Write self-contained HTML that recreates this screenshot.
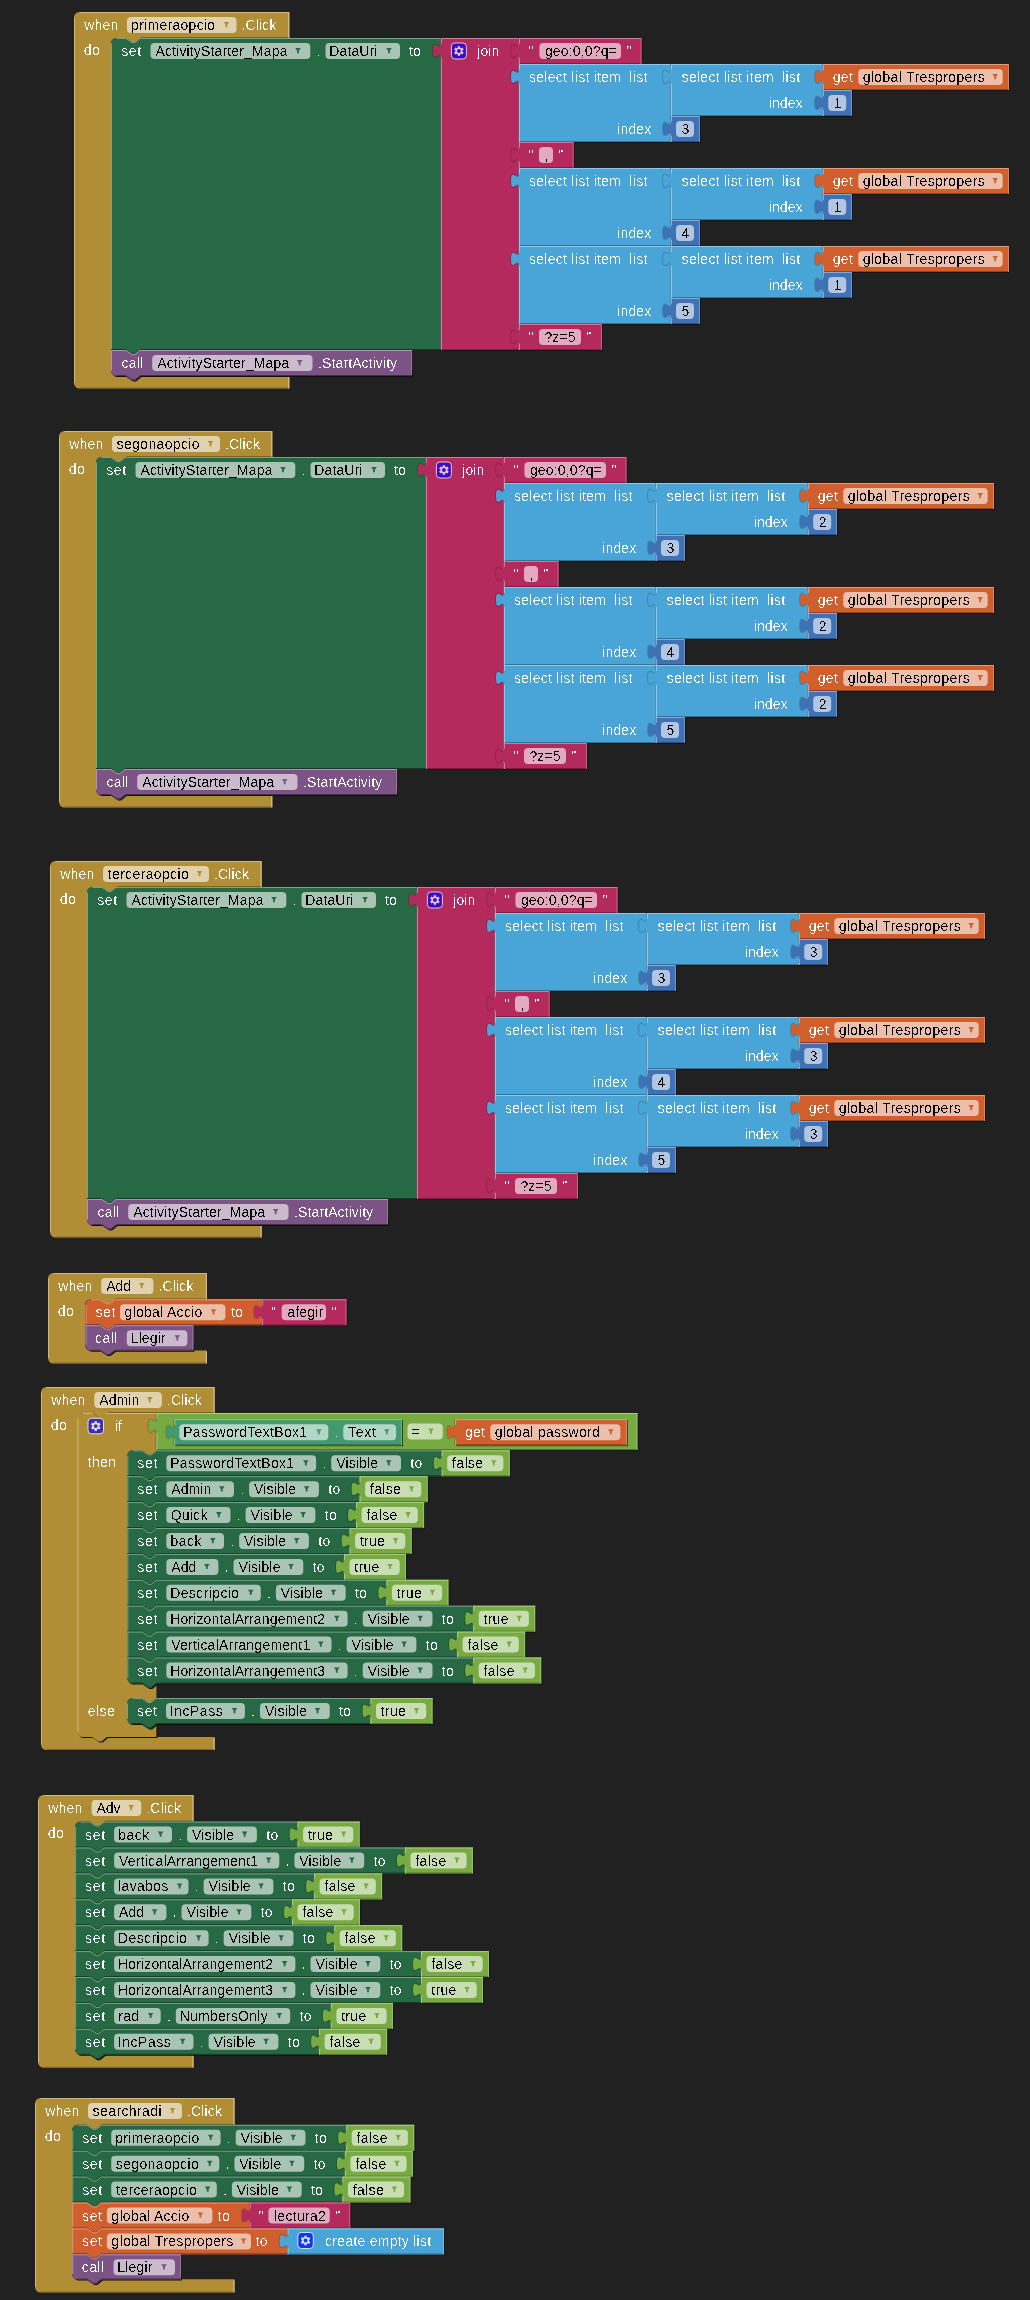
<!DOCTYPE html>
<html><head><meta charset="utf-8"><style>
html,body{margin:0;padding:0;background:#212121;}
svg{display:block;}
text{font-family:"Liberation Sans",Arial,sans-serif;}
</style></head><body>
<svg width="1030" height="2300" viewBox="0 0 1030 2300">
<defs><filter id="crisp" x="0" y="0" width="100%" height="100%" filterUnits="userSpaceOnUse" color-interpolation-filters="sRGB"><feComponentTransfer><feFuncA type="discrete" tableValues="0 0 0 0 0 0 0 0 0 0 0 1 1 1 1 1 1 1 1 1"/></feComponentTransfer></filter><filter id="crispw" x="0" y="0" width="100%" height="100%" filterUnits="userSpaceOnUse" color-interpolation-filters="sRGB"><feComponentTransfer><feFuncA type="discrete" tableValues="0 0 0 0 0 0 0 0 0 0 0 0 1 1 1 1 1 1 1 1"/></feComponentTransfer></filter></defs>
<rect width="1030" height="2300" fill="#212121"/>
<path d="M74,17.5 A5.5,5.5 0 0 1 79.5,12 H289.3 V38 H140.6 l-5.5,4.4 -3,0 -6.6,-4.4 H116.5 A5.5,5.5 0 0 0 111,43.5 V370.5 A5.5,5.5 0 0 0 116.5,376 H289.3 V388.5 H79.5 A5.5,5.5 0 0 1 74,383 Z" fill="#b18e35"/>
<rect x="79.5" y="12" width="209.8" height="1" fill="#cfb982"/>
<rect x="74" y="17.5" width="1" height="365.5" fill="#cfb982"/>
<rect x="288.3" y="13" width="1" height="25" fill="#dccca4"/>
<rect x="288.3" y="377" width="1" height="11.5" fill="#dccca4"/>
<rect x="141" y="37" width="147.3" height="1" fill="#7c6325"/>
<rect x="79.5" y="387.5" width="208.8" height="1" fill="#7c6325"/>
<rect x="127" y="17" width="109.5" height="16" rx="4" fill="#e0d2ae"/>
<path d="M223.7,22 h5.6 l-1.9,2.8 v2.4 h-1.8 v-2.4 z" fill="#b18e35"/>
<path d="M111,43.5 A5.5,5.5 0 0 1 116.5,38 H126 l6,4 3,0 5,-4 H441 V350 H140.6 l-5.5,4.4 -3,0 -6.6,-4.4 H111 Z" fill="#276944"/>
<path d="M116.5,38.5 H126 l6,4 3,0 5,-4 H441" fill="none" stroke="#79a28b" stroke-width="1"/>
<rect x="111" y="43.5" width="1" height="306.5" fill="#79a28b"/>
<rect x="440" y="39" width="1" height="310" fill="#528769"/>
<path d="M111,349.5 H125.6 l6.3,4.2 3,0 5.6,-4.2 H441" fill="none" stroke="#153a25" stroke-width="1"/>
<rect x="150.5" y="43" width="159.8" height="16" rx="4" fill="#a9c3b4"/>
<path d="M295.2,48 h5.6 l-1.9,2.8 v2.4 h-1.8 v-2.4 z" fill="#276944"/>
<rect x="325.5" y="43" width="74.5" height="16" rx="4" fill="#a9c3b4"/>
<path d="M386.2,48 h5.6 l-1.9,2.8 v2.4 h-1.8 v-2.4 z" fill="#276944"/>
<path d="M441,57.8 C441,48.47 433,65.27 433,50.8 C433,36.33 441,53.13 441,43.8" fill="none" stroke="#000" stroke-opacity="0.18" stroke-width="2"/>
<rect x="440" y="38" width="1" height="5.8" fill="#000" fill-opacity="0.25"/>
<rect x="440" y="57.8" width="1" height="292.2" fill="#000" fill-opacity="0.25"/>
<rect x="519" y="39" width="1" height="312" fill="#101010" fill-opacity="0.7"/>
<rect x="442" y="350" width="78" height="1" fill="#101010" fill-opacity="0.7"/>
<path d="M441,38 H519 V350 H441 L441,57.8 C441,48.47 433,65.27 433,50.8 C433,36.33 441,53.13 441,43.8 Z" fill="#b52a5c"/>
<rect x="441" y="38" width="78" height="1" fill="#d17b9a"/>
<rect x="441" y="38" width="1" height="5.8" fill="#d17b9a"/>
<rect x="441" y="57.8" width="1" height="292.2" fill="#d17b9a"/>
<rect x="518" y="38" width="1" height="312" fill="#c85f85"/>
<rect x="442" y="349" width="76" height="1" fill="#7f1d40"/>
<rect x="451.4" y="43" width="15" height="16" rx="3.5" fill="#3a0dcb" stroke="#eac3d1" stroke-width="1"/>
<path d="M457.69,46.15 L460.11,46.15 L460.15,47.73 L461.1,48.28 L462.5,47.53 L463.71,49.62 L462.36,50.45 L462.36,51.55 L463.71,52.38 L462.5,54.47 L461.1,53.72 L460.15,54.27 L460.11,55.85 L457.69,55.85 L457.65,54.27 L456.7,53.72 L455.3,54.47 L454.09,52.38 L455.44,51.55 L455.44,50.45 L454.09,49.62 L455.3,47.53 L456.7,48.28 L457.65,47.73 Z" fill="#eac3d1"/>
<circle cx="458.9" cy="51" r="1.9" fill="#3a0dcb"/>
<path d="M519,57.8 C519,48.47 511,65.27 511,50.8 C511,36.33 519,53.13 519,43.8" fill="none" stroke="#000" stroke-opacity="0.18" stroke-width="2"/>
<rect x="518" y="38" width="1" height="5.8" fill="#000" fill-opacity="0.25"/>
<rect x="518" y="57.8" width="1" height="6.2" fill="#000" fill-opacity="0.25"/>
<rect x="641.5" y="39" width="1" height="26" fill="#101010" fill-opacity="0.7"/>
<rect x="520" y="64" width="122.5" height="1" fill="#101010" fill-opacity="0.7"/>
<path d="M519,38 H641.5 V64 H519 L519,57.8 C519,48.47 511,65.27 511,50.8 C511,36.33 519,53.13 519,43.8 Z" fill="#b52a5c"/>
<rect x="519" y="38" width="122.5" height="1" fill="#d17b9a"/>
<rect x="519" y="38" width="1" height="5.8" fill="#d17b9a"/>
<rect x="519" y="57.8" width="1" height="6.2" fill="#d17b9a"/>
<rect x="640.5" y="38" width="1" height="26" fill="#c85f85"/>
<rect x="520" y="63" width="120.5" height="1" fill="#7f1d40"/>
<rect x="539.4" y="43" width="81.6" height="16" rx="4" fill="#e1aabe"/>
<path d="M519,83.8 C519,74.47 511,91.27 511,76.8 C511,62.33 519,79.13 519,69.8" fill="none" stroke="#000" stroke-opacity="0.18" stroke-width="2"/>
<rect x="518" y="64" width="1" height="5.8" fill="#000" fill-opacity="0.25"/>
<rect x="518" y="83.8" width="1" height="58.2" fill="#000" fill-opacity="0.25"/>
<rect x="671" y="65" width="1" height="78" fill="#101010" fill-opacity="0.7"/>
<rect x="520" y="142" width="152" height="1" fill="#101010" fill-opacity="0.7"/>
<path d="M519,64 H671 V142 H519 L519,83.8 C519,74.47 511,91.27 511,76.8 C511,62.33 519,79.13 519,69.8 Z" fill="#49a4d7"/>
<rect x="519" y="64" width="152" height="1" fill="#8ec7e6"/>
<rect x="519" y="64" width="1" height="5.8" fill="#8ec7e6"/>
<rect x="519" y="83.8" width="1" height="58.2" fill="#8ec7e6"/>
<rect x="670" y="64" width="1" height="78" fill="#76bbe1"/>
<rect x="520" y="141" width="150" height="1" fill="#337396"/>
<path d="M671,83.8 C671,74.47 663,91.27 663,76.8 C663,62.33 671,79.13 671,69.8" fill="none" stroke="#000" stroke-opacity="0.18" stroke-width="2"/>
<rect x="670" y="64" width="1" height="5.8" fill="#000" fill-opacity="0.25"/>
<rect x="670" y="83.8" width="1" height="32.2" fill="#000" fill-opacity="0.25"/>
<rect x="823" y="65" width="1" height="52" fill="#101010" fill-opacity="0.7"/>
<rect x="672" y="116" width="152" height="1" fill="#101010" fill-opacity="0.7"/>
<path d="M671,64 H823 V116 H671 L671,83.8 C671,74.47 663,91.27 663,76.8 C663,62.33 671,79.13 671,69.8 Z" fill="#49a4d7"/>
<rect x="671" y="64" width="152" height="1" fill="#8ec7e6"/>
<rect x="671" y="64" width="1" height="5.8" fill="#8ec7e6"/>
<rect x="671" y="83.8" width="1" height="32.2" fill="#8ec7e6"/>
<rect x="822" y="64" width="1" height="52" fill="#76bbe1"/>
<rect x="672" y="115" width="150" height="1" fill="#337396"/>
<path d="M823,83.8 C823,74.47 815,91.27 815,76.8 C815,62.33 823,79.13 823,69.8" fill="none" stroke="#000" stroke-opacity="0.18" stroke-width="2"/>
<rect x="822" y="64" width="1" height="5.8" fill="#000" fill-opacity="0.25"/>
<rect x="822" y="83.8" width="1" height="6.2" fill="#000" fill-opacity="0.25"/>
<rect x="1009" y="65" width="1" height="26" fill="#101010" fill-opacity="0.7"/>
<rect x="824" y="90" width="186" height="1" fill="#101010" fill-opacity="0.7"/>
<path d="M823,64 H1009 V90 H823 L823,83.8 C823,74.47 815,91.27 815,76.8 C815,62.33 823,79.13 823,69.8 Z" fill="#d05f2d"/>
<rect x="823" y="64" width="186" height="1" fill="#e29c7d"/>
<rect x="823" y="64" width="1" height="5.8" fill="#e29c7d"/>
<rect x="823" y="83.8" width="1" height="6.2" fill="#e29c7d"/>
<rect x="1008" y="64" width="1" height="26" fill="#dc8762"/>
<rect x="824" y="89" width="184" height="1" fill="#92421f"/>
<rect x="858.3" y="69" width="144.4" height="16" rx="4" fill="#ecbfab"/>
<path d="M992.4,74 h5.6 l-1.9,2.8 v2.4 h-1.8 v-2.4 z" fill="#d05f2d"/>
<path d="M823,109.8 C823,100.47 815,117.27 815,102.8 C815,88.33 823,105.13 823,95.8" fill="none" stroke="#000" stroke-opacity="0.18" stroke-width="2"/>
<rect x="822" y="90" width="1" height="5.8" fill="#000" fill-opacity="0.25"/>
<rect x="822" y="109.8" width="1" height="6.2" fill="#000" fill-opacity="0.25"/>
<rect x="852" y="91" width="1" height="26" fill="#101010" fill-opacity="0.7"/>
<rect x="824" y="116" width="29" height="1" fill="#101010" fill-opacity="0.7"/>
<path d="M823,90 H852 V116 H823 L823,109.8 C823,100.47 815,117.27 815,102.8 C815,88.33 823,105.13 823,95.8 Z" fill="#3f71b5"/>
<rect x="823" y="90" width="29" height="1" fill="#88a7d1"/>
<rect x="823" y="90" width="1" height="5.8" fill="#88a7d1"/>
<rect x="823" y="109.8" width="1" height="6.2" fill="#88a7d1"/>
<rect x="851" y="90" width="1" height="26" fill="#6f94c8"/>
<rect x="824" y="115" width="27" height="1" fill="#2c4f7f"/>
<rect x="828.2" y="95" width="18" height="16" rx="4" fill="#b2c6e1"/>
<path d="M671,135.8 C671,126.47 663,143.27 663,128.8 C663,114.33 671,131.13 671,121.8" fill="none" stroke="#000" stroke-opacity="0.18" stroke-width="2"/>
<rect x="670" y="116" width="1" height="5.8" fill="#000" fill-opacity="0.25"/>
<rect x="670" y="135.8" width="1" height="6.2" fill="#000" fill-opacity="0.25"/>
<rect x="700" y="117" width="1" height="26" fill="#101010" fill-opacity="0.7"/>
<rect x="672" y="142" width="29" height="1" fill="#101010" fill-opacity="0.7"/>
<path d="M671,116 H700 V142 H671 L671,135.8 C671,126.47 663,143.27 663,128.8 C663,114.33 671,131.13 671,121.8 Z" fill="#3f71b5"/>
<rect x="671" y="116" width="29" height="1" fill="#88a7d1"/>
<rect x="671" y="116" width="1" height="5.8" fill="#88a7d1"/>
<rect x="671" y="135.8" width="1" height="6.2" fill="#88a7d1"/>
<rect x="699" y="116" width="1" height="26" fill="#6f94c8"/>
<rect x="672" y="141" width="27" height="1" fill="#2c4f7f"/>
<rect x="676" y="121" width="18" height="16" rx="4" fill="#b2c6e1"/>
<path d="M519,161.8 C519,152.47 511,169.27 511,154.8 C511,140.33 519,157.13 519,147.8" fill="none" stroke="#000" stroke-opacity="0.18" stroke-width="2"/>
<rect x="518" y="142" width="1" height="5.8" fill="#000" fill-opacity="0.25"/>
<rect x="518" y="161.8" width="1" height="6.2" fill="#000" fill-opacity="0.25"/>
<rect x="573.6" y="143" width="1" height="26" fill="#101010" fill-opacity="0.7"/>
<rect x="520" y="168" width="54.6" height="1" fill="#101010" fill-opacity="0.7"/>
<path d="M519,142 H573.6 V168 H519 L519,161.8 C519,152.47 511,169.27 511,154.8 C511,140.33 519,157.13 519,147.8 Z" fill="#b52a5c"/>
<rect x="519" y="142" width="54.6" height="1" fill="#d17b9a"/>
<rect x="519" y="142" width="1" height="5.8" fill="#d17b9a"/>
<rect x="519" y="161.8" width="1" height="6.2" fill="#d17b9a"/>
<rect x="572.6" y="142" width="1" height="26" fill="#c85f85"/>
<rect x="520" y="167" width="52.6" height="1" fill="#7f1d40"/>
<rect x="539" y="147" width="14" height="16" rx="4" fill="#e1aabe"/>
<path d="M519,187.8 C519,178.47 511,195.27 511,180.8 C511,166.33 519,183.13 519,173.8" fill="none" stroke="#000" stroke-opacity="0.18" stroke-width="2"/>
<rect x="518" y="168" width="1" height="5.8" fill="#000" fill-opacity="0.25"/>
<rect x="518" y="187.8" width="1" height="58.2" fill="#000" fill-opacity="0.25"/>
<rect x="671" y="169" width="1" height="78" fill="#101010" fill-opacity="0.7"/>
<rect x="520" y="246" width="152" height="1" fill="#101010" fill-opacity="0.7"/>
<path d="M519,168 H671 V246 H519 L519,187.8 C519,178.47 511,195.27 511,180.8 C511,166.33 519,183.13 519,173.8 Z" fill="#49a4d7"/>
<rect x="519" y="168" width="152" height="1" fill="#8ec7e6"/>
<rect x="519" y="168" width="1" height="5.8" fill="#8ec7e6"/>
<rect x="519" y="187.8" width="1" height="58.2" fill="#8ec7e6"/>
<rect x="670" y="168" width="1" height="78" fill="#76bbe1"/>
<rect x="520" y="245" width="150" height="1" fill="#337396"/>
<path d="M671,187.8 C671,178.47 663,195.27 663,180.8 C663,166.33 671,183.13 671,173.8" fill="none" stroke="#000" stroke-opacity="0.18" stroke-width="2"/>
<rect x="670" y="168" width="1" height="5.8" fill="#000" fill-opacity="0.25"/>
<rect x="670" y="187.8" width="1" height="32.2" fill="#000" fill-opacity="0.25"/>
<rect x="823" y="169" width="1" height="52" fill="#101010" fill-opacity="0.7"/>
<rect x="672" y="220" width="152" height="1" fill="#101010" fill-opacity="0.7"/>
<path d="M671,168 H823 V220 H671 L671,187.8 C671,178.47 663,195.27 663,180.8 C663,166.33 671,183.13 671,173.8 Z" fill="#49a4d7"/>
<rect x="671" y="168" width="152" height="1" fill="#8ec7e6"/>
<rect x="671" y="168" width="1" height="5.8" fill="#8ec7e6"/>
<rect x="671" y="187.8" width="1" height="32.2" fill="#8ec7e6"/>
<rect x="822" y="168" width="1" height="52" fill="#76bbe1"/>
<rect x="672" y="219" width="150" height="1" fill="#337396"/>
<path d="M823,187.8 C823,178.47 815,195.27 815,180.8 C815,166.33 823,183.13 823,173.8" fill="none" stroke="#000" stroke-opacity="0.18" stroke-width="2"/>
<rect x="822" y="168" width="1" height="5.8" fill="#000" fill-opacity="0.25"/>
<rect x="822" y="187.8" width="1" height="6.2" fill="#000" fill-opacity="0.25"/>
<rect x="1009" y="169" width="1" height="26" fill="#101010" fill-opacity="0.7"/>
<rect x="824" y="194" width="186" height="1" fill="#101010" fill-opacity="0.7"/>
<path d="M823,168 H1009 V194 H823 L823,187.8 C823,178.47 815,195.27 815,180.8 C815,166.33 823,183.13 823,173.8 Z" fill="#d05f2d"/>
<rect x="823" y="168" width="186" height="1" fill="#e29c7d"/>
<rect x="823" y="168" width="1" height="5.8" fill="#e29c7d"/>
<rect x="823" y="187.8" width="1" height="6.2" fill="#e29c7d"/>
<rect x="1008" y="168" width="1" height="26" fill="#dc8762"/>
<rect x="824" y="193" width="184" height="1" fill="#92421f"/>
<rect x="858.3" y="173" width="144.4" height="16" rx="4" fill="#ecbfab"/>
<path d="M992.4,178 h5.6 l-1.9,2.8 v2.4 h-1.8 v-2.4 z" fill="#d05f2d"/>
<path d="M823,213.8 C823,204.47 815,221.27 815,206.8 C815,192.33 823,209.13 823,199.8" fill="none" stroke="#000" stroke-opacity="0.18" stroke-width="2"/>
<rect x="822" y="194" width="1" height="5.8" fill="#000" fill-opacity="0.25"/>
<rect x="822" y="213.8" width="1" height="6.2" fill="#000" fill-opacity="0.25"/>
<rect x="852" y="195" width="1" height="26" fill="#101010" fill-opacity="0.7"/>
<rect x="824" y="220" width="29" height="1" fill="#101010" fill-opacity="0.7"/>
<path d="M823,194 H852 V220 H823 L823,213.8 C823,204.47 815,221.27 815,206.8 C815,192.33 823,209.13 823,199.8 Z" fill="#3f71b5"/>
<rect x="823" y="194" width="29" height="1" fill="#88a7d1"/>
<rect x="823" y="194" width="1" height="5.8" fill="#88a7d1"/>
<rect x="823" y="213.8" width="1" height="6.2" fill="#88a7d1"/>
<rect x="851" y="194" width="1" height="26" fill="#6f94c8"/>
<rect x="824" y="219" width="27" height="1" fill="#2c4f7f"/>
<rect x="828.2" y="199" width="18" height="16" rx="4" fill="#b2c6e1"/>
<path d="M671,239.8 C671,230.47 663,247.27 663,232.8 C663,218.33 671,235.13 671,225.8" fill="none" stroke="#000" stroke-opacity="0.18" stroke-width="2"/>
<rect x="670" y="220" width="1" height="5.8" fill="#000" fill-opacity="0.25"/>
<rect x="670" y="239.8" width="1" height="6.2" fill="#000" fill-opacity="0.25"/>
<rect x="700" y="221" width="1" height="26" fill="#101010" fill-opacity="0.7"/>
<rect x="672" y="246" width="29" height="1" fill="#101010" fill-opacity="0.7"/>
<path d="M671,220 H700 V246 H671 L671,239.8 C671,230.47 663,247.27 663,232.8 C663,218.33 671,235.13 671,225.8 Z" fill="#3f71b5"/>
<rect x="671" y="220" width="29" height="1" fill="#88a7d1"/>
<rect x="671" y="220" width="1" height="5.8" fill="#88a7d1"/>
<rect x="671" y="239.8" width="1" height="6.2" fill="#88a7d1"/>
<rect x="699" y="220" width="1" height="26" fill="#6f94c8"/>
<rect x="672" y="245" width="27" height="1" fill="#2c4f7f"/>
<rect x="676" y="225" width="18" height="16" rx="4" fill="#b2c6e1"/>
<path d="M519,265.8 C519,256.47 511,273.27 511,258.8 C511,244.33 519,261.13 519,251.8" fill="none" stroke="#000" stroke-opacity="0.18" stroke-width="2"/>
<rect x="518" y="246" width="1" height="5.8" fill="#000" fill-opacity="0.25"/>
<rect x="518" y="265.8" width="1" height="58.2" fill="#000" fill-opacity="0.25"/>
<rect x="671" y="247" width="1" height="78" fill="#101010" fill-opacity="0.7"/>
<rect x="520" y="324" width="152" height="1" fill="#101010" fill-opacity="0.7"/>
<path d="M519,246 H671 V324 H519 L519,265.8 C519,256.47 511,273.27 511,258.8 C511,244.33 519,261.13 519,251.8 Z" fill="#49a4d7"/>
<rect x="519" y="246" width="152" height="1" fill="#8ec7e6"/>
<rect x="519" y="246" width="1" height="5.8" fill="#8ec7e6"/>
<rect x="519" y="265.8" width="1" height="58.2" fill="#8ec7e6"/>
<rect x="670" y="246" width="1" height="78" fill="#76bbe1"/>
<rect x="520" y="323" width="150" height="1" fill="#337396"/>
<path d="M671,265.8 C671,256.47 663,273.27 663,258.8 C663,244.33 671,261.13 671,251.8" fill="none" stroke="#000" stroke-opacity="0.18" stroke-width="2"/>
<rect x="670" y="246" width="1" height="5.8" fill="#000" fill-opacity="0.25"/>
<rect x="670" y="265.8" width="1" height="32.2" fill="#000" fill-opacity="0.25"/>
<rect x="823" y="247" width="1" height="52" fill="#101010" fill-opacity="0.7"/>
<rect x="672" y="298" width="152" height="1" fill="#101010" fill-opacity="0.7"/>
<path d="M671,246 H823 V298 H671 L671,265.8 C671,256.47 663,273.27 663,258.8 C663,244.33 671,261.13 671,251.8 Z" fill="#49a4d7"/>
<rect x="671" y="246" width="152" height="1" fill="#8ec7e6"/>
<rect x="671" y="246" width="1" height="5.8" fill="#8ec7e6"/>
<rect x="671" y="265.8" width="1" height="32.2" fill="#8ec7e6"/>
<rect x="822" y="246" width="1" height="52" fill="#76bbe1"/>
<rect x="672" y="297" width="150" height="1" fill="#337396"/>
<path d="M823,265.8 C823,256.47 815,273.27 815,258.8 C815,244.33 823,261.13 823,251.8" fill="none" stroke="#000" stroke-opacity="0.18" stroke-width="2"/>
<rect x="822" y="246" width="1" height="5.8" fill="#000" fill-opacity="0.25"/>
<rect x="822" y="265.8" width="1" height="6.2" fill="#000" fill-opacity="0.25"/>
<rect x="1009" y="247" width="1" height="26" fill="#101010" fill-opacity="0.7"/>
<rect x="824" y="272" width="186" height="1" fill="#101010" fill-opacity="0.7"/>
<path d="M823,246 H1009 V272 H823 L823,265.8 C823,256.47 815,273.27 815,258.8 C815,244.33 823,261.13 823,251.8 Z" fill="#d05f2d"/>
<rect x="823" y="246" width="186" height="1" fill="#e29c7d"/>
<rect x="823" y="246" width="1" height="5.8" fill="#e29c7d"/>
<rect x="823" y="265.8" width="1" height="6.2" fill="#e29c7d"/>
<rect x="1008" y="246" width="1" height="26" fill="#dc8762"/>
<rect x="824" y="271" width="184" height="1" fill="#92421f"/>
<rect x="858.3" y="251" width="144.4" height="16" rx="4" fill="#ecbfab"/>
<path d="M992.4,256 h5.6 l-1.9,2.8 v2.4 h-1.8 v-2.4 z" fill="#d05f2d"/>
<path d="M823,291.8 C823,282.47 815,299.27 815,284.8 C815,270.33 823,287.13 823,277.8" fill="none" stroke="#000" stroke-opacity="0.18" stroke-width="2"/>
<rect x="822" y="272" width="1" height="5.8" fill="#000" fill-opacity="0.25"/>
<rect x="822" y="291.8" width="1" height="6.2" fill="#000" fill-opacity="0.25"/>
<rect x="852" y="273" width="1" height="26" fill="#101010" fill-opacity="0.7"/>
<rect x="824" y="298" width="29" height="1" fill="#101010" fill-opacity="0.7"/>
<path d="M823,272 H852 V298 H823 L823,291.8 C823,282.47 815,299.27 815,284.8 C815,270.33 823,287.13 823,277.8 Z" fill="#3f71b5"/>
<rect x="823" y="272" width="29" height="1" fill="#88a7d1"/>
<rect x="823" y="272" width="1" height="5.8" fill="#88a7d1"/>
<rect x="823" y="291.8" width="1" height="6.2" fill="#88a7d1"/>
<rect x="851" y="272" width="1" height="26" fill="#6f94c8"/>
<rect x="824" y="297" width="27" height="1" fill="#2c4f7f"/>
<rect x="828.2" y="277" width="18" height="16" rx="4" fill="#b2c6e1"/>
<path d="M671,317.8 C671,308.47 663,325.27 663,310.8 C663,296.33 671,313.13 671,303.8" fill="none" stroke="#000" stroke-opacity="0.18" stroke-width="2"/>
<rect x="670" y="298" width="1" height="5.8" fill="#000" fill-opacity="0.25"/>
<rect x="670" y="317.8" width="1" height="6.2" fill="#000" fill-opacity="0.25"/>
<rect x="700" y="299" width="1" height="26" fill="#101010" fill-opacity="0.7"/>
<rect x="672" y="324" width="29" height="1" fill="#101010" fill-opacity="0.7"/>
<path d="M671,298 H700 V324 H671 L671,317.8 C671,308.47 663,325.27 663,310.8 C663,296.33 671,313.13 671,303.8 Z" fill="#3f71b5"/>
<rect x="671" y="298" width="29" height="1" fill="#88a7d1"/>
<rect x="671" y="298" width="1" height="5.8" fill="#88a7d1"/>
<rect x="671" y="317.8" width="1" height="6.2" fill="#88a7d1"/>
<rect x="699" y="298" width="1" height="26" fill="#6f94c8"/>
<rect x="672" y="323" width="27" height="1" fill="#2c4f7f"/>
<rect x="676" y="303" width="18" height="16" rx="4" fill="#b2c6e1"/>
<path d="M519,343.8 C519,334.47 511,351.27 511,336.8 C511,322.33 519,339.13 519,329.8" fill="none" stroke="#000" stroke-opacity="0.18" stroke-width="2"/>
<rect x="518" y="324" width="1" height="5.8" fill="#000" fill-opacity="0.25"/>
<rect x="518" y="343.8" width="1" height="6.2" fill="#000" fill-opacity="0.25"/>
<rect x="602" y="325" width="1" height="26" fill="#101010" fill-opacity="0.7"/>
<rect x="520" y="350" width="83" height="1" fill="#101010" fill-opacity="0.7"/>
<path d="M519,324 H602 V350 H519 L519,343.8 C519,334.47 511,351.27 511,336.8 C511,322.33 519,339.13 519,329.8 Z" fill="#b52a5c"/>
<rect x="519" y="324" width="83" height="1" fill="#d17b9a"/>
<rect x="519" y="324" width="1" height="5.8" fill="#d17b9a"/>
<rect x="519" y="343.8" width="1" height="6.2" fill="#d17b9a"/>
<rect x="601" y="324" width="1" height="26" fill="#c85f85"/>
<rect x="520" y="349" width="81" height="1" fill="#7f1d40"/>
<rect x="539" y="329" width="42" height="16" rx="4" fill="#e1aabe"/>
<clipPath id="c1"><rect x="0" y="369.5" width="1030" height="200"/></clipPath>
<path d="M111,350 H126 l6,4 3,0 5,-4 H412 V376 H140.6 l-5.5,4.4 -3,0 -6.6,-4.4 H116.5 A5.5,5.5 0 0 1 111,370.5 Z" fill="#101010" transform="translate(1,1)" clip-path="url(#c1)"/>
<path d="M111,350 H126 l6,4 3,0 5,-4 H412 V376 H140.6 l-5.5,4.4 -3,0 -6.6,-4.4 H116.5 A5.5,5.5 0 0 1 111,370.5 Z" fill="#7c5385"/>
<path d="M111,350.5 H126 l6,4 3,0 5,-4 H412" fill="none" stroke="#ae94b3" stroke-width="1"/>
<rect x="111" y="350" width="1" height="20.5" fill="#ae94b3"/>
<rect x="411" y="351" width="1" height="24" fill="#96759d"/>
<path d="M116.5,375.5 H125.6 l6.3,4.2 3,0 5.6,-4.2 H412" fill="none" stroke="#442e49" stroke-width="1"/>
<rect x="152.2" y="355" width="160.3" height="16" rx="4" fill="#cbbace"/>
<path d="M296.9,360 h5.6 l-1.9,2.8 v2.4 h-1.8 v-2.4 z" fill="#7c5385"/>
<path d="M59,436.5 A5.5,5.5 0 0 1 64.5,431 H272.3 V457 H125.6 l-5.5,4.4 -3,0 -6.6,-4.4 H101.5 A5.5,5.5 0 0 0 96,462.5 V789.5 A5.5,5.5 0 0 0 101.5,795 H272.3 V807.5 H64.5 A5.5,5.5 0 0 1 59,802 Z" fill="#b18e35"/>
<rect x="64.5" y="431" width="207.8" height="1" fill="#cfb982"/>
<rect x="59" y="436.5" width="1" height="365.5" fill="#cfb982"/>
<rect x="271.3" y="432" width="1" height="25" fill="#dccca4"/>
<rect x="271.3" y="796" width="1" height="11.5" fill="#dccca4"/>
<rect x="126" y="456" width="145.3" height="1" fill="#7c6325"/>
<rect x="64.5" y="806.5" width="206.8" height="1" fill="#7c6325"/>
<rect x="112" y="436" width="108" height="16" rx="4" fill="#e0d2ae"/>
<path d="M207.7,441 h5.6 l-1.9,2.8 v2.4 h-1.8 v-2.4 z" fill="#b18e35"/>
<path d="M96,462.5 A5.5,5.5 0 0 1 101.5,457 H111 l6,4 3,0 5,-4 H426 V769 H125.6 l-5.5,4.4 -3,0 -6.6,-4.4 H96 Z" fill="#276944"/>
<path d="M101.5,457.5 H111 l6,4 3,0 5,-4 H426" fill="none" stroke="#79a28b" stroke-width="1"/>
<rect x="96" y="462.5" width="1" height="306.5" fill="#79a28b"/>
<rect x="425" y="458" width="1" height="310" fill="#528769"/>
<path d="M96,768.5 H110.6 l6.3,4.2 3,0 5.6,-4.2 H426" fill="none" stroke="#153a25" stroke-width="1"/>
<rect x="135.5" y="462" width="159.8" height="16" rx="4" fill="#a9c3b4"/>
<path d="M280.2,467 h5.6 l-1.9,2.8 v2.4 h-1.8 v-2.4 z" fill="#276944"/>
<rect x="310.5" y="462" width="74.5" height="16" rx="4" fill="#a9c3b4"/>
<path d="M371.2,467 h5.6 l-1.9,2.8 v2.4 h-1.8 v-2.4 z" fill="#276944"/>
<path d="M426,476.8 C426,467.47 418,484.27 418,469.8 C418,455.33 426,472.13 426,462.8" fill="none" stroke="#000" stroke-opacity="0.18" stroke-width="2"/>
<rect x="425" y="457" width="1" height="5.8" fill="#000" fill-opacity="0.25"/>
<rect x="425" y="476.8" width="1" height="292.2" fill="#000" fill-opacity="0.25"/>
<rect x="504" y="458" width="1" height="312" fill="#101010" fill-opacity="0.7"/>
<rect x="427" y="769" width="78" height="1" fill="#101010" fill-opacity="0.7"/>
<path d="M426,457 H504 V769 H426 L426,476.8 C426,467.47 418,484.27 418,469.8 C418,455.33 426,472.13 426,462.8 Z" fill="#b52a5c"/>
<rect x="426" y="457" width="78" height="1" fill="#d17b9a"/>
<rect x="426" y="457" width="1" height="5.8" fill="#d17b9a"/>
<rect x="426" y="476.8" width="1" height="292.2" fill="#d17b9a"/>
<rect x="503" y="457" width="1" height="312" fill="#c85f85"/>
<rect x="427" y="768" width="76" height="1" fill="#7f1d40"/>
<rect x="436.4" y="462" width="15" height="16" rx="3.5" fill="#3a0dcb" stroke="#eac3d1" stroke-width="1"/>
<path d="M442.69,465.15 L445.11,465.15 L445.15,466.73 L446.1,467.28 L447.5,466.53 L448.71,468.62 L447.36,469.45 L447.36,470.55 L448.71,471.38 L447.5,473.47 L446.1,472.72 L445.15,473.27 L445.11,474.85 L442.69,474.85 L442.65,473.27 L441.7,472.72 L440.3,473.47 L439.09,471.38 L440.44,470.55 L440.44,469.45 L439.09,468.62 L440.3,466.53 L441.7,467.28 L442.65,466.73 Z" fill="#eac3d1"/>
<circle cx="443.9" cy="470" r="1.9" fill="#3a0dcb"/>
<path d="M504,476.8 C504,467.47 496,484.27 496,469.8 C496,455.33 504,472.13 504,462.8" fill="none" stroke="#000" stroke-opacity="0.18" stroke-width="2"/>
<rect x="503" y="457" width="1" height="5.8" fill="#000" fill-opacity="0.25"/>
<rect x="503" y="476.8" width="1" height="6.2" fill="#000" fill-opacity="0.25"/>
<rect x="626.5" y="458" width="1" height="26" fill="#101010" fill-opacity="0.7"/>
<rect x="505" y="483" width="122.5" height="1" fill="#101010" fill-opacity="0.7"/>
<path d="M504,457 H626.5 V483 H504 L504,476.8 C504,467.47 496,484.27 496,469.8 C496,455.33 504,472.13 504,462.8 Z" fill="#b52a5c"/>
<rect x="504" y="457" width="122.5" height="1" fill="#d17b9a"/>
<rect x="504" y="457" width="1" height="5.8" fill="#d17b9a"/>
<rect x="504" y="476.8" width="1" height="6.2" fill="#d17b9a"/>
<rect x="625.5" y="457" width="1" height="26" fill="#c85f85"/>
<rect x="505" y="482" width="120.5" height="1" fill="#7f1d40"/>
<rect x="524.4" y="462" width="81.6" height="16" rx="4" fill="#e1aabe"/>
<path d="M504,502.8 C504,493.47 496,510.27 496,495.8 C496,481.33 504,498.13 504,488.8" fill="none" stroke="#000" stroke-opacity="0.18" stroke-width="2"/>
<rect x="503" y="483" width="1" height="5.8" fill="#000" fill-opacity="0.25"/>
<rect x="503" y="502.8" width="1" height="58.2" fill="#000" fill-opacity="0.25"/>
<rect x="656" y="484" width="1" height="78" fill="#101010" fill-opacity="0.7"/>
<rect x="505" y="561" width="152" height="1" fill="#101010" fill-opacity="0.7"/>
<path d="M504,483 H656 V561 H504 L504,502.8 C504,493.47 496,510.27 496,495.8 C496,481.33 504,498.13 504,488.8 Z" fill="#49a4d7"/>
<rect x="504" y="483" width="152" height="1" fill="#8ec7e6"/>
<rect x="504" y="483" width="1" height="5.8" fill="#8ec7e6"/>
<rect x="504" y="502.8" width="1" height="58.2" fill="#8ec7e6"/>
<rect x="655" y="483" width="1" height="78" fill="#76bbe1"/>
<rect x="505" y="560" width="150" height="1" fill="#337396"/>
<path d="M656,502.8 C656,493.47 648,510.27 648,495.8 C648,481.33 656,498.13 656,488.8" fill="none" stroke="#000" stroke-opacity="0.18" stroke-width="2"/>
<rect x="655" y="483" width="1" height="5.8" fill="#000" fill-opacity="0.25"/>
<rect x="655" y="502.8" width="1" height="32.2" fill="#000" fill-opacity="0.25"/>
<rect x="808" y="484" width="1" height="52" fill="#101010" fill-opacity="0.7"/>
<rect x="657" y="535" width="152" height="1" fill="#101010" fill-opacity="0.7"/>
<path d="M656,483 H808 V535 H656 L656,502.8 C656,493.47 648,510.27 648,495.8 C648,481.33 656,498.13 656,488.8 Z" fill="#49a4d7"/>
<rect x="656" y="483" width="152" height="1" fill="#8ec7e6"/>
<rect x="656" y="483" width="1" height="5.8" fill="#8ec7e6"/>
<rect x="656" y="502.8" width="1" height="32.2" fill="#8ec7e6"/>
<rect x="807" y="483" width="1" height="52" fill="#76bbe1"/>
<rect x="657" y="534" width="150" height="1" fill="#337396"/>
<path d="M808,502.8 C808,493.47 800,510.27 800,495.8 C800,481.33 808,498.13 808,488.8" fill="none" stroke="#000" stroke-opacity="0.18" stroke-width="2"/>
<rect x="807" y="483" width="1" height="5.8" fill="#000" fill-opacity="0.25"/>
<rect x="807" y="502.8" width="1" height="6.2" fill="#000" fill-opacity="0.25"/>
<rect x="994" y="484" width="1" height="26" fill="#101010" fill-opacity="0.7"/>
<rect x="809" y="509" width="186" height="1" fill="#101010" fill-opacity="0.7"/>
<path d="M808,483 H994 V509 H808 L808,502.8 C808,493.47 800,510.27 800,495.8 C800,481.33 808,498.13 808,488.8 Z" fill="#d05f2d"/>
<rect x="808" y="483" width="186" height="1" fill="#e29c7d"/>
<rect x="808" y="483" width="1" height="5.8" fill="#e29c7d"/>
<rect x="808" y="502.8" width="1" height="6.2" fill="#e29c7d"/>
<rect x="993" y="483" width="1" height="26" fill="#dc8762"/>
<rect x="809" y="508" width="184" height="1" fill="#92421f"/>
<rect x="843.3" y="488" width="144.4" height="16" rx="4" fill="#ecbfab"/>
<path d="M977.4,493 h5.6 l-1.9,2.8 v2.4 h-1.8 v-2.4 z" fill="#d05f2d"/>
<path d="M808,528.8 C808,519.47 800,536.27 800,521.8 C800,507.33 808,524.13 808,514.8" fill="none" stroke="#000" stroke-opacity="0.18" stroke-width="2"/>
<rect x="807" y="509" width="1" height="5.8" fill="#000" fill-opacity="0.25"/>
<rect x="807" y="528.8" width="1" height="6.2" fill="#000" fill-opacity="0.25"/>
<rect x="837" y="510" width="1" height="26" fill="#101010" fill-opacity="0.7"/>
<rect x="809" y="535" width="29" height="1" fill="#101010" fill-opacity="0.7"/>
<path d="M808,509 H837 V535 H808 L808,528.8 C808,519.47 800,536.27 800,521.8 C800,507.33 808,524.13 808,514.8 Z" fill="#3f71b5"/>
<rect x="808" y="509" width="29" height="1" fill="#88a7d1"/>
<rect x="808" y="509" width="1" height="5.8" fill="#88a7d1"/>
<rect x="808" y="528.8" width="1" height="6.2" fill="#88a7d1"/>
<rect x="836" y="509" width="1" height="26" fill="#6f94c8"/>
<rect x="809" y="534" width="27" height="1" fill="#2c4f7f"/>
<rect x="813.2" y="514" width="18" height="16" rx="4" fill="#b2c6e1"/>
<path d="M656,554.8 C656,545.47 648,562.27 648,547.8 C648,533.33 656,550.13 656,540.8" fill="none" stroke="#000" stroke-opacity="0.18" stroke-width="2"/>
<rect x="655" y="535" width="1" height="5.8" fill="#000" fill-opacity="0.25"/>
<rect x="655" y="554.8" width="1" height="6.2" fill="#000" fill-opacity="0.25"/>
<rect x="685" y="536" width="1" height="26" fill="#101010" fill-opacity="0.7"/>
<rect x="657" y="561" width="29" height="1" fill="#101010" fill-opacity="0.7"/>
<path d="M656,535 H685 V561 H656 L656,554.8 C656,545.47 648,562.27 648,547.8 C648,533.33 656,550.13 656,540.8 Z" fill="#3f71b5"/>
<rect x="656" y="535" width="29" height="1" fill="#88a7d1"/>
<rect x="656" y="535" width="1" height="5.8" fill="#88a7d1"/>
<rect x="656" y="554.8" width="1" height="6.2" fill="#88a7d1"/>
<rect x="684" y="535" width="1" height="26" fill="#6f94c8"/>
<rect x="657" y="560" width="27" height="1" fill="#2c4f7f"/>
<rect x="661" y="540" width="18" height="16" rx="4" fill="#b2c6e1"/>
<path d="M504,580.8 C504,571.47 496,588.27 496,573.8 C496,559.33 504,576.13 504,566.8" fill="none" stroke="#000" stroke-opacity="0.18" stroke-width="2"/>
<rect x="503" y="561" width="1" height="5.8" fill="#000" fill-opacity="0.25"/>
<rect x="503" y="580.8" width="1" height="6.2" fill="#000" fill-opacity="0.25"/>
<rect x="558.6" y="562" width="1" height="26" fill="#101010" fill-opacity="0.7"/>
<rect x="505" y="587" width="54.6" height="1" fill="#101010" fill-opacity="0.7"/>
<path d="M504,561 H558.6 V587 H504 L504,580.8 C504,571.47 496,588.27 496,573.8 C496,559.33 504,576.13 504,566.8 Z" fill="#b52a5c"/>
<rect x="504" y="561" width="54.6" height="1" fill="#d17b9a"/>
<rect x="504" y="561" width="1" height="5.8" fill="#d17b9a"/>
<rect x="504" y="580.8" width="1" height="6.2" fill="#d17b9a"/>
<rect x="557.6" y="561" width="1" height="26" fill="#c85f85"/>
<rect x="505" y="586" width="52.6" height="1" fill="#7f1d40"/>
<rect x="524" y="566" width="14" height="16" rx="4" fill="#e1aabe"/>
<path d="M504,606.8 C504,597.47 496,614.27 496,599.8 C496,585.33 504,602.13 504,592.8" fill="none" stroke="#000" stroke-opacity="0.18" stroke-width="2"/>
<rect x="503" y="587" width="1" height="5.8" fill="#000" fill-opacity="0.25"/>
<rect x="503" y="606.8" width="1" height="58.2" fill="#000" fill-opacity="0.25"/>
<rect x="656" y="588" width="1" height="78" fill="#101010" fill-opacity="0.7"/>
<rect x="505" y="665" width="152" height="1" fill="#101010" fill-opacity="0.7"/>
<path d="M504,587 H656 V665 H504 L504,606.8 C504,597.47 496,614.27 496,599.8 C496,585.33 504,602.13 504,592.8 Z" fill="#49a4d7"/>
<rect x="504" y="587" width="152" height="1" fill="#8ec7e6"/>
<rect x="504" y="587" width="1" height="5.8" fill="#8ec7e6"/>
<rect x="504" y="606.8" width="1" height="58.2" fill="#8ec7e6"/>
<rect x="655" y="587" width="1" height="78" fill="#76bbe1"/>
<rect x="505" y="664" width="150" height="1" fill="#337396"/>
<path d="M656,606.8 C656,597.47 648,614.27 648,599.8 C648,585.33 656,602.13 656,592.8" fill="none" stroke="#000" stroke-opacity="0.18" stroke-width="2"/>
<rect x="655" y="587" width="1" height="5.8" fill="#000" fill-opacity="0.25"/>
<rect x="655" y="606.8" width="1" height="32.2" fill="#000" fill-opacity="0.25"/>
<rect x="808" y="588" width="1" height="52" fill="#101010" fill-opacity="0.7"/>
<rect x="657" y="639" width="152" height="1" fill="#101010" fill-opacity="0.7"/>
<path d="M656,587 H808 V639 H656 L656,606.8 C656,597.47 648,614.27 648,599.8 C648,585.33 656,602.13 656,592.8 Z" fill="#49a4d7"/>
<rect x="656" y="587" width="152" height="1" fill="#8ec7e6"/>
<rect x="656" y="587" width="1" height="5.8" fill="#8ec7e6"/>
<rect x="656" y="606.8" width="1" height="32.2" fill="#8ec7e6"/>
<rect x="807" y="587" width="1" height="52" fill="#76bbe1"/>
<rect x="657" y="638" width="150" height="1" fill="#337396"/>
<path d="M808,606.8 C808,597.47 800,614.27 800,599.8 C800,585.33 808,602.13 808,592.8" fill="none" stroke="#000" stroke-opacity="0.18" stroke-width="2"/>
<rect x="807" y="587" width="1" height="5.8" fill="#000" fill-opacity="0.25"/>
<rect x="807" y="606.8" width="1" height="6.2" fill="#000" fill-opacity="0.25"/>
<rect x="994" y="588" width="1" height="26" fill="#101010" fill-opacity="0.7"/>
<rect x="809" y="613" width="186" height="1" fill="#101010" fill-opacity="0.7"/>
<path d="M808,587 H994 V613 H808 L808,606.8 C808,597.47 800,614.27 800,599.8 C800,585.33 808,602.13 808,592.8 Z" fill="#d05f2d"/>
<rect x="808" y="587" width="186" height="1" fill="#e29c7d"/>
<rect x="808" y="587" width="1" height="5.8" fill="#e29c7d"/>
<rect x="808" y="606.8" width="1" height="6.2" fill="#e29c7d"/>
<rect x="993" y="587" width="1" height="26" fill="#dc8762"/>
<rect x="809" y="612" width="184" height="1" fill="#92421f"/>
<rect x="843.3" y="592" width="144.4" height="16" rx="4" fill="#ecbfab"/>
<path d="M977.4,597 h5.6 l-1.9,2.8 v2.4 h-1.8 v-2.4 z" fill="#d05f2d"/>
<path d="M808,632.8 C808,623.47 800,640.27 800,625.8 C800,611.33 808,628.13 808,618.8" fill="none" stroke="#000" stroke-opacity="0.18" stroke-width="2"/>
<rect x="807" y="613" width="1" height="5.8" fill="#000" fill-opacity="0.25"/>
<rect x="807" y="632.8" width="1" height="6.2" fill="#000" fill-opacity="0.25"/>
<rect x="837" y="614" width="1" height="26" fill="#101010" fill-opacity="0.7"/>
<rect x="809" y="639" width="29" height="1" fill="#101010" fill-opacity="0.7"/>
<path d="M808,613 H837 V639 H808 L808,632.8 C808,623.47 800,640.27 800,625.8 C800,611.33 808,628.13 808,618.8 Z" fill="#3f71b5"/>
<rect x="808" y="613" width="29" height="1" fill="#88a7d1"/>
<rect x="808" y="613" width="1" height="5.8" fill="#88a7d1"/>
<rect x="808" y="632.8" width="1" height="6.2" fill="#88a7d1"/>
<rect x="836" y="613" width="1" height="26" fill="#6f94c8"/>
<rect x="809" y="638" width="27" height="1" fill="#2c4f7f"/>
<rect x="813.2" y="618" width="18" height="16" rx="4" fill="#b2c6e1"/>
<path d="M656,658.8 C656,649.47 648,666.27 648,651.8 C648,637.33 656,654.13 656,644.8" fill="none" stroke="#000" stroke-opacity="0.18" stroke-width="2"/>
<rect x="655" y="639" width="1" height="5.8" fill="#000" fill-opacity="0.25"/>
<rect x="655" y="658.8" width="1" height="6.2" fill="#000" fill-opacity="0.25"/>
<rect x="685" y="640" width="1" height="26" fill="#101010" fill-opacity="0.7"/>
<rect x="657" y="665" width="29" height="1" fill="#101010" fill-opacity="0.7"/>
<path d="M656,639 H685 V665 H656 L656,658.8 C656,649.47 648,666.27 648,651.8 C648,637.33 656,654.13 656,644.8 Z" fill="#3f71b5"/>
<rect x="656" y="639" width="29" height="1" fill="#88a7d1"/>
<rect x="656" y="639" width="1" height="5.8" fill="#88a7d1"/>
<rect x="656" y="658.8" width="1" height="6.2" fill="#88a7d1"/>
<rect x="684" y="639" width="1" height="26" fill="#6f94c8"/>
<rect x="657" y="664" width="27" height="1" fill="#2c4f7f"/>
<rect x="661" y="644" width="18" height="16" rx="4" fill="#b2c6e1"/>
<path d="M504,684.8 C504,675.47 496,692.27 496,677.8 C496,663.33 504,680.13 504,670.8" fill="none" stroke="#000" stroke-opacity="0.18" stroke-width="2"/>
<rect x="503" y="665" width="1" height="5.8" fill="#000" fill-opacity="0.25"/>
<rect x="503" y="684.8" width="1" height="58.2" fill="#000" fill-opacity="0.25"/>
<rect x="656" y="666" width="1" height="78" fill="#101010" fill-opacity="0.7"/>
<rect x="505" y="743" width="152" height="1" fill="#101010" fill-opacity="0.7"/>
<path d="M504,665 H656 V743 H504 L504,684.8 C504,675.47 496,692.27 496,677.8 C496,663.33 504,680.13 504,670.8 Z" fill="#49a4d7"/>
<rect x="504" y="665" width="152" height="1" fill="#8ec7e6"/>
<rect x="504" y="665" width="1" height="5.8" fill="#8ec7e6"/>
<rect x="504" y="684.8" width="1" height="58.2" fill="#8ec7e6"/>
<rect x="655" y="665" width="1" height="78" fill="#76bbe1"/>
<rect x="505" y="742" width="150" height="1" fill="#337396"/>
<path d="M656,684.8 C656,675.47 648,692.27 648,677.8 C648,663.33 656,680.13 656,670.8" fill="none" stroke="#000" stroke-opacity="0.18" stroke-width="2"/>
<rect x="655" y="665" width="1" height="5.8" fill="#000" fill-opacity="0.25"/>
<rect x="655" y="684.8" width="1" height="32.2" fill="#000" fill-opacity="0.25"/>
<rect x="808" y="666" width="1" height="52" fill="#101010" fill-opacity="0.7"/>
<rect x="657" y="717" width="152" height="1" fill="#101010" fill-opacity="0.7"/>
<path d="M656,665 H808 V717 H656 L656,684.8 C656,675.47 648,692.27 648,677.8 C648,663.33 656,680.13 656,670.8 Z" fill="#49a4d7"/>
<rect x="656" y="665" width="152" height="1" fill="#8ec7e6"/>
<rect x="656" y="665" width="1" height="5.8" fill="#8ec7e6"/>
<rect x="656" y="684.8" width="1" height="32.2" fill="#8ec7e6"/>
<rect x="807" y="665" width="1" height="52" fill="#76bbe1"/>
<rect x="657" y="716" width="150" height="1" fill="#337396"/>
<path d="M808,684.8 C808,675.47 800,692.27 800,677.8 C800,663.33 808,680.13 808,670.8" fill="none" stroke="#000" stroke-opacity="0.18" stroke-width="2"/>
<rect x="807" y="665" width="1" height="5.8" fill="#000" fill-opacity="0.25"/>
<rect x="807" y="684.8" width="1" height="6.2" fill="#000" fill-opacity="0.25"/>
<rect x="994" y="666" width="1" height="26" fill="#101010" fill-opacity="0.7"/>
<rect x="809" y="691" width="186" height="1" fill="#101010" fill-opacity="0.7"/>
<path d="M808,665 H994 V691 H808 L808,684.8 C808,675.47 800,692.27 800,677.8 C800,663.33 808,680.13 808,670.8 Z" fill="#d05f2d"/>
<rect x="808" y="665" width="186" height="1" fill="#e29c7d"/>
<rect x="808" y="665" width="1" height="5.8" fill="#e29c7d"/>
<rect x="808" y="684.8" width="1" height="6.2" fill="#e29c7d"/>
<rect x="993" y="665" width="1" height="26" fill="#dc8762"/>
<rect x="809" y="690" width="184" height="1" fill="#92421f"/>
<rect x="843.3" y="670" width="144.4" height="16" rx="4" fill="#ecbfab"/>
<path d="M977.4,675 h5.6 l-1.9,2.8 v2.4 h-1.8 v-2.4 z" fill="#d05f2d"/>
<path d="M808,710.8 C808,701.47 800,718.27 800,703.8 C800,689.33 808,706.13 808,696.8" fill="none" stroke="#000" stroke-opacity="0.18" stroke-width="2"/>
<rect x="807" y="691" width="1" height="5.8" fill="#000" fill-opacity="0.25"/>
<rect x="807" y="710.8" width="1" height="6.2" fill="#000" fill-opacity="0.25"/>
<rect x="837" y="692" width="1" height="26" fill="#101010" fill-opacity="0.7"/>
<rect x="809" y="717" width="29" height="1" fill="#101010" fill-opacity="0.7"/>
<path d="M808,691 H837 V717 H808 L808,710.8 C808,701.47 800,718.27 800,703.8 C800,689.33 808,706.13 808,696.8 Z" fill="#3f71b5"/>
<rect x="808" y="691" width="29" height="1" fill="#88a7d1"/>
<rect x="808" y="691" width="1" height="5.8" fill="#88a7d1"/>
<rect x="808" y="710.8" width="1" height="6.2" fill="#88a7d1"/>
<rect x="836" y="691" width="1" height="26" fill="#6f94c8"/>
<rect x="809" y="716" width="27" height="1" fill="#2c4f7f"/>
<rect x="813.2" y="696" width="18" height="16" rx="4" fill="#b2c6e1"/>
<path d="M656,736.8 C656,727.47 648,744.27 648,729.8 C648,715.33 656,732.13 656,722.8" fill="none" stroke="#000" stroke-opacity="0.18" stroke-width="2"/>
<rect x="655" y="717" width="1" height="5.8" fill="#000" fill-opacity="0.25"/>
<rect x="655" y="736.8" width="1" height="6.2" fill="#000" fill-opacity="0.25"/>
<rect x="685" y="718" width="1" height="26" fill="#101010" fill-opacity="0.7"/>
<rect x="657" y="743" width="29" height="1" fill="#101010" fill-opacity="0.7"/>
<path d="M656,717 H685 V743 H656 L656,736.8 C656,727.47 648,744.27 648,729.8 C648,715.33 656,732.13 656,722.8 Z" fill="#3f71b5"/>
<rect x="656" y="717" width="29" height="1" fill="#88a7d1"/>
<rect x="656" y="717" width="1" height="5.8" fill="#88a7d1"/>
<rect x="656" y="736.8" width="1" height="6.2" fill="#88a7d1"/>
<rect x="684" y="717" width="1" height="26" fill="#6f94c8"/>
<rect x="657" y="742" width="27" height="1" fill="#2c4f7f"/>
<rect x="661" y="722" width="18" height="16" rx="4" fill="#b2c6e1"/>
<path d="M504,762.8 C504,753.47 496,770.27 496,755.8 C496,741.33 504,758.13 504,748.8" fill="none" stroke="#000" stroke-opacity="0.18" stroke-width="2"/>
<rect x="503" y="743" width="1" height="5.8" fill="#000" fill-opacity="0.25"/>
<rect x="503" y="762.8" width="1" height="6.2" fill="#000" fill-opacity="0.25"/>
<rect x="587" y="744" width="1" height="26" fill="#101010" fill-opacity="0.7"/>
<rect x="505" y="769" width="83" height="1" fill="#101010" fill-opacity="0.7"/>
<path d="M504,743 H587 V769 H504 L504,762.8 C504,753.47 496,770.27 496,755.8 C496,741.33 504,758.13 504,748.8 Z" fill="#b52a5c"/>
<rect x="504" y="743" width="83" height="1" fill="#d17b9a"/>
<rect x="504" y="743" width="1" height="5.8" fill="#d17b9a"/>
<rect x="504" y="762.8" width="1" height="6.2" fill="#d17b9a"/>
<rect x="586" y="743" width="1" height="26" fill="#c85f85"/>
<rect x="505" y="768" width="81" height="1" fill="#7f1d40"/>
<rect x="524" y="748" width="42" height="16" rx="4" fill="#e1aabe"/>
<clipPath id="c2"><rect x="0" y="788.5" width="1030" height="200"/></clipPath>
<path d="M96,769 H111 l6,4 3,0 5,-4 H397 V795 H125.6 l-5.5,4.4 -3,0 -6.6,-4.4 H101.5 A5.5,5.5 0 0 1 96,789.5 Z" fill="#101010" transform="translate(1,1)" clip-path="url(#c2)"/>
<path d="M96,769 H111 l6,4 3,0 5,-4 H397 V795 H125.6 l-5.5,4.4 -3,0 -6.6,-4.4 H101.5 A5.5,5.5 0 0 1 96,789.5 Z" fill="#7c5385"/>
<path d="M96,769.5 H111 l6,4 3,0 5,-4 H397" fill="none" stroke="#ae94b3" stroke-width="1"/>
<rect x="96" y="769" width="1" height="20.5" fill="#ae94b3"/>
<rect x="396" y="770" width="1" height="24" fill="#96759d"/>
<path d="M101.5,794.5 H110.6 l6.3,4.2 3,0 5.6,-4.2 H397" fill="none" stroke="#442e49" stroke-width="1"/>
<rect x="137.2" y="774" width="160.3" height="16" rx="4" fill="#cbbace"/>
<path d="M281.9,779 h5.6 l-1.9,2.8 v2.4 h-1.8 v-2.4 z" fill="#7c5385"/>
<path d="M50,866.5 A5.5,5.5 0 0 1 55.5,861 H261.6 V887 H116.6 l-5.5,4.4 -3,0 -6.6,-4.4 H92.5 A5.5,5.5 0 0 0 87,892.5 V1219.5 A5.5,5.5 0 0 0 92.5,1225 H261.6 V1237.5 H55.5 A5.5,5.5 0 0 1 50,1232 Z" fill="#b18e35"/>
<rect x="55.5" y="861" width="206.1" height="1" fill="#cfb982"/>
<rect x="50" y="866.5" width="1" height="365.5" fill="#cfb982"/>
<rect x="260.6" y="862" width="1" height="25" fill="#dccca4"/>
<rect x="260.6" y="1226" width="1" height="11.5" fill="#dccca4"/>
<rect x="117" y="886" width="143.6" height="1" fill="#7c6325"/>
<rect x="55.5" y="1236.5" width="205.1" height="1" fill="#7c6325"/>
<rect x="103" y="866" width="106" height="16" rx="4" fill="#e0d2ae"/>
<path d="M196.7,871 h5.6 l-1.9,2.8 v2.4 h-1.8 v-2.4 z" fill="#b18e35"/>
<path d="M87,892.5 A5.5,5.5 0 0 1 92.5,887 H102 l6,4 3,0 5,-4 H417 V1199 H116.6 l-5.5,4.4 -3,0 -6.6,-4.4 H87 Z" fill="#276944"/>
<path d="M92.5,887.5 H102 l6,4 3,0 5,-4 H417" fill="none" stroke="#79a28b" stroke-width="1"/>
<rect x="87" y="892.5" width="1" height="306.5" fill="#79a28b"/>
<rect x="416" y="888" width="1" height="310" fill="#528769"/>
<path d="M87,1198.5 H101.6 l6.3,4.2 3,0 5.6,-4.2 H417" fill="none" stroke="#153a25" stroke-width="1"/>
<rect x="126.5" y="892" width="159.8" height="16" rx="4" fill="#a9c3b4"/>
<path d="M271.2,897 h5.6 l-1.9,2.8 v2.4 h-1.8 v-2.4 z" fill="#276944"/>
<rect x="301.5" y="892" width="74.5" height="16" rx="4" fill="#a9c3b4"/>
<path d="M362.2,897 h5.6 l-1.9,2.8 v2.4 h-1.8 v-2.4 z" fill="#276944"/>
<path d="M417,906.8 C417,897.47 409,914.27 409,899.8 C409,885.33 417,902.13 417,892.8" fill="none" stroke="#000" stroke-opacity="0.18" stroke-width="2"/>
<rect x="416" y="887" width="1" height="5.8" fill="#000" fill-opacity="0.25"/>
<rect x="416" y="906.8" width="1" height="292.2" fill="#000" fill-opacity="0.25"/>
<rect x="495" y="888" width="1" height="312" fill="#101010" fill-opacity="0.7"/>
<rect x="418" y="1199" width="78" height="1" fill="#101010" fill-opacity="0.7"/>
<path d="M417,887 H495 V1199 H417 L417,906.8 C417,897.47 409,914.27 409,899.8 C409,885.33 417,902.13 417,892.8 Z" fill="#b52a5c"/>
<rect x="417" y="887" width="78" height="1" fill="#d17b9a"/>
<rect x="417" y="887" width="1" height="5.8" fill="#d17b9a"/>
<rect x="417" y="906.8" width="1" height="292.2" fill="#d17b9a"/>
<rect x="494" y="887" width="1" height="312" fill="#c85f85"/>
<rect x="418" y="1198" width="76" height="1" fill="#7f1d40"/>
<rect x="427.4" y="892" width="15" height="16" rx="3.5" fill="#3a0dcb" stroke="#eac3d1" stroke-width="1"/>
<path d="M433.69,895.15 L436.11,895.15 L436.15,896.73 L437.1,897.28 L438.5,896.53 L439.71,898.62 L438.36,899.45 L438.36,900.55 L439.71,901.38 L438.5,903.47 L437.1,902.72 L436.15,903.27 L436.11,904.85 L433.69,904.85 L433.65,903.27 L432.7,902.72 L431.3,903.47 L430.09,901.38 L431.44,900.55 L431.44,899.45 L430.09,898.62 L431.3,896.53 L432.7,897.28 L433.65,896.73 Z" fill="#eac3d1"/>
<circle cx="434.9" cy="900" r="1.9" fill="#3a0dcb"/>
<path d="M495,906.8 C495,897.47 487,914.27 487,899.8 C487,885.33 495,902.13 495,892.8" fill="none" stroke="#000" stroke-opacity="0.18" stroke-width="2"/>
<rect x="494" y="887" width="1" height="5.8" fill="#000" fill-opacity="0.25"/>
<rect x="494" y="906.8" width="1" height="6.2" fill="#000" fill-opacity="0.25"/>
<rect x="617.5" y="888" width="1" height="26" fill="#101010" fill-opacity="0.7"/>
<rect x="496" y="913" width="122.5" height="1" fill="#101010" fill-opacity="0.7"/>
<path d="M495,887 H617.5 V913 H495 L495,906.8 C495,897.47 487,914.27 487,899.8 C487,885.33 495,902.13 495,892.8 Z" fill="#b52a5c"/>
<rect x="495" y="887" width="122.5" height="1" fill="#d17b9a"/>
<rect x="495" y="887" width="1" height="5.8" fill="#d17b9a"/>
<rect x="495" y="906.8" width="1" height="6.2" fill="#d17b9a"/>
<rect x="616.5" y="887" width="1" height="26" fill="#c85f85"/>
<rect x="496" y="912" width="120.5" height="1" fill="#7f1d40"/>
<rect x="515.4" y="892" width="81.6" height="16" rx="4" fill="#e1aabe"/>
<path d="M495,932.8 C495,923.47 487,940.27 487,925.8 C487,911.33 495,928.13 495,918.8" fill="none" stroke="#000" stroke-opacity="0.18" stroke-width="2"/>
<rect x="494" y="913" width="1" height="5.8" fill="#000" fill-opacity="0.25"/>
<rect x="494" y="932.8" width="1" height="58.2" fill="#000" fill-opacity="0.25"/>
<rect x="647" y="914" width="1" height="78" fill="#101010" fill-opacity="0.7"/>
<rect x="496" y="991" width="152" height="1" fill="#101010" fill-opacity="0.7"/>
<path d="M495,913 H647 V991 H495 L495,932.8 C495,923.47 487,940.27 487,925.8 C487,911.33 495,928.13 495,918.8 Z" fill="#49a4d7"/>
<rect x="495" y="913" width="152" height="1" fill="#8ec7e6"/>
<rect x="495" y="913" width="1" height="5.8" fill="#8ec7e6"/>
<rect x="495" y="932.8" width="1" height="58.2" fill="#8ec7e6"/>
<rect x="646" y="913" width="1" height="78" fill="#76bbe1"/>
<rect x="496" y="990" width="150" height="1" fill="#337396"/>
<path d="M647,932.8 C647,923.47 639,940.27 639,925.8 C639,911.33 647,928.13 647,918.8" fill="none" stroke="#000" stroke-opacity="0.18" stroke-width="2"/>
<rect x="646" y="913" width="1" height="5.8" fill="#000" fill-opacity="0.25"/>
<rect x="646" y="932.8" width="1" height="32.2" fill="#000" fill-opacity="0.25"/>
<rect x="799" y="914" width="1" height="52" fill="#101010" fill-opacity="0.7"/>
<rect x="648" y="965" width="152" height="1" fill="#101010" fill-opacity="0.7"/>
<path d="M647,913 H799 V965 H647 L647,932.8 C647,923.47 639,940.27 639,925.8 C639,911.33 647,928.13 647,918.8 Z" fill="#49a4d7"/>
<rect x="647" y="913" width="152" height="1" fill="#8ec7e6"/>
<rect x="647" y="913" width="1" height="5.8" fill="#8ec7e6"/>
<rect x="647" y="932.8" width="1" height="32.2" fill="#8ec7e6"/>
<rect x="798" y="913" width="1" height="52" fill="#76bbe1"/>
<rect x="648" y="964" width="150" height="1" fill="#337396"/>
<path d="M799,932.8 C799,923.47 791,940.27 791,925.8 C791,911.33 799,928.13 799,918.8" fill="none" stroke="#000" stroke-opacity="0.18" stroke-width="2"/>
<rect x="798" y="913" width="1" height="5.8" fill="#000" fill-opacity="0.25"/>
<rect x="798" y="932.8" width="1" height="6.2" fill="#000" fill-opacity="0.25"/>
<rect x="985" y="914" width="1" height="26" fill="#101010" fill-opacity="0.7"/>
<rect x="800" y="939" width="186" height="1" fill="#101010" fill-opacity="0.7"/>
<path d="M799,913 H985 V939 H799 L799,932.8 C799,923.47 791,940.27 791,925.8 C791,911.33 799,928.13 799,918.8 Z" fill="#d05f2d"/>
<rect x="799" y="913" width="186" height="1" fill="#e29c7d"/>
<rect x="799" y="913" width="1" height="5.8" fill="#e29c7d"/>
<rect x="799" y="932.8" width="1" height="6.2" fill="#e29c7d"/>
<rect x="984" y="913" width="1" height="26" fill="#dc8762"/>
<rect x="800" y="938" width="184" height="1" fill="#92421f"/>
<rect x="834.3" y="918" width="144.4" height="16" rx="4" fill="#ecbfab"/>
<path d="M968.4,923 h5.6 l-1.9,2.8 v2.4 h-1.8 v-2.4 z" fill="#d05f2d"/>
<path d="M799,958.8 C799,949.47 791,966.27 791,951.8 C791,937.33 799,954.13 799,944.8" fill="none" stroke="#000" stroke-opacity="0.18" stroke-width="2"/>
<rect x="798" y="939" width="1" height="5.8" fill="#000" fill-opacity="0.25"/>
<rect x="798" y="958.8" width="1" height="6.2" fill="#000" fill-opacity="0.25"/>
<rect x="828" y="940" width="1" height="26" fill="#101010" fill-opacity="0.7"/>
<rect x="800" y="965" width="29" height="1" fill="#101010" fill-opacity="0.7"/>
<path d="M799,939 H828 V965 H799 L799,958.8 C799,949.47 791,966.27 791,951.8 C791,937.33 799,954.13 799,944.8 Z" fill="#3f71b5"/>
<rect x="799" y="939" width="29" height="1" fill="#88a7d1"/>
<rect x="799" y="939" width="1" height="5.8" fill="#88a7d1"/>
<rect x="799" y="958.8" width="1" height="6.2" fill="#88a7d1"/>
<rect x="827" y="939" width="1" height="26" fill="#6f94c8"/>
<rect x="800" y="964" width="27" height="1" fill="#2c4f7f"/>
<rect x="804.2" y="944" width="18" height="16" rx="4" fill="#b2c6e1"/>
<path d="M647,984.8 C647,975.47 639,992.27 639,977.8 C639,963.33 647,980.13 647,970.8" fill="none" stroke="#000" stroke-opacity="0.18" stroke-width="2"/>
<rect x="646" y="965" width="1" height="5.8" fill="#000" fill-opacity="0.25"/>
<rect x="646" y="984.8" width="1" height="6.2" fill="#000" fill-opacity="0.25"/>
<rect x="676" y="966" width="1" height="26" fill="#101010" fill-opacity="0.7"/>
<rect x="648" y="991" width="29" height="1" fill="#101010" fill-opacity="0.7"/>
<path d="M647,965 H676 V991 H647 L647,984.8 C647,975.47 639,992.27 639,977.8 C639,963.33 647,980.13 647,970.8 Z" fill="#3f71b5"/>
<rect x="647" y="965" width="29" height="1" fill="#88a7d1"/>
<rect x="647" y="965" width="1" height="5.8" fill="#88a7d1"/>
<rect x="647" y="984.8" width="1" height="6.2" fill="#88a7d1"/>
<rect x="675" y="965" width="1" height="26" fill="#6f94c8"/>
<rect x="648" y="990" width="27" height="1" fill="#2c4f7f"/>
<rect x="652" y="970" width="18" height="16" rx="4" fill="#b2c6e1"/>
<path d="M495,1010.8 C495,1001.47 487,1018.27 487,1003.8 C487,989.33 495,1006.13 495,996.8" fill="none" stroke="#000" stroke-opacity="0.18" stroke-width="2"/>
<rect x="494" y="991" width="1" height="5.8" fill="#000" fill-opacity="0.25"/>
<rect x="494" y="1010.8" width="1" height="6.2" fill="#000" fill-opacity="0.25"/>
<rect x="549.6" y="992" width="1" height="26" fill="#101010" fill-opacity="0.7"/>
<rect x="496" y="1017" width="54.6" height="1" fill="#101010" fill-opacity="0.7"/>
<path d="M495,991 H549.6 V1017 H495 L495,1010.8 C495,1001.47 487,1018.27 487,1003.8 C487,989.33 495,1006.13 495,996.8 Z" fill="#b52a5c"/>
<rect x="495" y="991" width="54.6" height="1" fill="#d17b9a"/>
<rect x="495" y="991" width="1" height="5.8" fill="#d17b9a"/>
<rect x="495" y="1010.8" width="1" height="6.2" fill="#d17b9a"/>
<rect x="548.6" y="991" width="1" height="26" fill="#c85f85"/>
<rect x="496" y="1016" width="52.6" height="1" fill="#7f1d40"/>
<rect x="515" y="996" width="14" height="16" rx="4" fill="#e1aabe"/>
<path d="M495,1036.8 C495,1027.47 487,1044.27 487,1029.8 C487,1015.33 495,1032.13 495,1022.8" fill="none" stroke="#000" stroke-opacity="0.18" stroke-width="2"/>
<rect x="494" y="1017" width="1" height="5.8" fill="#000" fill-opacity="0.25"/>
<rect x="494" y="1036.8" width="1" height="58.2" fill="#000" fill-opacity="0.25"/>
<rect x="647" y="1018" width="1" height="78" fill="#101010" fill-opacity="0.7"/>
<rect x="496" y="1095" width="152" height="1" fill="#101010" fill-opacity="0.7"/>
<path d="M495,1017 H647 V1095 H495 L495,1036.8 C495,1027.47 487,1044.27 487,1029.8 C487,1015.33 495,1032.13 495,1022.8 Z" fill="#49a4d7"/>
<rect x="495" y="1017" width="152" height="1" fill="#8ec7e6"/>
<rect x="495" y="1017" width="1" height="5.8" fill="#8ec7e6"/>
<rect x="495" y="1036.8" width="1" height="58.2" fill="#8ec7e6"/>
<rect x="646" y="1017" width="1" height="78" fill="#76bbe1"/>
<rect x="496" y="1094" width="150" height="1" fill="#337396"/>
<path d="M647,1036.8 C647,1027.47 639,1044.27 639,1029.8 C639,1015.33 647,1032.13 647,1022.8" fill="none" stroke="#000" stroke-opacity="0.18" stroke-width="2"/>
<rect x="646" y="1017" width="1" height="5.8" fill="#000" fill-opacity="0.25"/>
<rect x="646" y="1036.8" width="1" height="32.2" fill="#000" fill-opacity="0.25"/>
<rect x="799" y="1018" width="1" height="52" fill="#101010" fill-opacity="0.7"/>
<rect x="648" y="1069" width="152" height="1" fill="#101010" fill-opacity="0.7"/>
<path d="M647,1017 H799 V1069 H647 L647,1036.8 C647,1027.47 639,1044.27 639,1029.8 C639,1015.33 647,1032.13 647,1022.8 Z" fill="#49a4d7"/>
<rect x="647" y="1017" width="152" height="1" fill="#8ec7e6"/>
<rect x="647" y="1017" width="1" height="5.8" fill="#8ec7e6"/>
<rect x="647" y="1036.8" width="1" height="32.2" fill="#8ec7e6"/>
<rect x="798" y="1017" width="1" height="52" fill="#76bbe1"/>
<rect x="648" y="1068" width="150" height="1" fill="#337396"/>
<path d="M799,1036.8 C799,1027.47 791,1044.27 791,1029.8 C791,1015.33 799,1032.13 799,1022.8" fill="none" stroke="#000" stroke-opacity="0.18" stroke-width="2"/>
<rect x="798" y="1017" width="1" height="5.8" fill="#000" fill-opacity="0.25"/>
<rect x="798" y="1036.8" width="1" height="6.2" fill="#000" fill-opacity="0.25"/>
<rect x="985" y="1018" width="1" height="26" fill="#101010" fill-opacity="0.7"/>
<rect x="800" y="1043" width="186" height="1" fill="#101010" fill-opacity="0.7"/>
<path d="M799,1017 H985 V1043 H799 L799,1036.8 C799,1027.47 791,1044.27 791,1029.8 C791,1015.33 799,1032.13 799,1022.8 Z" fill="#d05f2d"/>
<rect x="799" y="1017" width="186" height="1" fill="#e29c7d"/>
<rect x="799" y="1017" width="1" height="5.8" fill="#e29c7d"/>
<rect x="799" y="1036.8" width="1" height="6.2" fill="#e29c7d"/>
<rect x="984" y="1017" width="1" height="26" fill="#dc8762"/>
<rect x="800" y="1042" width="184" height="1" fill="#92421f"/>
<rect x="834.3" y="1022" width="144.4" height="16" rx="4" fill="#ecbfab"/>
<path d="M968.4,1027 h5.6 l-1.9,2.8 v2.4 h-1.8 v-2.4 z" fill="#d05f2d"/>
<path d="M799,1062.8 C799,1053.47 791,1070.27 791,1055.8 C791,1041.33 799,1058.13 799,1048.8" fill="none" stroke="#000" stroke-opacity="0.18" stroke-width="2"/>
<rect x="798" y="1043" width="1" height="5.8" fill="#000" fill-opacity="0.25"/>
<rect x="798" y="1062.8" width="1" height="6.2" fill="#000" fill-opacity="0.25"/>
<rect x="828" y="1044" width="1" height="26" fill="#101010" fill-opacity="0.7"/>
<rect x="800" y="1069" width="29" height="1" fill="#101010" fill-opacity="0.7"/>
<path d="M799,1043 H828 V1069 H799 L799,1062.8 C799,1053.47 791,1070.27 791,1055.8 C791,1041.33 799,1058.13 799,1048.8 Z" fill="#3f71b5"/>
<rect x="799" y="1043" width="29" height="1" fill="#88a7d1"/>
<rect x="799" y="1043" width="1" height="5.8" fill="#88a7d1"/>
<rect x="799" y="1062.8" width="1" height="6.2" fill="#88a7d1"/>
<rect x="827" y="1043" width="1" height="26" fill="#6f94c8"/>
<rect x="800" y="1068" width="27" height="1" fill="#2c4f7f"/>
<rect x="804.2" y="1048" width="18" height="16" rx="4" fill="#b2c6e1"/>
<path d="M647,1088.8 C647,1079.47 639,1096.27 639,1081.8 C639,1067.33 647,1084.13 647,1074.8" fill="none" stroke="#000" stroke-opacity="0.18" stroke-width="2"/>
<rect x="646" y="1069" width="1" height="5.8" fill="#000" fill-opacity="0.25"/>
<rect x="646" y="1088.8" width="1" height="6.2" fill="#000" fill-opacity="0.25"/>
<rect x="676" y="1070" width="1" height="26" fill="#101010" fill-opacity="0.7"/>
<rect x="648" y="1095" width="29" height="1" fill="#101010" fill-opacity="0.7"/>
<path d="M647,1069 H676 V1095 H647 L647,1088.8 C647,1079.47 639,1096.27 639,1081.8 C639,1067.33 647,1084.13 647,1074.8 Z" fill="#3f71b5"/>
<rect x="647" y="1069" width="29" height="1" fill="#88a7d1"/>
<rect x="647" y="1069" width="1" height="5.8" fill="#88a7d1"/>
<rect x="647" y="1088.8" width="1" height="6.2" fill="#88a7d1"/>
<rect x="675" y="1069" width="1" height="26" fill="#6f94c8"/>
<rect x="648" y="1094" width="27" height="1" fill="#2c4f7f"/>
<rect x="652" y="1074" width="18" height="16" rx="4" fill="#b2c6e1"/>
<path d="M495,1114.8 C495,1105.47 487,1122.27 487,1107.8 C487,1093.33 495,1110.13 495,1100.8" fill="none" stroke="#000" stroke-opacity="0.18" stroke-width="2"/>
<rect x="494" y="1095" width="1" height="5.8" fill="#000" fill-opacity="0.25"/>
<rect x="494" y="1114.8" width="1" height="58.2" fill="#000" fill-opacity="0.25"/>
<rect x="647" y="1096" width="1" height="78" fill="#101010" fill-opacity="0.7"/>
<rect x="496" y="1173" width="152" height="1" fill="#101010" fill-opacity="0.7"/>
<path d="M495,1095 H647 V1173 H495 L495,1114.8 C495,1105.47 487,1122.27 487,1107.8 C487,1093.33 495,1110.13 495,1100.8 Z" fill="#49a4d7"/>
<rect x="495" y="1095" width="152" height="1" fill="#8ec7e6"/>
<rect x="495" y="1095" width="1" height="5.8" fill="#8ec7e6"/>
<rect x="495" y="1114.8" width="1" height="58.2" fill="#8ec7e6"/>
<rect x="646" y="1095" width="1" height="78" fill="#76bbe1"/>
<rect x="496" y="1172" width="150" height="1" fill="#337396"/>
<path d="M647,1114.8 C647,1105.47 639,1122.27 639,1107.8 C639,1093.33 647,1110.13 647,1100.8" fill="none" stroke="#000" stroke-opacity="0.18" stroke-width="2"/>
<rect x="646" y="1095" width="1" height="5.8" fill="#000" fill-opacity="0.25"/>
<rect x="646" y="1114.8" width="1" height="32.2" fill="#000" fill-opacity="0.25"/>
<rect x="799" y="1096" width="1" height="52" fill="#101010" fill-opacity="0.7"/>
<rect x="648" y="1147" width="152" height="1" fill="#101010" fill-opacity="0.7"/>
<path d="M647,1095 H799 V1147 H647 L647,1114.8 C647,1105.47 639,1122.27 639,1107.8 C639,1093.33 647,1110.13 647,1100.8 Z" fill="#49a4d7"/>
<rect x="647" y="1095" width="152" height="1" fill="#8ec7e6"/>
<rect x="647" y="1095" width="1" height="5.8" fill="#8ec7e6"/>
<rect x="647" y="1114.8" width="1" height="32.2" fill="#8ec7e6"/>
<rect x="798" y="1095" width="1" height="52" fill="#76bbe1"/>
<rect x="648" y="1146" width="150" height="1" fill="#337396"/>
<path d="M799,1114.8 C799,1105.47 791,1122.27 791,1107.8 C791,1093.33 799,1110.13 799,1100.8" fill="none" stroke="#000" stroke-opacity="0.18" stroke-width="2"/>
<rect x="798" y="1095" width="1" height="5.8" fill="#000" fill-opacity="0.25"/>
<rect x="798" y="1114.8" width="1" height="6.2" fill="#000" fill-opacity="0.25"/>
<rect x="985" y="1096" width="1" height="26" fill="#101010" fill-opacity="0.7"/>
<rect x="800" y="1121" width="186" height="1" fill="#101010" fill-opacity="0.7"/>
<path d="M799,1095 H985 V1121 H799 L799,1114.8 C799,1105.47 791,1122.27 791,1107.8 C791,1093.33 799,1110.13 799,1100.8 Z" fill="#d05f2d"/>
<rect x="799" y="1095" width="186" height="1" fill="#e29c7d"/>
<rect x="799" y="1095" width="1" height="5.8" fill="#e29c7d"/>
<rect x="799" y="1114.8" width="1" height="6.2" fill="#e29c7d"/>
<rect x="984" y="1095" width="1" height="26" fill="#dc8762"/>
<rect x="800" y="1120" width="184" height="1" fill="#92421f"/>
<rect x="834.3" y="1100" width="144.4" height="16" rx="4" fill="#ecbfab"/>
<path d="M968.4,1105 h5.6 l-1.9,2.8 v2.4 h-1.8 v-2.4 z" fill="#d05f2d"/>
<path d="M799,1140.8 C799,1131.47 791,1148.27 791,1133.8 C791,1119.33 799,1136.13 799,1126.8" fill="none" stroke="#000" stroke-opacity="0.18" stroke-width="2"/>
<rect x="798" y="1121" width="1" height="5.8" fill="#000" fill-opacity="0.25"/>
<rect x="798" y="1140.8" width="1" height="6.2" fill="#000" fill-opacity="0.25"/>
<rect x="828" y="1122" width="1" height="26" fill="#101010" fill-opacity="0.7"/>
<rect x="800" y="1147" width="29" height="1" fill="#101010" fill-opacity="0.7"/>
<path d="M799,1121 H828 V1147 H799 L799,1140.8 C799,1131.47 791,1148.27 791,1133.8 C791,1119.33 799,1136.13 799,1126.8 Z" fill="#3f71b5"/>
<rect x="799" y="1121" width="29" height="1" fill="#88a7d1"/>
<rect x="799" y="1121" width="1" height="5.8" fill="#88a7d1"/>
<rect x="799" y="1140.8" width="1" height="6.2" fill="#88a7d1"/>
<rect x="827" y="1121" width="1" height="26" fill="#6f94c8"/>
<rect x="800" y="1146" width="27" height="1" fill="#2c4f7f"/>
<rect x="804.2" y="1126" width="18" height="16" rx="4" fill="#b2c6e1"/>
<path d="M647,1166.8 C647,1157.47 639,1174.27 639,1159.8 C639,1145.33 647,1162.13 647,1152.8" fill="none" stroke="#000" stroke-opacity="0.18" stroke-width="2"/>
<rect x="646" y="1147" width="1" height="5.8" fill="#000" fill-opacity="0.25"/>
<rect x="646" y="1166.8" width="1" height="6.2" fill="#000" fill-opacity="0.25"/>
<rect x="676" y="1148" width="1" height="26" fill="#101010" fill-opacity="0.7"/>
<rect x="648" y="1173" width="29" height="1" fill="#101010" fill-opacity="0.7"/>
<path d="M647,1147 H676 V1173 H647 L647,1166.8 C647,1157.47 639,1174.27 639,1159.8 C639,1145.33 647,1162.13 647,1152.8 Z" fill="#3f71b5"/>
<rect x="647" y="1147" width="29" height="1" fill="#88a7d1"/>
<rect x="647" y="1147" width="1" height="5.8" fill="#88a7d1"/>
<rect x="647" y="1166.8" width="1" height="6.2" fill="#88a7d1"/>
<rect x="675" y="1147" width="1" height="26" fill="#6f94c8"/>
<rect x="648" y="1172" width="27" height="1" fill="#2c4f7f"/>
<rect x="652" y="1152" width="18" height="16" rx="4" fill="#b2c6e1"/>
<path d="M495,1192.8 C495,1183.47 487,1200.27 487,1185.8 C487,1171.33 495,1188.13 495,1178.8" fill="none" stroke="#000" stroke-opacity="0.18" stroke-width="2"/>
<rect x="494" y="1173" width="1" height="5.8" fill="#000" fill-opacity="0.25"/>
<rect x="494" y="1192.8" width="1" height="6.2" fill="#000" fill-opacity="0.25"/>
<rect x="578" y="1174" width="1" height="26" fill="#101010" fill-opacity="0.7"/>
<rect x="496" y="1199" width="83" height="1" fill="#101010" fill-opacity="0.7"/>
<path d="M495,1173 H578 V1199 H495 L495,1192.8 C495,1183.47 487,1200.27 487,1185.8 C487,1171.33 495,1188.13 495,1178.8 Z" fill="#b52a5c"/>
<rect x="495" y="1173" width="83" height="1" fill="#d17b9a"/>
<rect x="495" y="1173" width="1" height="5.8" fill="#d17b9a"/>
<rect x="495" y="1192.8" width="1" height="6.2" fill="#d17b9a"/>
<rect x="577" y="1173" width="1" height="26" fill="#c85f85"/>
<rect x="496" y="1198" width="81" height="1" fill="#7f1d40"/>
<rect x="515" y="1178" width="42" height="16" rx="4" fill="#e1aabe"/>
<clipPath id="c3"><rect x="0" y="1218.5" width="1030" height="200"/></clipPath>
<path d="M87,1199 H102 l6,4 3,0 5,-4 H388 V1225 H116.6 l-5.5,4.4 -3,0 -6.6,-4.4 H92.5 A5.5,5.5 0 0 1 87,1219.5 Z" fill="#101010" transform="translate(1,1)" clip-path="url(#c3)"/>
<path d="M87,1199 H102 l6,4 3,0 5,-4 H388 V1225 H116.6 l-5.5,4.4 -3,0 -6.6,-4.4 H92.5 A5.5,5.5 0 0 1 87,1219.5 Z" fill="#7c5385"/>
<path d="M87,1199.5 H102 l6,4 3,0 5,-4 H388" fill="none" stroke="#ae94b3" stroke-width="1"/>
<rect x="87" y="1199" width="1" height="20.5" fill="#ae94b3"/>
<rect x="387" y="1200" width="1" height="24" fill="#96759d"/>
<path d="M92.5,1224.5 H101.6 l6.3,4.2 3,0 5.6,-4.2 H388" fill="none" stroke="#442e49" stroke-width="1"/>
<rect x="128.2" y="1204" width="160.3" height="16" rx="4" fill="#cbbace"/>
<path d="M272.9,1209 h5.6 l-1.9,2.8 v2.4 h-1.8 v-2.4 z" fill="#7c5385"/>
<path d="M48,1278.5 A5.5,5.5 0 0 1 53.5,1273 H206.8 V1299.3 H114.6 l-5.5,4.4 -3,0 -6.6,-4.4 H90.5 A5.5,5.5 0 0 0 85,1304.8 V1345 A5.5,5.5 0 0 0 90.5,1350.5 H206.8 V1363.5 H53.5 A5.5,5.5 0 0 1 48,1358 Z" fill="#b18e35"/>
<rect x="53.5" y="1273" width="153.3" height="1" fill="#cfb982"/>
<rect x="48" y="1278.5" width="1" height="79.5" fill="#cfb982"/>
<rect x="205.8" y="1274" width="1" height="25.3" fill="#dccca4"/>
<rect x="205.8" y="1351.5" width="1" height="12" fill="#dccca4"/>
<rect x="115" y="1298.3" width="90.8" height="1" fill="#7c6325"/>
<rect x="53.5" y="1362.5" width="152.3" height="1" fill="#7c6325"/>
<rect x="101.2" y="1278" width="52.2" height="16" rx="4" fill="#e0d2ae"/>
<path d="M138.9,1283 h5.6 l-1.9,2.8 v2.4 h-1.8 v-2.4 z" fill="#b18e35"/>
<path d="M85.5,1304.8 A5.5,5.5 0 0 1 91,1299.3 H100.5 l6,4 3,0 5,-4 H262.1 V1325.3 H115.1 l-5.5,4.4 -3,0 -6.6,-4.4 H85.5 Z" fill="#d05f2d"/>
<path d="M91,1299.8 H100.5 l6,4 3,0 5,-4 H262.1" fill="none" stroke="#e29c7d" stroke-width="1"/>
<rect x="85.5" y="1304.8" width="1" height="20.5" fill="#e29c7d"/>
<rect x="261.1" y="1300.3" width="1" height="24" fill="#d97f57"/>
<path d="M85.5,1324.8 H100.1 l6.3,4.2 3,0 5.6,-4.2 H262.1" fill="none" stroke="#723419" stroke-width="1"/>
<rect x="120" y="1304.3" width="105.4" height="16" rx="4" fill="#ecbfab"/>
<path d="M210.7,1309.3 h5.6 l-1.9,2.8 v2.4 h-1.8 v-2.4 z" fill="#d05f2d"/>
<path d="M262.1,1319.1 C262.1,1309.77 254.1,1326.57 254.1,1312.1 C254.1,1297.63 262.1,1314.43 262.1,1305.1" fill="none" stroke="#000" stroke-opacity="0.18" stroke-width="2"/>
<rect x="261.1" y="1299.3" width="1" height="5.8" fill="#000" fill-opacity="0.25"/>
<rect x="261.1" y="1319.1" width="1" height="6.2" fill="#000" fill-opacity="0.25"/>
<rect x="346.4" y="1300.3" width="1" height="26" fill="#101010" fill-opacity="0.7"/>
<rect x="263.1" y="1325.3" width="84.3" height="1" fill="#101010" fill-opacity="0.7"/>
<path d="M262.1,1299.3 H346.4 V1325.3 H262.1 L262.1,1319.1 C262.1,1309.77 254.1,1326.57 254.1,1312.1 C254.1,1297.63 262.1,1314.43 262.1,1305.1 Z" fill="#b52a5c"/>
<rect x="262.1" y="1299.3" width="84.3" height="1" fill="#d17b9a"/>
<rect x="262.1" y="1299.3" width="1" height="5.8" fill="#d17b9a"/>
<rect x="262.1" y="1319.1" width="1" height="6.2" fill="#d17b9a"/>
<rect x="345.4" y="1299.3" width="1" height="26" fill="#c85f85"/>
<rect x="263.1" y="1324.3" width="82.3" height="1" fill="#7f1d40"/>
<rect x="281.7" y="1304.3" width="44.3" height="16" rx="4" fill="#e1aabe"/>
<clipPath id="c4"><rect x="0" y="1344.2" width="1030" height="200"/></clipPath>
<path d="M85.5,1325.2 H100.5 l6,4 3,0 5,-4 H193.4 V1350.7 H115.1 l-5.5,4.4 -3,0 -6.6,-4.4 H91 A5.5,5.5 0 0 1 85.5,1345.2 Z" fill="#101010" transform="translate(1,1)" clip-path="url(#c4)"/>
<path d="M85.5,1325.2 H100.5 l6,4 3,0 5,-4 H193.4 V1350.7 H115.1 l-5.5,4.4 -3,0 -6.6,-4.4 H91 A5.5,5.5 0 0 1 85.5,1345.2 Z" fill="#7c5385"/>
<path d="M85.5,1325.7 H100.5 l6,4 3,0 5,-4 H193.4" fill="none" stroke="#ae94b3" stroke-width="1"/>
<rect x="85.5" y="1325.2" width="1" height="20" fill="#ae94b3"/>
<rect x="192.4" y="1326.2" width="1" height="23.5" fill="#96759d"/>
<path d="M91,1350.2 H100.1 l6.3,4.2 3,0 5.6,-4.2 H193.4" fill="none" stroke="#442e49" stroke-width="1"/>
<rect x="126.8" y="1330.2" width="60.6" height="16" rx="4" fill="#cbbace"/>
<path d="M174.5,1335.2 h5.6 l-1.9,2.8 v2.4 h-1.8 v-2.4 z" fill="#7c5385"/>
<path d="M41,1392.5 A5.5,5.5 0 0 1 46.5,1387 H214.6 V1413 H107.6 l-5.5,4.4 -3,0 -6.6,-4.4 H83.5 A5.5,5.5 0 0 0 78,1418.5 V1731.5 A5.5,5.5 0 0 0 83.5,1737 H214.6 V1750 H46.5 A5.5,5.5 0 0 1 41,1744.5 Z" fill="#b18e35"/>
<rect x="46.5" y="1387" width="168.1" height="1" fill="#cfb982"/>
<rect x="41" y="1392.5" width="1" height="352" fill="#cfb982"/>
<rect x="213.6" y="1388" width="1" height="25" fill="#dccca4"/>
<rect x="213.6" y="1738" width="1" height="12" fill="#dccca4"/>
<rect x="108" y="1412" width="105.6" height="1" fill="#7c6325"/>
<rect x="46.5" y="1749" width="167.1" height="1" fill="#7c6325"/>
<rect x="94.3" y="1392" width="67.5" height="16" rx="4" fill="#e0d2ae"/>
<path d="M147,1397 h5.6 l-1.9,2.8 v2.4 h-1.8 v-2.4 z" fill="#b18e35"/>
<clipPath id="c5"><rect x="0" y="1725.7" width="1030" height="200"/></clipPath>
<path d="M77.4,1418.5 A5.5,5.5 0 0 1 82.9,1413 H92.4 l6,4 3,0 5,-4 H156.4 V1450.3 H156.9 l-5.5,4.4 -3,0 -6.6,-4.4 H132.8 A5.5,5.5 0 0 0 127.3,1455.8 V1678 A5.5,5.5 0 0 0 132.8,1683.5 H156.4 V1698 H156.9 l-5.5,4.4 -3,0 -6.6,-4.4 H132.8 A5.5,5.5 0 0 0 127.3,1703.5 V1718.2 A5.5,5.5 0 0 0 132.8,1723.7 H156.4 V1737 H107 l-5.5,4.4 -3,0 -6.6,-4.4 H82.9 A5.5,5.5 0 0 1 77.4,1731.5 Z" fill="#101010" transform="translate(1,1)" clip-path="url(#c5)"/>
<path d="M77.4,1418.5 A5.5,5.5 0 0 1 82.9,1413 H92.4 l6,4 3,0 5,-4 H156.4 V1450.3 H156.9 l-5.5,4.4 -3,0 -6.6,-4.4 H132.8 A5.5,5.5 0 0 0 127.3,1455.8 V1678 A5.5,5.5 0 0 0 132.8,1683.5 H156.4 V1698 H156.9 l-5.5,4.4 -3,0 -6.6,-4.4 H132.8 A5.5,5.5 0 0 0 127.3,1703.5 V1718.2 A5.5,5.5 0 0 0 132.8,1723.7 H156.4 V1737 H107 l-5.5,4.4 -3,0 -6.6,-4.4 H82.9 A5.5,5.5 0 0 1 77.4,1731.5 Z" fill="#b18e35"/>
<rect x="82.9" y="1413" width="9.5" height="1" fill="#cfb982"/>
<rect x="106.4" y="1413" width="50" height="1" fill="#cfb982"/>
<rect x="77.4" y="1418.5" width="1" height="313" fill="#cfb982"/>
<rect x="88" y="1418.3" width="15.5" height="15.5" rx="3.5" fill="#392dbe" stroke="#e9dfc6" stroke-width="1"/>
<path d="M94.54,1421.2 L96.96,1421.2 L97,1422.78 L97.95,1423.33 L99.35,1422.58 L100.56,1424.67 L99.21,1425.5 L99.21,1426.6 L100.56,1427.43 L99.35,1429.52 L97.95,1428.77 L97,1429.32 L96.96,1430.9 L94.54,1430.9 L94.5,1429.32 L93.55,1428.77 L92.15,1429.52 L90.94,1427.43 L92.29,1426.6 L92.29,1425.5 L90.94,1424.67 L92.15,1422.58 L93.55,1423.33 L94.5,1422.78 Z" fill="#e9dfc6"/>
<circle cx="95.75" cy="1426.05" r="1.9" fill="#392dbe"/>
<path d="M156.4,1432.8 C156.4,1423.47 148.4,1440.27 148.4,1425.8 C148.4,1411.33 156.4,1428.13 156.4,1418.8" fill="none" stroke="#000" stroke-opacity="0.18" stroke-width="2"/>
<rect x="155.4" y="1413" width="1" height="5.8" fill="#000" fill-opacity="0.25"/>
<rect x="155.4" y="1432.8" width="1" height="17.2" fill="#000" fill-opacity="0.25"/>
<rect x="637.4" y="1414" width="1" height="37" fill="#101010" fill-opacity="0.7"/>
<rect x="157.4" y="1450" width="481" height="1" fill="#101010" fill-opacity="0.7"/>
<path d="M156.4,1413 H637.4 V1450 H156.4 L156.4,1432.8 C156.4,1423.47 148.4,1440.27 148.4,1425.8 C148.4,1411.33 156.4,1428.13 156.4,1418.8 Z" fill="#77ab41"/>
<rect x="156.4" y="1413" width="481" height="1" fill="#abcb89"/>
<rect x="156.4" y="1413" width="1" height="5.8" fill="#abcb89"/>
<rect x="156.4" y="1432.8" width="1" height="17.2" fill="#abcb89"/>
<rect x="636.4" y="1413" width="1" height="37" fill="#99c070"/>
<rect x="157.4" y="1449" width="479" height="1" fill="#53782e"/>
<path d="M174.3,1439 C174.3,1429.67 166.3,1446.47 166.3,1432 C166.3,1417.53 174.3,1434.33 174.3,1425" fill="none" stroke="#000" stroke-opacity="0.18" stroke-width="2"/>
<rect x="173.3" y="1419.2" width="1" height="5.8" fill="#000" fill-opacity="0.25"/>
<rect x="173.3" y="1439" width="1" height="6.2" fill="#000" fill-opacity="0.25"/>
<rect x="402" y="1420.2" width="1" height="26" fill="#101010" fill-opacity="0.7"/>
<rect x="175.3" y="1445.2" width="227.7" height="1" fill="#101010" fill-opacity="0.7"/>
<path d="M174.3,1419.2 H402 V1445.2 H174.3 L174.3,1439 C174.3,1429.67 166.3,1446.47 166.3,1432 C166.3,1417.53 174.3,1434.33 174.3,1425 Z" fill="#439970"/>
<rect x="174.3" y="1419.2" width="227.7" height="1" fill="#8ac0a6"/>
<rect x="174.3" y="1419.2" width="1" height="5.8" fill="#8ac0a6"/>
<rect x="174.3" y="1439" width="1" height="6.2" fill="#8ac0a6"/>
<rect x="401" y="1419.2" width="1" height="26" fill="#72b294"/>
<rect x="175.3" y="1444.2" width="225.7" height="1" fill="#2f6b4e"/>
<rect x="179.3" y="1424.2" width="149" height="16" rx="4" fill="#b4d6c6"/>
<path d="M316,1429.2 h5.6 l-1.9,2.8 v2.4 h-1.8 v-2.4 z" fill="#439970"/>
<rect x="343.3" y="1424.2" width="52.8" height="16" rx="4" fill="#b4d6c6"/>
<path d="M384,1429.2 h5.6 l-1.9,2.8 v2.4 h-1.8 v-2.4 z" fill="#439970"/>
<rect x="407.5" y="1423.5" width="35.2" height="16" rx="4" fill="#c9ddb3"/>
<path d="M428.2,1428.5 h5.6 l-1.9,2.8 v2.4 h-1.8 v-2.4 z" fill="#77ab41"/>
<path d="M455.1,1439 C455.1,1429.67 447.1,1446.47 447.1,1432 C447.1,1417.53 455.1,1434.33 455.1,1425" fill="none" stroke="#000" stroke-opacity="0.18" stroke-width="2"/>
<rect x="454.1" y="1419.2" width="1" height="5.8" fill="#000" fill-opacity="0.25"/>
<rect x="454.1" y="1439" width="1" height="6.2" fill="#000" fill-opacity="0.25"/>
<rect x="626.9" y="1420.2" width="1" height="26" fill="#101010" fill-opacity="0.7"/>
<rect x="456.1" y="1445.2" width="171.8" height="1" fill="#101010" fill-opacity="0.7"/>
<path d="M455.1,1419.2 H626.9 V1445.2 H455.1 L455.1,1439 C455.1,1429.67 447.1,1446.47 447.1,1432 C447.1,1417.53 455.1,1434.33 455.1,1425 Z" fill="#d05f2d"/>
<rect x="455.1" y="1419.2" width="171.8" height="1" fill="#e29c7d"/>
<rect x="455.1" y="1419.2" width="1" height="5.8" fill="#e29c7d"/>
<rect x="455.1" y="1439" width="1" height="6.2" fill="#e29c7d"/>
<rect x="625.9" y="1419.2" width="1" height="26" fill="#dc8762"/>
<rect x="456.1" y="1444.2" width="169.8" height="1" fill="#92421f"/>
<rect x="490.3" y="1424.2" width="130.1" height="16" rx="4" fill="#ecbfab"/>
<path d="M608,1429.2 h5.6 l-1.9,2.8 v2.4 h-1.8 v-2.4 z" fill="#d05f2d"/>
<path d="M127.3,1455.8 A5.5,5.5 0 0 1 132.8,1450.3 H142.3 l6,4 3,0 5,-4 H441.7 V1476.3 H156.9 l-5.5,4.4 -3,0 -6.6,-4.4 H127.3 Z" fill="#276944"/>
<path d="M132.8,1450.8 H142.3 l6,4 3,0 5,-4 H441.7" fill="none" stroke="#79a28b" stroke-width="1"/>
<rect x="127.3" y="1455.8" width="1" height="20.5" fill="#79a28b"/>
<rect x="440.7" y="1451.3" width="1" height="24" fill="#528769"/>
<path d="M127.3,1475.8 H141.9 l6.3,4.2 3,0 5.6,-4.2 H441.7" fill="none" stroke="#153a25" stroke-width="1"/>
<rect x="166.3" y="1455.3" width="149.8" height="16" rx="4" fill="#a9c3b4"/>
<path d="M303,1460.3 h5.6 l-1.9,2.8 v2.4 h-1.8 v-2.4 z" fill="#276944"/>
<rect x="331.2" y="1455.3" width="69.8" height="16" rx="4" fill="#a9c3b4"/>
<path d="M385.9,1460.3 h5.6 l-1.9,2.8 v2.4 h-1.8 v-2.4 z" fill="#276944"/>
<path d="M441.7,1470.1 C441.7,1460.77 433.7,1477.57 433.7,1463.1 C433.7,1448.63 441.7,1465.43 441.7,1456.1" fill="none" stroke="#000" stroke-opacity="0.18" stroke-width="2"/>
<rect x="440.7" y="1450.3" width="1" height="5.8" fill="#000" fill-opacity="0.25"/>
<rect x="440.7" y="1470.1" width="1" height="6.2" fill="#000" fill-opacity="0.25"/>
<rect x="509.7" y="1451.3" width="1" height="26" fill="#101010" fill-opacity="0.7"/>
<rect x="442.7" y="1476.3" width="68" height="1" fill="#101010" fill-opacity="0.7"/>
<path d="M441.7,1450.3 H509.7 V1476.3 H441.7 L441.7,1470.1 C441.7,1460.77 433.7,1477.57 433.7,1463.1 C433.7,1448.63 441.7,1465.43 441.7,1456.1 Z" fill="#77ab41"/>
<rect x="441.7" y="1450.3" width="68" height="1" fill="#abcb89"/>
<rect x="441.7" y="1450.3" width="1" height="5.8" fill="#abcb89"/>
<rect x="441.7" y="1470.1" width="1" height="6.2" fill="#abcb89"/>
<rect x="508.7" y="1450.3" width="1" height="26" fill="#99c070"/>
<rect x="442.7" y="1475.3" width="66" height="1" fill="#53782e"/>
<rect x="447.2" y="1455.3" width="56.2" height="16" rx="4" fill="#c9ddb3"/>
<path d="M490.9,1460.3 h5.6 l-1.9,2.8 v2.4 h-1.8 v-2.4 z" fill="#77ab41"/>
<path d="M127.3,1476.2 H142.3 l6,4 3,0 5,-4 H359.6 V1502.2 H156.9 l-5.5,4.4 -3,0 -6.6,-4.4 H127.3 Z" fill="#276944"/>
<path d="M127.3,1476.7 H142.3 l6,4 3,0 5,-4 H359.6" fill="none" stroke="#79a28b" stroke-width="1"/>
<rect x="127.3" y="1476.2" width="1" height="26" fill="#79a28b"/>
<rect x="358.6" y="1477.2" width="1" height="24" fill="#528769"/>
<path d="M127.3,1501.7 H141.9 l6.3,4.2 3,0 5.6,-4.2 H359.6" fill="none" stroke="#153a25" stroke-width="1"/>
<rect x="166.3" y="1481.2" width="67.7" height="16" rx="4" fill="#a9c3b4"/>
<path d="M219,1486.2 h5.6 l-1.9,2.8 v2.4 h-1.8 v-2.4 z" fill="#276944"/>
<rect x="249.1" y="1481.2" width="69.8" height="16" rx="4" fill="#a9c3b4"/>
<path d="M303.8,1486.2 h5.6 l-1.9,2.8 v2.4 h-1.8 v-2.4 z" fill="#276944"/>
<path d="M359.6,1496 C359.6,1486.67 351.6,1503.47 351.6,1489 C351.6,1474.53 359.6,1491.33 359.6,1482" fill="none" stroke="#000" stroke-opacity="0.18" stroke-width="2"/>
<rect x="358.6" y="1476.2" width="1" height="5.8" fill="#000" fill-opacity="0.25"/>
<rect x="358.6" y="1496" width="1" height="6.2" fill="#000" fill-opacity="0.25"/>
<rect x="427.6" y="1477.2" width="1" height="26" fill="#101010" fill-opacity="0.7"/>
<rect x="360.6" y="1502.2" width="68" height="1" fill="#101010" fill-opacity="0.7"/>
<path d="M359.6,1476.2 H427.6 V1502.2 H359.6 L359.6,1496 C359.6,1486.67 351.6,1503.47 351.6,1489 C351.6,1474.53 359.6,1491.33 359.6,1482 Z" fill="#77ab41"/>
<rect x="359.6" y="1476.2" width="68" height="1" fill="#abcb89"/>
<rect x="359.6" y="1476.2" width="1" height="5.8" fill="#abcb89"/>
<rect x="359.6" y="1496" width="1" height="6.2" fill="#abcb89"/>
<rect x="426.6" y="1476.2" width="1" height="26" fill="#99c070"/>
<rect x="360.6" y="1501.2" width="66" height="1" fill="#53782e"/>
<rect x="365.1" y="1481.2" width="56.2" height="16" rx="4" fill="#c9ddb3"/>
<path d="M408.8,1486.2 h5.6 l-1.9,2.8 v2.4 h-1.8 v-2.4 z" fill="#77ab41"/>
<path d="M127.3,1502.1 H142.3 l6,4 3,0 5,-4 H356.1 V1528.1 H156.9 l-5.5,4.4 -3,0 -6.6,-4.4 H127.3 Z" fill="#276944"/>
<path d="M127.3,1502.6 H142.3 l6,4 3,0 5,-4 H356.1" fill="none" stroke="#79a28b" stroke-width="1"/>
<rect x="127.3" y="1502.1" width="1" height="26" fill="#79a28b"/>
<rect x="355.1" y="1503.1" width="1" height="24" fill="#528769"/>
<path d="M127.3,1527.6 H141.9 l6.3,4.2 3,0 5.6,-4.2 H356.1" fill="none" stroke="#153a25" stroke-width="1"/>
<rect x="166.3" y="1507.1" width="64.2" height="16" rx="4" fill="#a9c3b4"/>
<path d="M216,1512.1 h5.6 l-1.9,2.8 v2.4 h-1.8 v-2.4 z" fill="#276944"/>
<rect x="245.6" y="1507.1" width="69.8" height="16" rx="4" fill="#a9c3b4"/>
<path d="M300.3,1512.1 h5.6 l-1.9,2.8 v2.4 h-1.8 v-2.4 z" fill="#276944"/>
<path d="M356.1,1521.9 C356.1,1512.57 348.1,1529.37 348.1,1514.9 C348.1,1500.43 356.1,1517.23 356.1,1507.9" fill="none" stroke="#000" stroke-opacity="0.18" stroke-width="2"/>
<rect x="355.1" y="1502.1" width="1" height="5.8" fill="#000" fill-opacity="0.25"/>
<rect x="355.1" y="1521.9" width="1" height="6.2" fill="#000" fill-opacity="0.25"/>
<rect x="424.1" y="1503.1" width="1" height="26" fill="#101010" fill-opacity="0.7"/>
<rect x="357.1" y="1528.1" width="68" height="1" fill="#101010" fill-opacity="0.7"/>
<path d="M356.1,1502.1 H424.1 V1528.1 H356.1 L356.1,1521.9 C356.1,1512.57 348.1,1529.37 348.1,1514.9 C348.1,1500.43 356.1,1517.23 356.1,1507.9 Z" fill="#77ab41"/>
<rect x="356.1" y="1502.1" width="68" height="1" fill="#abcb89"/>
<rect x="356.1" y="1502.1" width="1" height="5.8" fill="#abcb89"/>
<rect x="356.1" y="1521.9" width="1" height="6.2" fill="#abcb89"/>
<rect x="423.1" y="1502.1" width="1" height="26" fill="#99c070"/>
<rect x="357.1" y="1527.1" width="66" height="1" fill="#53782e"/>
<rect x="361.6" y="1507.1" width="56.2" height="16" rx="4" fill="#c9ddb3"/>
<path d="M405.3,1512.1 h5.6 l-1.9,2.8 v2.4 h-1.8 v-2.4 z" fill="#77ab41"/>
<path d="M127.3,1528 H142.3 l6,4 3,0 5,-4 H349.6 V1554 H156.9 l-5.5,4.4 -3,0 -6.6,-4.4 H127.3 Z" fill="#276944"/>
<path d="M127.3,1528.5 H142.3 l6,4 3,0 5,-4 H349.6" fill="none" stroke="#79a28b" stroke-width="1"/>
<rect x="127.3" y="1528" width="1" height="26" fill="#79a28b"/>
<rect x="348.6" y="1529" width="1" height="24" fill="#528769"/>
<path d="M127.3,1553.5 H141.9 l6.3,4.2 3,0 5.6,-4.2 H349.6" fill="none" stroke="#153a25" stroke-width="1"/>
<rect x="166.3" y="1533" width="57.7" height="16" rx="4" fill="#a9c3b4"/>
<path d="M210,1538 h5.6 l-1.9,2.8 v2.4 h-1.8 v-2.4 z" fill="#276944"/>
<rect x="239.1" y="1533" width="69.8" height="16" rx="4" fill="#a9c3b4"/>
<path d="M293.8,1538 h5.6 l-1.9,2.8 v2.4 h-1.8 v-2.4 z" fill="#276944"/>
<path d="M349.6,1547.8 C349.6,1538.47 341.6,1555.27 341.6,1540.8 C341.6,1526.33 349.6,1543.13 349.6,1533.8" fill="none" stroke="#000" stroke-opacity="0.18" stroke-width="2"/>
<rect x="348.6" y="1528" width="1" height="5.8" fill="#000" fill-opacity="0.25"/>
<rect x="348.6" y="1547.8" width="1" height="6.2" fill="#000" fill-opacity="0.25"/>
<rect x="411.6" y="1529" width="1" height="26" fill="#101010" fill-opacity="0.7"/>
<rect x="350.6" y="1554" width="62" height="1" fill="#101010" fill-opacity="0.7"/>
<path d="M349.6,1528 H411.6 V1554 H349.6 L349.6,1547.8 C349.6,1538.47 341.6,1555.27 341.6,1540.8 C341.6,1526.33 349.6,1543.13 349.6,1533.8 Z" fill="#77ab41"/>
<rect x="349.6" y="1528" width="62" height="1" fill="#abcb89"/>
<rect x="349.6" y="1528" width="1" height="5.8" fill="#abcb89"/>
<rect x="349.6" y="1547.8" width="1" height="6.2" fill="#abcb89"/>
<rect x="410.6" y="1528" width="1" height="26" fill="#99c070"/>
<rect x="350.6" y="1553" width="60" height="1" fill="#53782e"/>
<rect x="355.1" y="1533" width="50.2" height="16" rx="4" fill="#c9ddb3"/>
<path d="M392.8,1538 h5.6 l-1.9,2.8 v2.4 h-1.8 v-2.4 z" fill="#77ab41"/>
<path d="M127.3,1553.9 H142.3 l6,4 3,0 5,-4 H344 V1579.9 H156.9 l-5.5,4.4 -3,0 -6.6,-4.4 H127.3 Z" fill="#276944"/>
<path d="M127.3,1554.4 H142.3 l6,4 3,0 5,-4 H344" fill="none" stroke="#79a28b" stroke-width="1"/>
<rect x="127.3" y="1553.9" width="1" height="26" fill="#79a28b"/>
<rect x="343" y="1554.9" width="1" height="24" fill="#528769"/>
<path d="M127.3,1579.4 H141.9 l6.3,4.2 3,0 5.6,-4.2 H344" fill="none" stroke="#153a25" stroke-width="1"/>
<rect x="166.3" y="1558.9" width="52.1" height="16" rx="4" fill="#a9c3b4"/>
<path d="M204,1563.9 h5.6 l-1.9,2.8 v2.4 h-1.8 v-2.4 z" fill="#276944"/>
<rect x="233.5" y="1558.9" width="69.8" height="16" rx="4" fill="#a9c3b4"/>
<path d="M288.2,1563.9 h5.6 l-1.9,2.8 v2.4 h-1.8 v-2.4 z" fill="#276944"/>
<path d="M344,1573.7 C344,1564.37 336,1581.17 336,1566.7 C336,1552.23 344,1569.03 344,1559.7" fill="none" stroke="#000" stroke-opacity="0.18" stroke-width="2"/>
<rect x="343" y="1553.9" width="1" height="5.8" fill="#000" fill-opacity="0.25"/>
<rect x="343" y="1573.7" width="1" height="6.2" fill="#000" fill-opacity="0.25"/>
<rect x="406" y="1554.9" width="1" height="26" fill="#101010" fill-opacity="0.7"/>
<rect x="345" y="1579.9" width="62" height="1" fill="#101010" fill-opacity="0.7"/>
<path d="M344,1553.9 H406 V1579.9 H344 L344,1573.7 C344,1564.37 336,1581.17 336,1566.7 C336,1552.23 344,1569.03 344,1559.7 Z" fill="#77ab41"/>
<rect x="344" y="1553.9" width="62" height="1" fill="#abcb89"/>
<rect x="344" y="1553.9" width="1" height="5.8" fill="#abcb89"/>
<rect x="344" y="1573.7" width="1" height="6.2" fill="#abcb89"/>
<rect x="405" y="1553.9" width="1" height="26" fill="#99c070"/>
<rect x="345" y="1578.9" width="60" height="1" fill="#53782e"/>
<rect x="349.5" y="1558.9" width="50.2" height="16" rx="4" fill="#c9ddb3"/>
<path d="M387.2,1563.9 h5.6 l-1.9,2.8 v2.4 h-1.8 v-2.4 z" fill="#77ab41"/>
<path d="M127.3,1579.8 H142.3 l6,4 3,0 5,-4 H386.4 V1605.8 H156.9 l-5.5,4.4 -3,0 -6.6,-4.4 H127.3 Z" fill="#276944"/>
<path d="M127.3,1580.3 H142.3 l6,4 3,0 5,-4 H386.4" fill="none" stroke="#79a28b" stroke-width="1"/>
<rect x="127.3" y="1579.8" width="1" height="26" fill="#79a28b"/>
<rect x="385.4" y="1580.8" width="1" height="24" fill="#528769"/>
<path d="M127.3,1605.3 H141.9 l6.3,4.2 3,0 5.6,-4.2 H386.4" fill="none" stroke="#153a25" stroke-width="1"/>
<rect x="166.3" y="1584.8" width="94.5" height="16" rx="4" fill="#a9c3b4"/>
<path d="M248,1589.8 h5.6 l-1.9,2.8 v2.4 h-1.8 v-2.4 z" fill="#276944"/>
<rect x="275.9" y="1584.8" width="69.8" height="16" rx="4" fill="#a9c3b4"/>
<path d="M330.6,1589.8 h5.6 l-1.9,2.8 v2.4 h-1.8 v-2.4 z" fill="#276944"/>
<path d="M386.4,1599.6 C386.4,1590.27 378.4,1607.07 378.4,1592.6 C378.4,1578.13 386.4,1594.93 386.4,1585.6" fill="none" stroke="#000" stroke-opacity="0.18" stroke-width="2"/>
<rect x="385.4" y="1579.8" width="1" height="5.8" fill="#000" fill-opacity="0.25"/>
<rect x="385.4" y="1599.6" width="1" height="6.2" fill="#000" fill-opacity="0.25"/>
<rect x="448.4" y="1580.8" width="1" height="26" fill="#101010" fill-opacity="0.7"/>
<rect x="387.4" y="1605.8" width="62" height="1" fill="#101010" fill-opacity="0.7"/>
<path d="M386.4,1579.8 H448.4 V1605.8 H386.4 L386.4,1599.6 C386.4,1590.27 378.4,1607.07 378.4,1592.6 C378.4,1578.13 386.4,1594.93 386.4,1585.6 Z" fill="#77ab41"/>
<rect x="386.4" y="1579.8" width="62" height="1" fill="#abcb89"/>
<rect x="386.4" y="1579.8" width="1" height="5.8" fill="#abcb89"/>
<rect x="386.4" y="1599.6" width="1" height="6.2" fill="#abcb89"/>
<rect x="447.4" y="1579.8" width="1" height="26" fill="#99c070"/>
<rect x="387.4" y="1604.8" width="60" height="1" fill="#53782e"/>
<rect x="391.9" y="1584.8" width="50.2" height="16" rx="4" fill="#c9ddb3"/>
<path d="M429.6,1589.8 h5.6 l-1.9,2.8 v2.4 h-1.8 v-2.4 z" fill="#77ab41"/>
<path d="M127.3,1605.7 H142.3 l6,4 3,0 5,-4 H473.2 V1631.7 H156.9 l-5.5,4.4 -3,0 -6.6,-4.4 H127.3 Z" fill="#276944"/>
<path d="M127.3,1606.2 H142.3 l6,4 3,0 5,-4 H473.2" fill="none" stroke="#79a28b" stroke-width="1"/>
<rect x="127.3" y="1605.7" width="1" height="26" fill="#79a28b"/>
<rect x="472.2" y="1606.7" width="1" height="24" fill="#528769"/>
<path d="M127.3,1631.2 H141.9 l6.3,4.2 3,0 5.6,-4.2 H473.2" fill="none" stroke="#153a25" stroke-width="1"/>
<rect x="166.3" y="1610.7" width="181.3" height="16" rx="4" fill="#a9c3b4"/>
<path d="M334,1615.7 h5.6 l-1.9,2.8 v2.4 h-1.8 v-2.4 z" fill="#276944"/>
<rect x="362.7" y="1610.7" width="69.8" height="16" rx="4" fill="#a9c3b4"/>
<path d="M417.4,1615.7 h5.6 l-1.9,2.8 v2.4 h-1.8 v-2.4 z" fill="#276944"/>
<path d="M473.2,1625.5 C473.2,1616.17 465.2,1632.97 465.2,1618.5 C465.2,1604.03 473.2,1620.83 473.2,1611.5" fill="none" stroke="#000" stroke-opacity="0.18" stroke-width="2"/>
<rect x="472.2" y="1605.7" width="1" height="5.8" fill="#000" fill-opacity="0.25"/>
<rect x="472.2" y="1625.5" width="1" height="6.2" fill="#000" fill-opacity="0.25"/>
<rect x="535.2" y="1606.7" width="1" height="26" fill="#101010" fill-opacity="0.7"/>
<rect x="474.2" y="1631.7" width="62" height="1" fill="#101010" fill-opacity="0.7"/>
<path d="M473.2,1605.7 H535.2 V1631.7 H473.2 L473.2,1625.5 C473.2,1616.17 465.2,1632.97 465.2,1618.5 C465.2,1604.03 473.2,1620.83 473.2,1611.5 Z" fill="#77ab41"/>
<rect x="473.2" y="1605.7" width="62" height="1" fill="#abcb89"/>
<rect x="473.2" y="1605.7" width="1" height="5.8" fill="#abcb89"/>
<rect x="473.2" y="1625.5" width="1" height="6.2" fill="#abcb89"/>
<rect x="534.2" y="1605.7" width="1" height="26" fill="#99c070"/>
<rect x="474.2" y="1630.7" width="60" height="1" fill="#53782e"/>
<rect x="478.7" y="1610.7" width="50.2" height="16" rx="4" fill="#c9ddb3"/>
<path d="M516.4,1615.7 h5.6 l-1.9,2.8 v2.4 h-1.8 v-2.4 z" fill="#77ab41"/>
<path d="M127.3,1631.6 H142.3 l6,4 3,0 5,-4 H457.1 V1657.6 H156.9 l-5.5,4.4 -3,0 -6.6,-4.4 H127.3 Z" fill="#276944"/>
<path d="M127.3,1632.1 H142.3 l6,4 3,0 5,-4 H457.1" fill="none" stroke="#79a28b" stroke-width="1"/>
<rect x="127.3" y="1631.6" width="1" height="26" fill="#79a28b"/>
<rect x="456.1" y="1632.6" width="1" height="24" fill="#528769"/>
<path d="M127.3,1657.1 H141.9 l6.3,4.2 3,0 5.6,-4.2 H457.1" fill="none" stroke="#153a25" stroke-width="1"/>
<rect x="166.3" y="1636.6" width="165.2" height="16" rx="4" fill="#a9c3b4"/>
<path d="M318,1641.6 h5.6 l-1.9,2.8 v2.4 h-1.8 v-2.4 z" fill="#276944"/>
<rect x="346.6" y="1636.6" width="69.8" height="16" rx="4" fill="#a9c3b4"/>
<path d="M401.3,1641.6 h5.6 l-1.9,2.8 v2.4 h-1.8 v-2.4 z" fill="#276944"/>
<path d="M457.1,1651.4 C457.1,1642.07 449.1,1658.87 449.1,1644.4 C449.1,1629.93 457.1,1646.73 457.1,1637.4" fill="none" stroke="#000" stroke-opacity="0.18" stroke-width="2"/>
<rect x="456.1" y="1631.6" width="1" height="5.8" fill="#000" fill-opacity="0.25"/>
<rect x="456.1" y="1651.4" width="1" height="6.2" fill="#000" fill-opacity="0.25"/>
<rect x="525.1" y="1632.6" width="1" height="26" fill="#101010" fill-opacity="0.7"/>
<rect x="458.1" y="1657.6" width="68" height="1" fill="#101010" fill-opacity="0.7"/>
<path d="M457.1,1631.6 H525.1 V1657.6 H457.1 L457.1,1651.4 C457.1,1642.07 449.1,1658.87 449.1,1644.4 C449.1,1629.93 457.1,1646.73 457.1,1637.4 Z" fill="#77ab41"/>
<rect x="457.1" y="1631.6" width="68" height="1" fill="#abcb89"/>
<rect x="457.1" y="1631.6" width="1" height="5.8" fill="#abcb89"/>
<rect x="457.1" y="1651.4" width="1" height="6.2" fill="#abcb89"/>
<rect x="524.1" y="1631.6" width="1" height="26" fill="#99c070"/>
<rect x="458.1" y="1656.6" width="66" height="1" fill="#53782e"/>
<rect x="462.6" y="1636.6" width="56.2" height="16" rx="4" fill="#c9ddb3"/>
<path d="M506.3,1641.6 h5.6 l-1.9,2.8 v2.4 h-1.8 v-2.4 z" fill="#77ab41"/>
<clipPath id="c6"><rect x="0" y="1677" width="1030" height="200"/></clipPath>
<path d="M127.3,1657.5 H142.3 l6,4 3,0 5,-4 H473.2 V1683.5 H156.9 l-5.5,4.4 -3,0 -6.6,-4.4 H132.8 A5.5,5.5 0 0 1 127.3,1678 Z" fill="#101010" transform="translate(1,1)" clip-path="url(#c6)"/>
<path d="M127.3,1657.5 H142.3 l6,4 3,0 5,-4 H473.2 V1683.5 H156.9 l-5.5,4.4 -3,0 -6.6,-4.4 H132.8 A5.5,5.5 0 0 1 127.3,1678 Z" fill="#276944"/>
<path d="M127.3,1658 H142.3 l6,4 3,0 5,-4 H473.2" fill="none" stroke="#79a28b" stroke-width="1"/>
<rect x="127.3" y="1657.5" width="1" height="20.5" fill="#79a28b"/>
<rect x="472.2" y="1658.5" width="1" height="24" fill="#528769"/>
<path d="M132.8,1683 H141.9 l6.3,4.2 3,0 5.6,-4.2 H473.2" fill="none" stroke="#153a25" stroke-width="1"/>
<rect x="166.3" y="1662.5" width="181.3" height="16" rx="4" fill="#a9c3b4"/>
<path d="M334,1667.5 h5.6 l-1.9,2.8 v2.4 h-1.8 v-2.4 z" fill="#276944"/>
<rect x="362.7" y="1662.5" width="69.8" height="16" rx="4" fill="#a9c3b4"/>
<path d="M417.4,1667.5 h5.6 l-1.9,2.8 v2.4 h-1.8 v-2.4 z" fill="#276944"/>
<path d="M473.2,1677.3 C473.2,1667.97 465.2,1684.77 465.2,1670.3 C465.2,1655.83 473.2,1672.63 473.2,1663.3" fill="none" stroke="#000" stroke-opacity="0.18" stroke-width="2"/>
<rect x="472.2" y="1657.5" width="1" height="5.8" fill="#000" fill-opacity="0.25"/>
<rect x="472.2" y="1677.3" width="1" height="6.2" fill="#000" fill-opacity="0.25"/>
<rect x="541.2" y="1658.5" width="1" height="26" fill="#101010" fill-opacity="0.7"/>
<rect x="474.2" y="1683.5" width="68" height="1" fill="#101010" fill-opacity="0.7"/>
<path d="M473.2,1657.5 H541.2 V1683.5 H473.2 L473.2,1677.3 C473.2,1667.97 465.2,1684.77 465.2,1670.3 C465.2,1655.83 473.2,1672.63 473.2,1663.3 Z" fill="#77ab41"/>
<rect x="473.2" y="1657.5" width="68" height="1" fill="#abcb89"/>
<rect x="473.2" y="1657.5" width="1" height="5.8" fill="#abcb89"/>
<rect x="473.2" y="1677.3" width="1" height="6.2" fill="#abcb89"/>
<rect x="540.2" y="1657.5" width="1" height="26" fill="#99c070"/>
<rect x="474.2" y="1682.5" width="66" height="1" fill="#53782e"/>
<rect x="478.7" y="1662.5" width="56.2" height="16" rx="4" fill="#c9ddb3"/>
<path d="M522.4,1667.5 h5.6 l-1.9,2.8 v2.4 h-1.8 v-2.4 z" fill="#77ab41"/>
<clipPath id="c7"><rect x="0" y="1717.5" width="1030" height="200"/></clipPath>
<path d="M127,1703.5 A5.5,5.5 0 0 1 132.5,1698 H142 l6,4 3,0 5,-4 H370.5 V1724 H156.6 l-5.5,4.4 -3,0 -6.6,-4.4 H132.5 A5.5,5.5 0 0 1 127,1718.5 Z" fill="#101010" transform="translate(1,1)" clip-path="url(#c7)"/>
<path d="M127,1703.5 A5.5,5.5 0 0 1 132.5,1698 H142 l6,4 3,0 5,-4 H370.5 V1724 H156.6 l-5.5,4.4 -3,0 -6.6,-4.4 H132.5 A5.5,5.5 0 0 1 127,1718.5 Z" fill="#276944"/>
<path d="M132.5,1698.5 H142 l6,4 3,0 5,-4 H370.5" fill="none" stroke="#79a28b" stroke-width="1"/>
<rect x="127" y="1703.5" width="1" height="15" fill="#79a28b"/>
<rect x="369.5" y="1699" width="1" height="24" fill="#528769"/>
<path d="M132.5,1723.5 H141.6 l6.3,4.2 3,0 5.6,-4.2 H370.5" fill="none" stroke="#153a25" stroke-width="1"/>
<rect x="166" y="1703" width="78.9" height="16" rx="4" fill="#a9c3b4"/>
<path d="M231.7,1708 h5.6 l-1.9,2.8 v2.4 h-1.8 v-2.4 z" fill="#276944"/>
<rect x="260" y="1703" width="69.8" height="16" rx="4" fill="#a9c3b4"/>
<path d="M314.7,1708 h5.6 l-1.9,2.8 v2.4 h-1.8 v-2.4 z" fill="#276944"/>
<path d="M370.5,1717.8 C370.5,1708.47 362.5,1725.27 362.5,1710.8 C362.5,1696.33 370.5,1713.13 370.5,1703.8" fill="none" stroke="#000" stroke-opacity="0.18" stroke-width="2"/>
<rect x="369.5" y="1698" width="1" height="5.8" fill="#000" fill-opacity="0.25"/>
<rect x="369.5" y="1717.8" width="1" height="6.2" fill="#000" fill-opacity="0.25"/>
<rect x="432.5" y="1699" width="1" height="26" fill="#101010" fill-opacity="0.7"/>
<rect x="371.5" y="1724" width="62" height="1" fill="#101010" fill-opacity="0.7"/>
<path d="M370.5,1698 H432.5 V1724 H370.5 L370.5,1717.8 C370.5,1708.47 362.5,1725.27 362.5,1710.8 C362.5,1696.33 370.5,1713.13 370.5,1703.8 Z" fill="#77ab41"/>
<rect x="370.5" y="1698" width="62" height="1" fill="#abcb89"/>
<rect x="370.5" y="1698" width="1" height="5.8" fill="#abcb89"/>
<rect x="370.5" y="1717.8" width="1" height="6.2" fill="#abcb89"/>
<rect x="431.5" y="1698" width="1" height="26" fill="#99c070"/>
<rect x="371.5" y="1723" width="60" height="1" fill="#53782e"/>
<rect x="376" y="1703" width="50.2" height="16" rx="4" fill="#c9ddb3"/>
<path d="M413.7,1708 h5.6 l-1.9,2.8 v2.4 h-1.8 v-2.4 z" fill="#77ab41"/>
<path d="M38,1800.5 A5.5,5.5 0 0 1 43.5,1795 H193.5 V1821.6 H104.6 l-5.5,4.4 -3,0 -6.6,-4.4 H80.5 A5.5,5.5 0 0 0 75,1827.1 V2049.2 A5.5,5.5 0 0 0 80.5,2054.7 H193.5 V2067.7 H43.5 A5.5,5.5 0 0 1 38,2062.2 Z" fill="#b18e35"/>
<rect x="43.5" y="1795" width="150" height="1" fill="#cfb982"/>
<rect x="38" y="1800.5" width="1" height="261.7" fill="#cfb982"/>
<rect x="192.5" y="1796" width="1" height="25.6" fill="#dccca4"/>
<rect x="192.5" y="2055.7" width="1" height="12" fill="#dccca4"/>
<rect x="105" y="1820.6" width="87.5" height="1" fill="#7c6325"/>
<rect x="43.5" y="2066.7" width="149" height="1" fill="#7c6325"/>
<rect x="91.6" y="1800" width="49.7" height="16" rx="4" fill="#e0d2ae"/>
<path d="M128.3,1805 h5.6 l-1.9,2.8 v2.4 h-1.8 v-2.4 z" fill="#b18e35"/>
<path d="M75.1,1827.1 A5.5,5.5 0 0 1 80.6,1821.6 H90.1 l6,4 3,0 5,-4 H297.6 V1847.6 H104.7 l-5.5,4.4 -3,0 -6.6,-4.4 H75.1 Z" fill="#276944"/>
<path d="M80.6,1822.1 H90.1 l6,4 3,0 5,-4 H297.6" fill="none" stroke="#79a28b" stroke-width="1"/>
<rect x="75.1" y="1827.1" width="1" height="20.5" fill="#79a28b"/>
<rect x="296.6" y="1822.6" width="1" height="24" fill="#528769"/>
<path d="M75.1,1847.1 H89.7 l6.3,4.2 3,0 5.6,-4.2 H297.6" fill="none" stroke="#153a25" stroke-width="1"/>
<rect x="114.1" y="1826.6" width="57.9" height="16" rx="4" fill="#a9c3b4"/>
<path d="M157.8,1831.6 h5.6 l-1.9,2.8 v2.4 h-1.8 v-2.4 z" fill="#276944"/>
<rect x="187.1" y="1826.6" width="69.8" height="16" rx="4" fill="#a9c3b4"/>
<path d="M241.8,1831.6 h5.6 l-1.9,2.8 v2.4 h-1.8 v-2.4 z" fill="#276944"/>
<path d="M297.6,1841.4 C297.6,1832.07 289.6,1848.87 289.6,1834.4 C289.6,1819.93 297.6,1836.73 297.6,1827.4" fill="none" stroke="#000" stroke-opacity="0.18" stroke-width="2"/>
<rect x="296.6" y="1821.6" width="1" height="5.8" fill="#000" fill-opacity="0.25"/>
<rect x="296.6" y="1841.4" width="1" height="6.2" fill="#000" fill-opacity="0.25"/>
<rect x="359.6" y="1822.6" width="1" height="26" fill="#101010" fill-opacity="0.7"/>
<rect x="298.6" y="1847.6" width="62" height="1" fill="#101010" fill-opacity="0.7"/>
<path d="M297.6,1821.6 H359.6 V1847.6 H297.6 L297.6,1841.4 C297.6,1832.07 289.6,1848.87 289.6,1834.4 C289.6,1819.93 297.6,1836.73 297.6,1827.4 Z" fill="#77ab41"/>
<rect x="297.6" y="1821.6" width="62" height="1" fill="#abcb89"/>
<rect x="297.6" y="1821.6" width="1" height="5.8" fill="#abcb89"/>
<rect x="297.6" y="1841.4" width="1" height="6.2" fill="#abcb89"/>
<rect x="358.6" y="1821.6" width="1" height="26" fill="#99c070"/>
<rect x="298.6" y="1846.6" width="60" height="1" fill="#53782e"/>
<rect x="303.1" y="1826.6" width="50.2" height="16" rx="4" fill="#c9ddb3"/>
<path d="M340.8,1831.6 h5.6 l-1.9,2.8 v2.4 h-1.8 v-2.4 z" fill="#77ab41"/>
<path d="M75.1,1847.5 H90.1 l6,4 3,0 5,-4 H404.9 V1873.5 H104.7 l-5.5,4.4 -3,0 -6.6,-4.4 H75.1 Z" fill="#276944"/>
<path d="M75.1,1848 H90.1 l6,4 3,0 5,-4 H404.9" fill="none" stroke="#79a28b" stroke-width="1"/>
<rect x="75.1" y="1847.5" width="1" height="26" fill="#79a28b"/>
<rect x="403.9" y="1848.5" width="1" height="24" fill="#528769"/>
<path d="M75.1,1873 H89.7 l6.3,4.2 3,0 5.6,-4.2 H404.9" fill="none" stroke="#153a25" stroke-width="1"/>
<rect x="114.1" y="1852.5" width="165.2" height="16" rx="4" fill="#a9c3b4"/>
<path d="M265.8,1857.5 h5.6 l-1.9,2.8 v2.4 h-1.8 v-2.4 z" fill="#276944"/>
<rect x="294.4" y="1852.5" width="69.8" height="16" rx="4" fill="#a9c3b4"/>
<path d="M349.1,1857.5 h5.6 l-1.9,2.8 v2.4 h-1.8 v-2.4 z" fill="#276944"/>
<path d="M404.9,1867.3 C404.9,1857.97 396.9,1874.77 396.9,1860.3 C396.9,1845.83 404.9,1862.63 404.9,1853.3" fill="none" stroke="#000" stroke-opacity="0.18" stroke-width="2"/>
<rect x="403.9" y="1847.5" width="1" height="5.8" fill="#000" fill-opacity="0.25"/>
<rect x="403.9" y="1867.3" width="1" height="6.2" fill="#000" fill-opacity="0.25"/>
<rect x="472.9" y="1848.5" width="1" height="26" fill="#101010" fill-opacity="0.7"/>
<rect x="405.9" y="1873.5" width="68" height="1" fill="#101010" fill-opacity="0.7"/>
<path d="M404.9,1847.5 H472.9 V1873.5 H404.9 L404.9,1867.3 C404.9,1857.97 396.9,1874.77 396.9,1860.3 C396.9,1845.83 404.9,1862.63 404.9,1853.3 Z" fill="#77ab41"/>
<rect x="404.9" y="1847.5" width="68" height="1" fill="#abcb89"/>
<rect x="404.9" y="1847.5" width="1" height="5.8" fill="#abcb89"/>
<rect x="404.9" y="1867.3" width="1" height="6.2" fill="#abcb89"/>
<rect x="471.9" y="1847.5" width="1" height="26" fill="#99c070"/>
<rect x="405.9" y="1872.5" width="66" height="1" fill="#53782e"/>
<rect x="410.4" y="1852.5" width="56.2" height="16" rx="4" fill="#c9ddb3"/>
<path d="M454.1,1857.5 h5.6 l-1.9,2.8 v2.4 h-1.8 v-2.4 z" fill="#77ab41"/>
<path d="M75.1,1873.4 H90.1 l6,4 3,0 5,-4 H314.1 V1899.4 H104.7 l-5.5,4.4 -3,0 -6.6,-4.4 H75.1 Z" fill="#276944"/>
<path d="M75.1,1873.9 H90.1 l6,4 3,0 5,-4 H314.1" fill="none" stroke="#79a28b" stroke-width="1"/>
<rect x="75.1" y="1873.4" width="1" height="26" fill="#79a28b"/>
<rect x="313.1" y="1874.4" width="1" height="24" fill="#528769"/>
<path d="M75.1,1898.9 H89.7 l6.3,4.2 3,0 5.6,-4.2 H314.1" fill="none" stroke="#153a25" stroke-width="1"/>
<rect x="114.1" y="1878.4" width="74.4" height="16" rx="4" fill="#a9c3b4"/>
<path d="M176.8,1883.4 h5.6 l-1.9,2.8 v2.4 h-1.8 v-2.4 z" fill="#276944"/>
<rect x="203.6" y="1878.4" width="69.8" height="16" rx="4" fill="#a9c3b4"/>
<path d="M258.3,1883.4 h5.6 l-1.9,2.8 v2.4 h-1.8 v-2.4 z" fill="#276944"/>
<path d="M314.1,1893.2 C314.1,1883.87 306.1,1900.67 306.1,1886.2 C306.1,1871.73 314.1,1888.53 314.1,1879.2" fill="none" stroke="#000" stroke-opacity="0.18" stroke-width="2"/>
<rect x="313.1" y="1873.4" width="1" height="5.8" fill="#000" fill-opacity="0.25"/>
<rect x="313.1" y="1893.2" width="1" height="6.2" fill="#000" fill-opacity="0.25"/>
<rect x="382.1" y="1874.4" width="1" height="26" fill="#101010" fill-opacity="0.7"/>
<rect x="315.1" y="1899.4" width="68" height="1" fill="#101010" fill-opacity="0.7"/>
<path d="M314.1,1873.4 H382.1 V1899.4 H314.1 L314.1,1893.2 C314.1,1883.87 306.1,1900.67 306.1,1886.2 C306.1,1871.73 314.1,1888.53 314.1,1879.2 Z" fill="#77ab41"/>
<rect x="314.1" y="1873.4" width="68" height="1" fill="#abcb89"/>
<rect x="314.1" y="1873.4" width="1" height="5.8" fill="#abcb89"/>
<rect x="314.1" y="1893.2" width="1" height="6.2" fill="#abcb89"/>
<rect x="381.1" y="1873.4" width="1" height="26" fill="#99c070"/>
<rect x="315.1" y="1898.4" width="66" height="1" fill="#53782e"/>
<rect x="319.6" y="1878.4" width="56.2" height="16" rx="4" fill="#c9ddb3"/>
<path d="M363.3,1883.4 h5.6 l-1.9,2.8 v2.4 h-1.8 v-2.4 z" fill="#77ab41"/>
<path d="M75.1,1899.3 H90.1 l6,4 3,0 5,-4 H292 V1925.3 H104.7 l-5.5,4.4 -3,0 -6.6,-4.4 H75.1 Z" fill="#276944"/>
<path d="M75.1,1899.8 H90.1 l6,4 3,0 5,-4 H292" fill="none" stroke="#79a28b" stroke-width="1"/>
<rect x="75.1" y="1899.3" width="1" height="26" fill="#79a28b"/>
<rect x="291" y="1900.3" width="1" height="24" fill="#528769"/>
<path d="M75.1,1924.8 H89.7 l6.3,4.2 3,0 5.6,-4.2 H292" fill="none" stroke="#153a25" stroke-width="1"/>
<rect x="114.1" y="1904.3" width="52.3" height="16" rx="4" fill="#a9c3b4"/>
<path d="M151.8,1909.3 h5.6 l-1.9,2.8 v2.4 h-1.8 v-2.4 z" fill="#276944"/>
<rect x="181.5" y="1904.3" width="69.8" height="16" rx="4" fill="#a9c3b4"/>
<path d="M236.2,1909.3 h5.6 l-1.9,2.8 v2.4 h-1.8 v-2.4 z" fill="#276944"/>
<path d="M292,1919.1 C292,1909.77 284,1926.57 284,1912.1 C284,1897.63 292,1914.43 292,1905.1" fill="none" stroke="#000" stroke-opacity="0.18" stroke-width="2"/>
<rect x="291" y="1899.3" width="1" height="5.8" fill="#000" fill-opacity="0.25"/>
<rect x="291" y="1919.1" width="1" height="6.2" fill="#000" fill-opacity="0.25"/>
<rect x="360" y="1900.3" width="1" height="26" fill="#101010" fill-opacity="0.7"/>
<rect x="293" y="1925.3" width="68" height="1" fill="#101010" fill-opacity="0.7"/>
<path d="M292,1899.3 H360 V1925.3 H292 L292,1919.1 C292,1909.77 284,1926.57 284,1912.1 C284,1897.63 292,1914.43 292,1905.1 Z" fill="#77ab41"/>
<rect x="292" y="1899.3" width="68" height="1" fill="#abcb89"/>
<rect x="292" y="1899.3" width="1" height="5.8" fill="#abcb89"/>
<rect x="292" y="1919.1" width="1" height="6.2" fill="#abcb89"/>
<rect x="359" y="1899.3" width="1" height="26" fill="#99c070"/>
<rect x="293" y="1924.3" width="66" height="1" fill="#53782e"/>
<rect x="297.5" y="1904.3" width="56.2" height="16" rx="4" fill="#c9ddb3"/>
<path d="M341.2,1909.3 h5.6 l-1.9,2.8 v2.4 h-1.8 v-2.4 z" fill="#77ab41"/>
<path d="M75.1,1925.2 H90.1 l6,4 3,0 5,-4 H334.2 V1951.2 H104.7 l-5.5,4.4 -3,0 -6.6,-4.4 H75.1 Z" fill="#276944"/>
<path d="M75.1,1925.7 H90.1 l6,4 3,0 5,-4 H334.2" fill="none" stroke="#79a28b" stroke-width="1"/>
<rect x="75.1" y="1925.2" width="1" height="26" fill="#79a28b"/>
<rect x="333.2" y="1926.2" width="1" height="24" fill="#528769"/>
<path d="M75.1,1950.7 H89.7 l6.3,4.2 3,0 5.6,-4.2 H334.2" fill="none" stroke="#153a25" stroke-width="1"/>
<rect x="114.1" y="1930.2" width="94.5" height="16" rx="4" fill="#a9c3b4"/>
<path d="M195.8,1935.2 h5.6 l-1.9,2.8 v2.4 h-1.8 v-2.4 z" fill="#276944"/>
<rect x="223.7" y="1930.2" width="69.8" height="16" rx="4" fill="#a9c3b4"/>
<path d="M278.4,1935.2 h5.6 l-1.9,2.8 v2.4 h-1.8 v-2.4 z" fill="#276944"/>
<path d="M334.2,1945 C334.2,1935.67 326.2,1952.47 326.2,1938 C326.2,1923.53 334.2,1940.33 334.2,1931" fill="none" stroke="#000" stroke-opacity="0.18" stroke-width="2"/>
<rect x="333.2" y="1925.2" width="1" height="5.8" fill="#000" fill-opacity="0.25"/>
<rect x="333.2" y="1945" width="1" height="6.2" fill="#000" fill-opacity="0.25"/>
<rect x="402.2" y="1926.2" width="1" height="26" fill="#101010" fill-opacity="0.7"/>
<rect x="335.2" y="1951.2" width="68" height="1" fill="#101010" fill-opacity="0.7"/>
<path d="M334.2,1925.2 H402.2 V1951.2 H334.2 L334.2,1945 C334.2,1935.67 326.2,1952.47 326.2,1938 C326.2,1923.53 334.2,1940.33 334.2,1931 Z" fill="#77ab41"/>
<rect x="334.2" y="1925.2" width="68" height="1" fill="#abcb89"/>
<rect x="334.2" y="1925.2" width="1" height="5.8" fill="#abcb89"/>
<rect x="334.2" y="1945" width="1" height="6.2" fill="#abcb89"/>
<rect x="401.2" y="1925.2" width="1" height="26" fill="#99c070"/>
<rect x="335.2" y="1950.2" width="66" height="1" fill="#53782e"/>
<rect x="339.7" y="1930.2" width="56.2" height="16" rx="4" fill="#c9ddb3"/>
<path d="M383.4,1935.2 h5.6 l-1.9,2.8 v2.4 h-1.8 v-2.4 z" fill="#77ab41"/>
<path d="M75.1,1951.1 H90.1 l6,4 3,0 5,-4 H421 V1977.1 H104.7 l-5.5,4.4 -3,0 -6.6,-4.4 H75.1 Z" fill="#276944"/>
<path d="M75.1,1951.6 H90.1 l6,4 3,0 5,-4 H421" fill="none" stroke="#79a28b" stroke-width="1"/>
<rect x="75.1" y="1951.1" width="1" height="26" fill="#79a28b"/>
<rect x="420" y="1952.1" width="1" height="24" fill="#528769"/>
<path d="M75.1,1976.6 H89.7 l6.3,4.2 3,0 5.6,-4.2 H421" fill="none" stroke="#153a25" stroke-width="1"/>
<rect x="114.1" y="1956.1" width="181.3" height="16" rx="4" fill="#a9c3b4"/>
<path d="M281.8,1961.1 h5.6 l-1.9,2.8 v2.4 h-1.8 v-2.4 z" fill="#276944"/>
<rect x="310.5" y="1956.1" width="69.8" height="16" rx="4" fill="#a9c3b4"/>
<path d="M365.2,1961.1 h5.6 l-1.9,2.8 v2.4 h-1.8 v-2.4 z" fill="#276944"/>
<path d="M421,1970.9 C421,1961.57 413,1978.37 413,1963.9 C413,1949.43 421,1966.23 421,1956.9" fill="none" stroke="#000" stroke-opacity="0.18" stroke-width="2"/>
<rect x="420" y="1951.1" width="1" height="5.8" fill="#000" fill-opacity="0.25"/>
<rect x="420" y="1970.9" width="1" height="6.2" fill="#000" fill-opacity="0.25"/>
<rect x="489" y="1952.1" width="1" height="26" fill="#101010" fill-opacity="0.7"/>
<rect x="422" y="1977.1" width="68" height="1" fill="#101010" fill-opacity="0.7"/>
<path d="M421,1951.1 H489 V1977.1 H421 L421,1970.9 C421,1961.57 413,1978.37 413,1963.9 C413,1949.43 421,1966.23 421,1956.9 Z" fill="#77ab41"/>
<rect x="421" y="1951.1" width="68" height="1" fill="#abcb89"/>
<rect x="421" y="1951.1" width="1" height="5.8" fill="#abcb89"/>
<rect x="421" y="1970.9" width="1" height="6.2" fill="#abcb89"/>
<rect x="488" y="1951.1" width="1" height="26" fill="#99c070"/>
<rect x="422" y="1976.1" width="66" height="1" fill="#53782e"/>
<rect x="426.5" y="1956.1" width="56.2" height="16" rx="4" fill="#c9ddb3"/>
<path d="M470.2,1961.1 h5.6 l-1.9,2.8 v2.4 h-1.8 v-2.4 z" fill="#77ab41"/>
<path d="M75.1,1977 H90.1 l6,4 3,0 5,-4 H421 V2003 H104.7 l-5.5,4.4 -3,0 -6.6,-4.4 H75.1 Z" fill="#276944"/>
<path d="M75.1,1977.5 H90.1 l6,4 3,0 5,-4 H421" fill="none" stroke="#79a28b" stroke-width="1"/>
<rect x="75.1" y="1977" width="1" height="26" fill="#79a28b"/>
<rect x="420" y="1978" width="1" height="24" fill="#528769"/>
<path d="M75.1,2002.5 H89.7 l6.3,4.2 3,0 5.6,-4.2 H421" fill="none" stroke="#153a25" stroke-width="1"/>
<rect x="114.1" y="1982" width="181.3" height="16" rx="4" fill="#a9c3b4"/>
<path d="M281.8,1987 h5.6 l-1.9,2.8 v2.4 h-1.8 v-2.4 z" fill="#276944"/>
<rect x="310.5" y="1982" width="69.8" height="16" rx="4" fill="#a9c3b4"/>
<path d="M365.2,1987 h5.6 l-1.9,2.8 v2.4 h-1.8 v-2.4 z" fill="#276944"/>
<path d="M421,1996.8 C421,1987.47 413,2004.27 413,1989.8 C413,1975.33 421,1992.13 421,1982.8" fill="none" stroke="#000" stroke-opacity="0.18" stroke-width="2"/>
<rect x="420" y="1977" width="1" height="5.8" fill="#000" fill-opacity="0.25"/>
<rect x="420" y="1996.8" width="1" height="6.2" fill="#000" fill-opacity="0.25"/>
<rect x="483" y="1978" width="1" height="26" fill="#101010" fill-opacity="0.7"/>
<rect x="422" y="2003" width="62" height="1" fill="#101010" fill-opacity="0.7"/>
<path d="M421,1977 H483 V2003 H421 L421,1996.8 C421,1987.47 413,2004.27 413,1989.8 C413,1975.33 421,1992.13 421,1982.8 Z" fill="#77ab41"/>
<rect x="421" y="1977" width="62" height="1" fill="#abcb89"/>
<rect x="421" y="1977" width="1" height="5.8" fill="#abcb89"/>
<rect x="421" y="1996.8" width="1" height="6.2" fill="#abcb89"/>
<rect x="482" y="1977" width="1" height="26" fill="#99c070"/>
<rect x="422" y="2002" width="60" height="1" fill="#53782e"/>
<rect x="426.5" y="1982" width="50.2" height="16" rx="4" fill="#c9ddb3"/>
<path d="M464.2,1987 h5.6 l-1.9,2.8 v2.4 h-1.8 v-2.4 z" fill="#77ab41"/>
<path d="M75.1,2002.9 H90.1 l6,4 3,0 5,-4 H330.9 V2028.9 H104.7 l-5.5,4.4 -3,0 -6.6,-4.4 H75.1 Z" fill="#276944"/>
<path d="M75.1,2003.4 H90.1 l6,4 3,0 5,-4 H330.9" fill="none" stroke="#79a28b" stroke-width="1"/>
<rect x="75.1" y="2002.9" width="1" height="26" fill="#79a28b"/>
<rect x="329.9" y="2003.9" width="1" height="24" fill="#528769"/>
<path d="M75.1,2028.4 H89.7 l6.3,4.2 3,0 5.6,-4.2 H330.9" fill="none" stroke="#153a25" stroke-width="1"/>
<rect x="114.1" y="2007.9" width="46.6" height="16" rx="4" fill="#a9c3b4"/>
<path d="M147.8,2012.9 h5.6 l-1.9,2.8 v2.4 h-1.8 v-2.4 z" fill="#276944"/>
<rect x="175.8" y="2007.9" width="114.4" height="16" rx="4" fill="#a9c3b4"/>
<path d="M276.5,2012.9 h5.6 l-1.9,2.8 v2.4 h-1.8 v-2.4 z" fill="#276944"/>
<path d="M330.9,2022.7 C330.9,2013.37 322.9,2030.17 322.9,2015.7 C322.9,2001.23 330.9,2018.03 330.9,2008.7" fill="none" stroke="#000" stroke-opacity="0.18" stroke-width="2"/>
<rect x="329.9" y="2002.9" width="1" height="5.8" fill="#000" fill-opacity="0.25"/>
<rect x="329.9" y="2022.7" width="1" height="6.2" fill="#000" fill-opacity="0.25"/>
<rect x="392.9" y="2003.9" width="1" height="26" fill="#101010" fill-opacity="0.7"/>
<rect x="331.9" y="2028.9" width="62" height="1" fill="#101010" fill-opacity="0.7"/>
<path d="M330.9,2002.9 H392.9 V2028.9 H330.9 L330.9,2022.7 C330.9,2013.37 322.9,2030.17 322.9,2015.7 C322.9,2001.23 330.9,2018.03 330.9,2008.7 Z" fill="#77ab41"/>
<rect x="330.9" y="2002.9" width="62" height="1" fill="#abcb89"/>
<rect x="330.9" y="2002.9" width="1" height="5.8" fill="#abcb89"/>
<rect x="330.9" y="2022.7" width="1" height="6.2" fill="#abcb89"/>
<rect x="391.9" y="2002.9" width="1" height="26" fill="#99c070"/>
<rect x="331.9" y="2027.9" width="60" height="1" fill="#53782e"/>
<rect x="336.4" y="2007.9" width="50.2" height="16" rx="4" fill="#c9ddb3"/>
<path d="M374.1,2012.9 h5.6 l-1.9,2.8 v2.4 h-1.8 v-2.4 z" fill="#77ab41"/>
<clipPath id="c8"><rect x="0" y="2048.3" width="1030" height="200"/></clipPath>
<path d="M75.1,2028.8 H90.1 l6,4 3,0 5,-4 H319.1 V2054.8 H104.7 l-5.5,4.4 -3,0 -6.6,-4.4 H80.6 A5.5,5.5 0 0 1 75.1,2049.3 Z" fill="#101010" transform="translate(1,1)" clip-path="url(#c8)"/>
<path d="M75.1,2028.8 H90.1 l6,4 3,0 5,-4 H319.1 V2054.8 H104.7 l-5.5,4.4 -3,0 -6.6,-4.4 H80.6 A5.5,5.5 0 0 1 75.1,2049.3 Z" fill="#276944"/>
<path d="M75.1,2029.3 H90.1 l6,4 3,0 5,-4 H319.1" fill="none" stroke="#79a28b" stroke-width="1"/>
<rect x="75.1" y="2028.8" width="1" height="20.5" fill="#79a28b"/>
<rect x="318.1" y="2029.8" width="1" height="24" fill="#528769"/>
<path d="M80.6,2054.3 H89.7 l6.3,4.2 3,0 5.6,-4.2 H319.1" fill="none" stroke="#153a25" stroke-width="1"/>
<rect x="114.1" y="2033.8" width="79.4" height="16" rx="4" fill="#a9c3b4"/>
<path d="M179.8,2038.8 h5.6 l-1.9,2.8 v2.4 h-1.8 v-2.4 z" fill="#276944"/>
<rect x="208.6" y="2033.8" width="69.8" height="16" rx="4" fill="#a9c3b4"/>
<path d="M263.3,2038.8 h5.6 l-1.9,2.8 v2.4 h-1.8 v-2.4 z" fill="#276944"/>
<path d="M319.1,2048.6 C319.1,2039.27 311.1,2056.07 311.1,2041.6 C311.1,2027.13 319.1,2043.93 319.1,2034.6" fill="none" stroke="#000" stroke-opacity="0.18" stroke-width="2"/>
<rect x="318.1" y="2028.8" width="1" height="5.8" fill="#000" fill-opacity="0.25"/>
<rect x="318.1" y="2048.6" width="1" height="6.2" fill="#000" fill-opacity="0.25"/>
<rect x="387.1" y="2029.8" width="1" height="26" fill="#101010" fill-opacity="0.7"/>
<rect x="320.1" y="2054.8" width="68" height="1" fill="#101010" fill-opacity="0.7"/>
<path d="M319.1,2028.8 H387.1 V2054.8 H319.1 L319.1,2048.6 C319.1,2039.27 311.1,2056.07 311.1,2041.6 C311.1,2027.13 319.1,2043.93 319.1,2034.6 Z" fill="#77ab41"/>
<rect x="319.1" y="2028.8" width="68" height="1" fill="#abcb89"/>
<rect x="319.1" y="2028.8" width="1" height="5.8" fill="#abcb89"/>
<rect x="319.1" y="2048.6" width="1" height="6.2" fill="#abcb89"/>
<rect x="386.1" y="2028.8" width="1" height="26" fill="#99c070"/>
<rect x="320.1" y="2053.8" width="66" height="1" fill="#53782e"/>
<rect x="324.6" y="2033.8" width="56.2" height="16" rx="4" fill="#c9ddb3"/>
<path d="M368.3,2038.8 h5.6 l-1.9,2.8 v2.4 h-1.8 v-2.4 z" fill="#77ab41"/>
<path d="M35,2103.5 A5.5,5.5 0 0 1 40.5,2098 H234.5 V2124.8 H101.6 l-5.5,4.4 -3,0 -6.6,-4.4 H77.5 A5.5,5.5 0 0 0 72,2130.3 V2273.8 A5.5,5.5 0 0 0 77.5,2279.3 H234.5 V2292.5 H40.5 A5.5,5.5 0 0 1 35,2287 Z" fill="#b18e35"/>
<rect x="40.5" y="2098" width="194" height="1" fill="#cfb982"/>
<rect x="35" y="2103.5" width="1" height="183.5" fill="#cfb982"/>
<rect x="233.5" y="2099" width="1" height="25.8" fill="#dccca4"/>
<rect x="233.5" y="2280.3" width="1" height="12.2" fill="#dccca4"/>
<rect x="102" y="2123.8" width="131.5" height="1" fill="#7c6325"/>
<rect x="40.5" y="2291.5" width="193" height="1" fill="#7c6325"/>
<rect x="88" y="2103" width="94" height="16" rx="4" fill="#e0d2ae"/>
<path d="M169.7,2108 h5.6 l-1.9,2.8 v2.4 h-1.8 v-2.4 z" fill="#b18e35"/>
<path d="M72.2,2130.3 A5.5,5.5 0 0 1 77.7,2124.8 H87.2 l6,4 3,0 5,-4 H346.2 V2150.8 H101.8 l-5.5,4.4 -3,0 -6.6,-4.4 H72.2 Z" fill="#276944"/>
<path d="M77.7,2125.3 H87.2 l6,4 3,0 5,-4 H346.2" fill="none" stroke="#79a28b" stroke-width="1"/>
<rect x="72.2" y="2130.3" width="1" height="20.5" fill="#79a28b"/>
<rect x="345.2" y="2125.8" width="1" height="24" fill="#528769"/>
<path d="M72.2,2150.3 H86.8 l6.3,4.2 3,0 5.6,-4.2 H346.2" fill="none" stroke="#153a25" stroke-width="1"/>
<rect x="111.2" y="2129.8" width="109.4" height="16" rx="4" fill="#a9c3b4"/>
<path d="M207.9,2134.8 h5.6 l-1.9,2.8 v2.4 h-1.8 v-2.4 z" fill="#276944"/>
<rect x="235.7" y="2129.8" width="69.8" height="16" rx="4" fill="#a9c3b4"/>
<path d="M290.4,2134.8 h5.6 l-1.9,2.8 v2.4 h-1.8 v-2.4 z" fill="#276944"/>
<path d="M346.2,2144.6 C346.2,2135.27 338.2,2152.07 338.2,2137.6 C338.2,2123.13 346.2,2139.93 346.2,2130.6" fill="none" stroke="#000" stroke-opacity="0.18" stroke-width="2"/>
<rect x="345.2" y="2124.8" width="1" height="5.8" fill="#000" fill-opacity="0.25"/>
<rect x="345.2" y="2144.6" width="1" height="6.2" fill="#000" fill-opacity="0.25"/>
<rect x="414.2" y="2125.8" width="1" height="26" fill="#101010" fill-opacity="0.7"/>
<rect x="347.2" y="2150.8" width="68" height="1" fill="#101010" fill-opacity="0.7"/>
<path d="M346.2,2124.8 H414.2 V2150.8 H346.2 L346.2,2144.6 C346.2,2135.27 338.2,2152.07 338.2,2137.6 C338.2,2123.13 346.2,2139.93 346.2,2130.6 Z" fill="#77ab41"/>
<rect x="346.2" y="2124.8" width="68" height="1" fill="#abcb89"/>
<rect x="346.2" y="2124.8" width="1" height="5.8" fill="#abcb89"/>
<rect x="346.2" y="2144.6" width="1" height="6.2" fill="#abcb89"/>
<rect x="413.2" y="2124.8" width="1" height="26" fill="#99c070"/>
<rect x="347.2" y="2149.8" width="66" height="1" fill="#53782e"/>
<rect x="351.7" y="2129.8" width="56.2" height="16" rx="4" fill="#c9ddb3"/>
<path d="M395.4,2134.8 h5.6 l-1.9,2.8 v2.4 h-1.8 v-2.4 z" fill="#77ab41"/>
<path d="M72.2,2150.7 H87.2 l6,4 3,0 5,-4 H344.9 V2176.7 H101.8 l-5.5,4.4 -3,0 -6.6,-4.4 H72.2 Z" fill="#276944"/>
<path d="M72.2,2151.2 H87.2 l6,4 3,0 5,-4 H344.9" fill="none" stroke="#79a28b" stroke-width="1"/>
<rect x="72.2" y="2150.7" width="1" height="26" fill="#79a28b"/>
<rect x="343.9" y="2151.7" width="1" height="24" fill="#528769"/>
<path d="M72.2,2176.2 H86.8 l6.3,4.2 3,0 5.6,-4.2 H344.9" fill="none" stroke="#153a25" stroke-width="1"/>
<rect x="111.2" y="2155.7" width="108.1" height="16" rx="4" fill="#a9c3b4"/>
<path d="M206.9,2160.7 h5.6 l-1.9,2.8 v2.4 h-1.8 v-2.4 z" fill="#276944"/>
<rect x="234.4" y="2155.7" width="69.8" height="16" rx="4" fill="#a9c3b4"/>
<path d="M289.1,2160.7 h5.6 l-1.9,2.8 v2.4 h-1.8 v-2.4 z" fill="#276944"/>
<path d="M344.9,2170.5 C344.9,2161.17 336.9,2177.97 336.9,2163.5 C336.9,2149.03 344.9,2165.83 344.9,2156.5" fill="none" stroke="#000" stroke-opacity="0.18" stroke-width="2"/>
<rect x="343.9" y="2150.7" width="1" height="5.8" fill="#000" fill-opacity="0.25"/>
<rect x="343.9" y="2170.5" width="1" height="6.2" fill="#000" fill-opacity="0.25"/>
<rect x="412.9" y="2151.7" width="1" height="26" fill="#101010" fill-opacity="0.7"/>
<rect x="345.9" y="2176.7" width="68" height="1" fill="#101010" fill-opacity="0.7"/>
<path d="M344.9,2150.7 H412.9 V2176.7 H344.9 L344.9,2170.5 C344.9,2161.17 336.9,2177.97 336.9,2163.5 C336.9,2149.03 344.9,2165.83 344.9,2156.5 Z" fill="#77ab41"/>
<rect x="344.9" y="2150.7" width="68" height="1" fill="#abcb89"/>
<rect x="344.9" y="2150.7" width="1" height="5.8" fill="#abcb89"/>
<rect x="344.9" y="2170.5" width="1" height="6.2" fill="#abcb89"/>
<rect x="411.9" y="2150.7" width="1" height="26" fill="#99c070"/>
<rect x="345.9" y="2175.7" width="66" height="1" fill="#53782e"/>
<rect x="350.4" y="2155.7" width="56.2" height="16" rx="4" fill="#c9ddb3"/>
<path d="M394.1,2160.7 h5.6 l-1.9,2.8 v2.4 h-1.8 v-2.4 z" fill="#77ab41"/>
<path d="M72.2,2176.6 H87.2 l6,4 3,0 5,-4 H342.4 V2202.6 H101.8 l-5.5,4.4 -3,0 -6.6,-4.4 H72.2 Z" fill="#276944"/>
<path d="M72.2,2177.1 H87.2 l6,4 3,0 5,-4 H342.4" fill="none" stroke="#79a28b" stroke-width="1"/>
<rect x="72.2" y="2176.6" width="1" height="26" fill="#79a28b"/>
<rect x="341.4" y="2177.6" width="1" height="24" fill="#528769"/>
<path d="M72.2,2202.1 H86.8 l6.3,4.2 3,0 5.6,-4.2 H342.4" fill="none" stroke="#153a25" stroke-width="1"/>
<rect x="111.2" y="2181.6" width="105.6" height="16" rx="4" fill="#a9c3b4"/>
<path d="M204.9,2186.6 h5.6 l-1.9,2.8 v2.4 h-1.8 v-2.4 z" fill="#276944"/>
<rect x="231.9" y="2181.6" width="69.8" height="16" rx="4" fill="#a9c3b4"/>
<path d="M286.6,2186.6 h5.6 l-1.9,2.8 v2.4 h-1.8 v-2.4 z" fill="#276944"/>
<path d="M342.4,2196.4 C342.4,2187.07 334.4,2203.87 334.4,2189.4 C334.4,2174.93 342.4,2191.73 342.4,2182.4" fill="none" stroke="#000" stroke-opacity="0.18" stroke-width="2"/>
<rect x="341.4" y="2176.6" width="1" height="5.8" fill="#000" fill-opacity="0.25"/>
<rect x="341.4" y="2196.4" width="1" height="6.2" fill="#000" fill-opacity="0.25"/>
<rect x="410.4" y="2177.6" width="1" height="26" fill="#101010" fill-opacity="0.7"/>
<rect x="343.4" y="2202.6" width="68" height="1" fill="#101010" fill-opacity="0.7"/>
<path d="M342.4,2176.6 H410.4 V2202.6 H342.4 L342.4,2196.4 C342.4,2187.07 334.4,2203.87 334.4,2189.4 C334.4,2174.93 342.4,2191.73 342.4,2182.4 Z" fill="#77ab41"/>
<rect x="342.4" y="2176.6" width="68" height="1" fill="#abcb89"/>
<rect x="342.4" y="2176.6" width="1" height="5.8" fill="#abcb89"/>
<rect x="342.4" y="2196.4" width="1" height="6.2" fill="#abcb89"/>
<rect x="409.4" y="2176.6" width="1" height="26" fill="#99c070"/>
<rect x="343.4" y="2201.6" width="66" height="1" fill="#53782e"/>
<rect x="347.9" y="2181.6" width="56.2" height="16" rx="4" fill="#c9ddb3"/>
<path d="M391.6,2186.6 h5.6 l-1.9,2.8 v2.4 h-1.8 v-2.4 z" fill="#77ab41"/>
<path d="M72.2,2202.5 H87.2 l6,4 3,0 5,-4 H249.8 V2228.5 H101.8 l-5.5,4.4 -3,0 -6.6,-4.4 H72.2 Z" fill="#d05f2d"/>
<path d="M72.2,2203 H87.2 l6,4 3,0 5,-4 H249.8" fill="none" stroke="#e29c7d" stroke-width="1"/>
<rect x="72.2" y="2202.5" width="1" height="26" fill="#e29c7d"/>
<rect x="248.8" y="2203.5" width="1" height="24" fill="#d97f57"/>
<path d="M72.2,2228 H86.8 l6.3,4.2 3,0 5.6,-4.2 H249.8" fill="none" stroke="#723419" stroke-width="1"/>
<rect x="106.9" y="2207.5" width="105.5" height="16" rx="4" fill="#ecbfab"/>
<path d="M197.6,2212.5 h5.6 l-1.9,2.8 v2.4 h-1.8 v-2.4 z" fill="#d05f2d"/>
<path d="M249.8,2222.3 C249.8,2212.97 241.8,2229.77 241.8,2215.3 C241.8,2200.83 249.8,2217.63 249.8,2208.3" fill="none" stroke="#000" stroke-opacity="0.18" stroke-width="2"/>
<rect x="248.8" y="2202.5" width="1" height="5.8" fill="#000" fill-opacity="0.25"/>
<rect x="248.8" y="2222.3" width="1" height="6.2" fill="#000" fill-opacity="0.25"/>
<rect x="350.2" y="2203.5" width="1" height="26" fill="#101010" fill-opacity="0.7"/>
<rect x="250.8" y="2228.5" width="100.4" height="1" fill="#101010" fill-opacity="0.7"/>
<path d="M249.8,2202.5 H350.2 V2228.5 H249.8 L249.8,2222.3 C249.8,2212.97 241.8,2229.77 241.8,2215.3 C241.8,2200.83 249.8,2217.63 249.8,2208.3 Z" fill="#b52a5c"/>
<rect x="249.8" y="2202.5" width="100.4" height="1" fill="#d17b9a"/>
<rect x="249.8" y="2202.5" width="1" height="5.8" fill="#d17b9a"/>
<rect x="249.8" y="2222.3" width="1" height="6.2" fill="#d17b9a"/>
<rect x="349.2" y="2202.5" width="1" height="26" fill="#c85f85"/>
<rect x="250.8" y="2227.5" width="98.4" height="1" fill="#7f1d40"/>
<rect x="268.4" y="2207.5" width="61.4" height="16" rx="4" fill="#e1aabe"/>
<path d="M72.2,2228.4 H87.2 l6,4 3,0 5,-4 H287.6 V2254.4 H101.8 l-5.5,4.4 -3,0 -6.6,-4.4 H72.2 Z" fill="#d05f2d"/>
<path d="M72.2,2228.9 H87.2 l6,4 3,0 5,-4 H287.6" fill="none" stroke="#e29c7d" stroke-width="1"/>
<rect x="72.2" y="2228.4" width="1" height="26" fill="#e29c7d"/>
<rect x="286.6" y="2229.4" width="1" height="24" fill="#d97f57"/>
<path d="M72.2,2253.9 H86.8 l6.3,4.2 3,0 5.6,-4.2 H287.6" fill="none" stroke="#723419" stroke-width="1"/>
<rect x="106.9" y="2233.4" width="144.1" height="16" rx="4" fill="#ecbfab"/>
<path d="M240.7,2238.4 h5.6 l-1.9,2.8 v2.4 h-1.8 v-2.4 z" fill="#d05f2d"/>
<path d="M287.6,2248.2 C287.6,2238.87 279.6,2255.67 279.6,2241.2 C279.6,2226.73 287.6,2243.53 287.6,2234.2" fill="none" stroke="#000" stroke-opacity="0.18" stroke-width="2"/>
<rect x="286.6" y="2228.4" width="1" height="5.8" fill="#000" fill-opacity="0.25"/>
<rect x="286.6" y="2248.2" width="1" height="6.2" fill="#000" fill-opacity="0.25"/>
<rect x="444" y="2229.4" width="1" height="26" fill="#101010" fill-opacity="0.7"/>
<rect x="288.6" y="2254.4" width="156.4" height="1" fill="#101010" fill-opacity="0.7"/>
<path d="M287.6,2228.4 H444 V2254.4 H287.6 L287.6,2248.2 C287.6,2238.87 279.6,2255.67 279.6,2241.2 C279.6,2226.73 287.6,2243.53 287.6,2234.2 Z" fill="#49a4d7"/>
<rect x="287.6" y="2228.4" width="156.4" height="1" fill="#8ec7e6"/>
<rect x="287.6" y="2228.4" width="1" height="5.8" fill="#8ec7e6"/>
<rect x="287.6" y="2248.2" width="1" height="6.2" fill="#8ec7e6"/>
<rect x="443" y="2228.4" width="1" height="26" fill="#76bbe1"/>
<rect x="288.6" y="2253.4" width="154.4" height="1" fill="#337396"/>
<rect x="297.8" y="2232.5" width="15.5" height="16" rx="3.5" fill="#1734f2" stroke="#cce6f4" stroke-width="1"/>
<path d="M304.34,2235.65 L306.76,2235.65 L306.8,2237.23 L307.75,2237.78 L309.15,2237.03 L310.36,2239.12 L309.01,2239.95 L309.01,2241.05 L310.36,2241.88 L309.15,2243.97 L307.75,2243.22 L306.8,2243.77 L306.76,2245.35 L304.34,2245.35 L304.3,2243.77 L303.35,2243.22 L301.95,2243.97 L300.74,2241.88 L302.09,2241.05 L302.09,2239.95 L300.74,2239.12 L301.95,2237.03 L303.35,2237.78 L304.3,2237.23 Z" fill="#cce6f4"/>
<circle cx="305.55" cy="2240.5" r="1.9" fill="#1734f2"/>
<clipPath id="c9"><rect x="0" y="2273" width="1030" height="200"/></clipPath>
<path d="M72.2,2254.3 H87.2 l6,4 3,0 5,-4 H180.9 V2279.5 H101.8 l-5.5,4.4 -3,0 -6.6,-4.4 H77.7 A5.5,5.5 0 0 1 72.2,2274 Z" fill="#101010" transform="translate(1,1)" clip-path="url(#c9)"/>
<path d="M72.2,2254.3 H87.2 l6,4 3,0 5,-4 H180.9 V2279.5 H101.8 l-5.5,4.4 -3,0 -6.6,-4.4 H77.7 A5.5,5.5 0 0 1 72.2,2274 Z" fill="#7c5385"/>
<path d="M72.2,2254.8 H87.2 l6,4 3,0 5,-4 H180.9" fill="none" stroke="#ae94b3" stroke-width="1"/>
<rect x="72.2" y="2254.3" width="1" height="19.7" fill="#ae94b3"/>
<rect x="179.9" y="2255.3" width="1" height="23.2" fill="#96759d"/>
<path d="M77.7,2279 H86.8 l6.3,4.2 3,0 5.6,-4.2 H180.9" fill="none" stroke="#442e49" stroke-width="1"/>
<rect x="113.5" y="2259.3" width="61.5" height="16" rx="4" fill="#cbbace"/>
<path d="M161.2,2264.3 h5.6 l-1.9,2.8 v2.4 h-1.8 v-2.4 z" fill="#7c5385"/>
<g filter="url(#crisp)">
<text x="131.1" y="30" fill="#000" font-size="14.0" textLength="84" lengthAdjust="spacing" xml:space="preserve">primeraopcio</text>
<text x="155.47" y="56" fill="#000" font-size="14.0" textLength="132" lengthAdjust="spacing" xml:space="preserve">ActivityStarter_Mapa</text>
<text x="329.35" y="56" fill="#000" font-size="14.0" textLength="48" lengthAdjust="spacing" xml:space="preserve">DataUri</text>
<text x="544.9" y="56" fill="#000" font-size="14.0" textLength="72" lengthAdjust="spacing" xml:space="preserve">geo:0,0?q=</text>
<text x="862.71" y="82" fill="#000" font-size="14.0" textLength="122" lengthAdjust="spacing" xml:space="preserve">global Trespropers</text>
<text x="833.7" y="108" fill="#000" font-size="14.0" xml:space="preserve">1</text>
<text x="681.5" y="134" fill="#000" font-size="14.0" xml:space="preserve">3</text>
<text x="544.5" y="160" fill="#000" font-size="14.0" xml:space="preserve">,</text>
<text x="862.71" y="186" fill="#000" font-size="14.0" textLength="122" lengthAdjust="spacing" xml:space="preserve">global Trespropers</text>
<text x="833.7" y="212" fill="#000" font-size="14.0" xml:space="preserve">1</text>
<text x="681.5" y="238" fill="#000" font-size="14.0" xml:space="preserve">4</text>
<text x="862.71" y="264" fill="#000" font-size="14.0" textLength="122" lengthAdjust="spacing" xml:space="preserve">global Trespropers</text>
<text x="833.7" y="290" fill="#000" font-size="14.0" xml:space="preserve">1</text>
<text x="681.5" y="316" fill="#000" font-size="14.0" xml:space="preserve">5</text>
<text x="544.5" y="342" fill="#000" font-size="14.0" textLength="31" lengthAdjust="spacing" xml:space="preserve">?z=5</text>
<text x="157.17" y="368" fill="#000" font-size="14.0" textLength="132" lengthAdjust="spacing" xml:space="preserve">ActivityStarter_Mapa</text>
<text x="116.61" y="449" fill="#000" font-size="14.0" textLength="83" lengthAdjust="spacing" xml:space="preserve">segonaopcio</text>
<text x="140.47" y="475" fill="#000" font-size="14.0" textLength="132" lengthAdjust="spacing" xml:space="preserve">ActivityStarter_Mapa</text>
<text x="314.35" y="475" fill="#000" font-size="14.0" textLength="48" lengthAdjust="spacing" xml:space="preserve">DataUri</text>
<text x="529.9" y="475" fill="#000" font-size="14.0" textLength="72" lengthAdjust="spacing" xml:space="preserve">geo:0,0?q=</text>
<text x="847.71" y="501" fill="#000" font-size="14.0" textLength="122" lengthAdjust="spacing" xml:space="preserve">global Trespropers</text>
<text x="818.7" y="527" fill="#000" font-size="14.0" xml:space="preserve">2</text>
<text x="666.5" y="553" fill="#000" font-size="14.0" xml:space="preserve">3</text>
<text x="529.5" y="579" fill="#000" font-size="14.0" xml:space="preserve">,</text>
<text x="847.71" y="605" fill="#000" font-size="14.0" textLength="122" lengthAdjust="spacing" xml:space="preserve">global Trespropers</text>
<text x="818.7" y="631" fill="#000" font-size="14.0" xml:space="preserve">2</text>
<text x="666.5" y="657" fill="#000" font-size="14.0" xml:space="preserve">4</text>
<text x="847.71" y="683" fill="#000" font-size="14.0" textLength="122" lengthAdjust="spacing" xml:space="preserve">global Trespropers</text>
<text x="818.7" y="709" fill="#000" font-size="14.0" xml:space="preserve">2</text>
<text x="666.5" y="735" fill="#000" font-size="14.0" xml:space="preserve">5</text>
<text x="529.5" y="761" fill="#000" font-size="14.0" textLength="31" lengthAdjust="spacing" xml:space="preserve">?z=5</text>
<text x="142.17" y="787" fill="#000" font-size="14.0" textLength="132" lengthAdjust="spacing" xml:space="preserve">ActivityStarter_Mapa</text>
<text x="107.79" y="879" fill="#000" font-size="14.0" textLength="81" lengthAdjust="spacing" xml:space="preserve">terceraopcio</text>
<text x="131.47" y="905" fill="#000" font-size="14.0" textLength="132" lengthAdjust="spacing" xml:space="preserve">ActivityStarter_Mapa</text>
<text x="305.35" y="905" fill="#000" font-size="14.0" textLength="48" lengthAdjust="spacing" xml:space="preserve">DataUri</text>
<text x="520.9" y="905" fill="#000" font-size="14.0" textLength="72" lengthAdjust="spacing" xml:space="preserve">geo:0,0?q=</text>
<text x="838.71" y="931" fill="#000" font-size="14.0" textLength="122" lengthAdjust="spacing" xml:space="preserve">global Trespropers</text>
<text x="809.7" y="957" fill="#000" font-size="14.0" xml:space="preserve">3</text>
<text x="657.5" y="983" fill="#000" font-size="14.0" xml:space="preserve">3</text>
<text x="520.5" y="1009" fill="#000" font-size="14.0" xml:space="preserve">,</text>
<text x="838.71" y="1035" fill="#000" font-size="14.0" textLength="122" lengthAdjust="spacing" xml:space="preserve">global Trespropers</text>
<text x="809.7" y="1061" fill="#000" font-size="14.0" xml:space="preserve">3</text>
<text x="657.5" y="1087" fill="#000" font-size="14.0" xml:space="preserve">4</text>
<text x="838.71" y="1113" fill="#000" font-size="14.0" textLength="122" lengthAdjust="spacing" xml:space="preserve">global Trespropers</text>
<text x="809.7" y="1139" fill="#000" font-size="14.0" xml:space="preserve">3</text>
<text x="657.5" y="1165" fill="#000" font-size="14.0" xml:space="preserve">5</text>
<text x="520.5" y="1191" fill="#000" font-size="14.0" textLength="31" lengthAdjust="spacing" xml:space="preserve">?z=5</text>
<text x="133.17" y="1217" fill="#000" font-size="14.0" textLength="132" lengthAdjust="spacing" xml:space="preserve">ActivityStarter_Mapa</text>
<text x="106.17" y="1291" fill="#000" font-size="14.0" textLength="25" lengthAdjust="spacing" xml:space="preserve">Add</text>
<text x="124.41" y="1317.3" fill="#000" font-size="14.0" textLength="78" lengthAdjust="spacing" xml:space="preserve">global Accio</text>
<text x="287.2" y="1317.3" fill="#000" font-size="14.0" textLength="36" lengthAdjust="spacing" xml:space="preserve">afegir</text>
<text x="130.65" y="1343.2" fill="#000" font-size="14.0" textLength="35" lengthAdjust="spacing" xml:space="preserve">Llegir</text>
<text x="99.27" y="1405" fill="#000" font-size="14.0" textLength="40" lengthAdjust="spacing" xml:space="preserve">Admin</text>
<text x="183.15" y="1437.2" fill="#000" font-size="14.0" textLength="124" lengthAdjust="spacing" xml:space="preserve">PasswordTextBox1</text>
<text x="347.99" y="1437.2" fill="#000" font-size="14.0" textLength="28" lengthAdjust="spacing" xml:space="preserve">Text</text>
<text x="411.82" y="1436.5" fill="#000" font-size="14.0" xml:space="preserve">=</text>
<text x="494.71" y="1437.2" fill="#000" font-size="14.0" textLength="105" lengthAdjust="spacing" xml:space="preserve">global password</text>
<text x="170.15" y="1468.3" fill="#000" font-size="14.0" textLength="124" lengthAdjust="spacing" xml:space="preserve">PasswordTextBox1</text>
<text x="336.14" y="1468.3" fill="#000" font-size="14.0" textLength="42" lengthAdjust="spacing" xml:space="preserve">Visible</text>
<text x="452" y="1468.3" fill="#000" font-size="14.0" textLength="31" lengthAdjust="spacing" xml:space="preserve">false</text>
<text x="171.27" y="1494.2" fill="#000" font-size="14.0" textLength="40" lengthAdjust="spacing" xml:space="preserve">Admin</text>
<text x="254.04" y="1494.2" fill="#000" font-size="14.0" textLength="42" lengthAdjust="spacing" xml:space="preserve">Visible</text>
<text x="369.9" y="1494.2" fill="#000" font-size="14.0" textLength="31" lengthAdjust="spacing" xml:space="preserve">false</text>
<text x="170.64" y="1520.1" fill="#000" font-size="14.0" textLength="37" lengthAdjust="spacing" xml:space="preserve">Quick</text>
<text x="250.54" y="1520.1" fill="#000" font-size="14.0" textLength="42" lengthAdjust="spacing" xml:space="preserve">Visible</text>
<text x="366.4" y="1520.1" fill="#000" font-size="14.0" textLength="31" lengthAdjust="spacing" xml:space="preserve">false</text>
<text x="170.4" y="1546" fill="#000" font-size="14.0" textLength="31" lengthAdjust="spacing" xml:space="preserve">back</text>
<text x="244.04" y="1546" fill="#000" font-size="14.0" textLength="42" lengthAdjust="spacing" xml:space="preserve">Visible</text>
<text x="359.89" y="1546" fill="#000" font-size="14.0" textLength="25" lengthAdjust="spacing" xml:space="preserve">true</text>
<text x="171.27" y="1571.9" fill="#000" font-size="14.0" textLength="25" lengthAdjust="spacing" xml:space="preserve">Add</text>
<text x="238.44" y="1571.9" fill="#000" font-size="14.0" textLength="42" lengthAdjust="spacing" xml:space="preserve">Visible</text>
<text x="354.29" y="1571.9" fill="#000" font-size="14.0" textLength="25" lengthAdjust="spacing" xml:space="preserve">true</text>
<text x="170.15" y="1597.8" fill="#000" font-size="14.0" textLength="69" lengthAdjust="spacing" xml:space="preserve">Descripcio</text>
<text x="280.84" y="1597.8" fill="#000" font-size="14.0" textLength="42" lengthAdjust="spacing" xml:space="preserve">Visible</text>
<text x="396.69" y="1597.8" fill="#000" font-size="14.0" textLength="25" lengthAdjust="spacing" xml:space="preserve">true</text>
<text x="170.15" y="1623.7" fill="#000" font-size="14.0" textLength="155" lengthAdjust="spacing" xml:space="preserve">HorizontalArrangement2</text>
<text x="367.64" y="1623.7" fill="#000" font-size="14.0" textLength="42" lengthAdjust="spacing" xml:space="preserve">Visible</text>
<text x="483.49" y="1623.7" fill="#000" font-size="14.0" textLength="25" lengthAdjust="spacing" xml:space="preserve">true</text>
<text x="171.24" y="1649.6" fill="#000" font-size="14.0" textLength="139" lengthAdjust="spacing" xml:space="preserve">VerticalArrangement1</text>
<text x="351.54" y="1649.6" fill="#000" font-size="14.0" textLength="42" lengthAdjust="spacing" xml:space="preserve">Visible</text>
<text x="467.4" y="1649.6" fill="#000" font-size="14.0" textLength="31" lengthAdjust="spacing" xml:space="preserve">false</text>
<text x="170.15" y="1675.5" fill="#000" font-size="14.0" textLength="155" lengthAdjust="spacing" xml:space="preserve">HorizontalArrangement3</text>
<text x="367.64" y="1675.5" fill="#000" font-size="14.0" textLength="42" lengthAdjust="spacing" xml:space="preserve">Visible</text>
<text x="483.5" y="1675.5" fill="#000" font-size="14.0" textLength="31" lengthAdjust="spacing" xml:space="preserve">false</text>
<text x="169.71" y="1716" fill="#000" font-size="14.0" textLength="53" lengthAdjust="spacing" xml:space="preserve">IncPass</text>
<text x="264.94" y="1716" fill="#000" font-size="14.0" textLength="42" lengthAdjust="spacing" xml:space="preserve">Visible</text>
<text x="380.79" y="1716" fill="#000" font-size="14.0" textLength="25" lengthAdjust="spacing" xml:space="preserve">true</text>
<text x="96.57" y="1813" fill="#000" font-size="14.0" textLength="24" lengthAdjust="spacing" xml:space="preserve">Adv</text>
<text x="118.2" y="1839.6" fill="#000" font-size="14.0" textLength="31" lengthAdjust="spacing" xml:space="preserve">back</text>
<text x="192.04" y="1839.6" fill="#000" font-size="14.0" textLength="42" lengthAdjust="spacing" xml:space="preserve">Visible</text>
<text x="307.89" y="1839.6" fill="#000" font-size="14.0" textLength="25" lengthAdjust="spacing" xml:space="preserve">true</text>
<text x="119.04" y="1865.5" fill="#000" font-size="14.0" textLength="139" lengthAdjust="spacing" xml:space="preserve">VerticalArrangement1</text>
<text x="299.34" y="1865.5" fill="#000" font-size="14.0" textLength="42" lengthAdjust="spacing" xml:space="preserve">Visible</text>
<text x="415.2" y="1865.5" fill="#000" font-size="14.0" textLength="31" lengthAdjust="spacing" xml:space="preserve">false</text>
<text x="118.16" y="1891.4" fill="#000" font-size="14.0" textLength="50" lengthAdjust="spacing" xml:space="preserve">lavabos</text>
<text x="208.54" y="1891.4" fill="#000" font-size="14.0" textLength="42" lengthAdjust="spacing" xml:space="preserve">Visible</text>
<text x="324.4" y="1891.4" fill="#000" font-size="14.0" textLength="31" lengthAdjust="spacing" xml:space="preserve">false</text>
<text x="119.07" y="1917.3" fill="#000" font-size="14.0" textLength="25" lengthAdjust="spacing" xml:space="preserve">Add</text>
<text x="186.44" y="1917.3" fill="#000" font-size="14.0" textLength="42" lengthAdjust="spacing" xml:space="preserve">Visible</text>
<text x="302.3" y="1917.3" fill="#000" font-size="14.0" textLength="31" lengthAdjust="spacing" xml:space="preserve">false</text>
<text x="117.95" y="1943.2" fill="#000" font-size="14.0" textLength="69" lengthAdjust="spacing" xml:space="preserve">Descripcio</text>
<text x="228.64" y="1943.2" fill="#000" font-size="14.0" textLength="42" lengthAdjust="spacing" xml:space="preserve">Visible</text>
<text x="344.5" y="1943.2" fill="#000" font-size="14.0" textLength="31" lengthAdjust="spacing" xml:space="preserve">false</text>
<text x="117.95" y="1969.1" fill="#000" font-size="14.0" textLength="155" lengthAdjust="spacing" xml:space="preserve">HorizontalArrangement2</text>
<text x="315.44" y="1969.1" fill="#000" font-size="14.0" textLength="42" lengthAdjust="spacing" xml:space="preserve">Visible</text>
<text x="431.3" y="1969.1" fill="#000" font-size="14.0" textLength="31" lengthAdjust="spacing" xml:space="preserve">false</text>
<text x="117.95" y="1995" fill="#000" font-size="14.0" textLength="155" lengthAdjust="spacing" xml:space="preserve">HorizontalArrangement3</text>
<text x="315.44" y="1995" fill="#000" font-size="14.0" textLength="42" lengthAdjust="spacing" xml:space="preserve">Visible</text>
<text x="431.29" y="1995" fill="#000" font-size="14.0" textLength="25" lengthAdjust="spacing" xml:space="preserve">true</text>
<text x="118.17" y="2020.9" fill="#000" font-size="14.0" textLength="21" lengthAdjust="spacing" xml:space="preserve">rad</text>
<text x="179.65" y="2020.9" fill="#000" font-size="14.0" textLength="88" lengthAdjust="spacing" xml:space="preserve">NumbersOnly</text>
<text x="341.19" y="2020.9" fill="#000" font-size="14.0" textLength="25" lengthAdjust="spacing" xml:space="preserve">true</text>
<text x="117.81" y="2046.8" fill="#000" font-size="14.0" textLength="53" lengthAdjust="spacing" xml:space="preserve">IncPass</text>
<text x="213.54" y="2046.8" fill="#000" font-size="14.0" textLength="42" lengthAdjust="spacing" xml:space="preserve">Visible</text>
<text x="329.4" y="2046.8" fill="#000" font-size="14.0" textLength="31" lengthAdjust="spacing" xml:space="preserve">false</text>
<text x="92.61" y="2116" fill="#000" font-size="14.0" textLength="69" lengthAdjust="spacing" xml:space="preserve">searchradi</text>
<text x="115.3" y="2142.8" fill="#000" font-size="14.0" textLength="84" lengthAdjust="spacing" xml:space="preserve">primeraopcio</text>
<text x="240.64" y="2142.8" fill="#000" font-size="14.0" textLength="42" lengthAdjust="spacing" xml:space="preserve">Visible</text>
<text x="356.5" y="2142.8" fill="#000" font-size="14.0" textLength="31" lengthAdjust="spacing" xml:space="preserve">false</text>
<text x="115.81" y="2168.7" fill="#000" font-size="14.0" textLength="83" lengthAdjust="spacing" xml:space="preserve">segonaopcio</text>
<text x="239.34" y="2168.7" fill="#000" font-size="14.0" textLength="42" lengthAdjust="spacing" xml:space="preserve">Visible</text>
<text x="355.2" y="2168.7" fill="#000" font-size="14.0" textLength="31" lengthAdjust="spacing" xml:space="preserve">false</text>
<text x="115.99" y="2194.6" fill="#000" font-size="14.0" textLength="81" lengthAdjust="spacing" xml:space="preserve">terceraopcio</text>
<text x="236.84" y="2194.6" fill="#000" font-size="14.0" textLength="42" lengthAdjust="spacing" xml:space="preserve">Visible</text>
<text x="352.7" y="2194.6" fill="#000" font-size="14.0" textLength="31" lengthAdjust="spacing" xml:space="preserve">false</text>
<text x="111.31" y="2220.5" fill="#000" font-size="14.0" textLength="78" lengthAdjust="spacing" xml:space="preserve">global Accio</text>
<text x="273.9" y="2220.5" fill="#000" font-size="14.0" textLength="52" lengthAdjust="spacing" xml:space="preserve">lectura2</text>
<text x="111.31" y="2246.4" fill="#000" font-size="14.0" textLength="122" lengthAdjust="spacing" xml:space="preserve">global Trespropers</text>
<text x="117.35" y="2272.3" fill="#000" font-size="14.0" textLength="35" lengthAdjust="spacing" xml:space="preserve">Llegir</text>
</g>
<g filter="url(#crispw)">
<text x="84.32" y="30" fill="#fff" font-size="14.0" textLength="34" lengthAdjust="spacing" xml:space="preserve">when</text>
<text x="241.42" y="30" fill="#fff" font-size="14.0" textLength="35" lengthAdjust="spacing" xml:space="preserve">.Click</text>
<text x="83.71" y="55.2" fill="#fff" font-size="14.0" textLength="16" lengthAdjust="spacing" xml:space="preserve">do</text>
<text x="121.21" y="56" fill="#fff" font-size="14.0" textLength="20" lengthAdjust="spacing" xml:space="preserve">set</text>
<text x="316.72" y="56" fill="#fff" font-size="14.0" xml:space="preserve">.</text>
<text x="408.89" y="56" fill="#fff" font-size="14.0" textLength="12" lengthAdjust="spacing" xml:space="preserve">to</text>
<text x="477.34" y="56" fill="#fff" font-size="14.0" textLength="22" lengthAdjust="spacing" xml:space="preserve">join</text>
<text x="528.41" y="56" fill="#fff" font-size="14.0" xml:space="preserve">&quot;</text>
<text x="626.81" y="56" fill="#fff" font-size="14.0" xml:space="preserve">&quot;</text>
<text x="529.01" y="82" fill="#fff" font-size="14.0" textLength="92" lengthAdjust="spacing" xml:space="preserve">select list item</text>
<text x="629.36" y="82" fill="#fff" font-size="14.0" textLength="18" lengthAdjust="spacing" xml:space="preserve">list</text>
<text x="617.26" y="134" fill="#fff" font-size="14.0" textLength="34" lengthAdjust="spacing" xml:space="preserve">index</text>
<text x="681.61" y="82" fill="#fff" font-size="14.0" textLength="92" lengthAdjust="spacing" xml:space="preserve">select list item</text>
<text x="782.06" y="82" fill="#fff" font-size="14.0" textLength="18" lengthAdjust="spacing" xml:space="preserve">list</text>
<text x="768.66" y="108" fill="#fff" font-size="14.0" textLength="34" lengthAdjust="spacing" xml:space="preserve">index</text>
<text x="832.81" y="82" fill="#fff" font-size="14.0" textLength="20" lengthAdjust="spacing" xml:space="preserve">get</text>
<text x="528.41" y="160" fill="#fff" font-size="14.0" xml:space="preserve">&quot;</text>
<text x="558.21" y="160" fill="#fff" font-size="14.0" xml:space="preserve">&quot;</text>
<text x="529.01" y="186" fill="#fff" font-size="14.0" textLength="92" lengthAdjust="spacing" xml:space="preserve">select list item</text>
<text x="629.36" y="186" fill="#fff" font-size="14.0" textLength="18" lengthAdjust="spacing" xml:space="preserve">list</text>
<text x="617.26" y="238" fill="#fff" font-size="14.0" textLength="34" lengthAdjust="spacing" xml:space="preserve">index</text>
<text x="681.61" y="186" fill="#fff" font-size="14.0" textLength="92" lengthAdjust="spacing" xml:space="preserve">select list item</text>
<text x="782.06" y="186" fill="#fff" font-size="14.0" textLength="18" lengthAdjust="spacing" xml:space="preserve">list</text>
<text x="768.66" y="212" fill="#fff" font-size="14.0" textLength="34" lengthAdjust="spacing" xml:space="preserve">index</text>
<text x="832.81" y="186" fill="#fff" font-size="14.0" textLength="20" lengthAdjust="spacing" xml:space="preserve">get</text>
<text x="529.01" y="264" fill="#fff" font-size="14.0" textLength="92" lengthAdjust="spacing" xml:space="preserve">select list item</text>
<text x="629.36" y="264" fill="#fff" font-size="14.0" textLength="18" lengthAdjust="spacing" xml:space="preserve">list</text>
<text x="617.26" y="316" fill="#fff" font-size="14.0" textLength="34" lengthAdjust="spacing" xml:space="preserve">index</text>
<text x="681.61" y="264" fill="#fff" font-size="14.0" textLength="92" lengthAdjust="spacing" xml:space="preserve">select list item</text>
<text x="782.06" y="264" fill="#fff" font-size="14.0" textLength="18" lengthAdjust="spacing" xml:space="preserve">list</text>
<text x="768.66" y="290" fill="#fff" font-size="14.0" textLength="34" lengthAdjust="spacing" xml:space="preserve">index</text>
<text x="832.81" y="264" fill="#fff" font-size="14.0" textLength="20" lengthAdjust="spacing" xml:space="preserve">get</text>
<text x="528.41" y="342" fill="#fff" font-size="14.0" xml:space="preserve">&quot;</text>
<text x="586.21" y="342" fill="#fff" font-size="14.0" xml:space="preserve">&quot;</text>
<text x="121.41" y="368" fill="#fff" font-size="14.0" textLength="22" lengthAdjust="spacing" xml:space="preserve">call</text>
<text x="318.12" y="368" fill="#fff" font-size="14.0" textLength="79" lengthAdjust="spacing" xml:space="preserve">.StartActivity</text>
<text x="69.32" y="449" fill="#fff" font-size="14.0" textLength="34" lengthAdjust="spacing" xml:space="preserve">when</text>
<text x="224.92" y="449" fill="#fff" font-size="14.0" textLength="35" lengthAdjust="spacing" xml:space="preserve">.Click</text>
<text x="68.71" y="474.2" fill="#fff" font-size="14.0" textLength="16" lengthAdjust="spacing" xml:space="preserve">do</text>
<text x="106.21" y="475" fill="#fff" font-size="14.0" textLength="20" lengthAdjust="spacing" xml:space="preserve">set</text>
<text x="301.72" y="475" fill="#fff" font-size="14.0" xml:space="preserve">.</text>
<text x="393.89" y="475" fill="#fff" font-size="14.0" textLength="12" lengthAdjust="spacing" xml:space="preserve">to</text>
<text x="462.34" y="475" fill="#fff" font-size="14.0" textLength="22" lengthAdjust="spacing" xml:space="preserve">join</text>
<text x="513.41" y="475" fill="#fff" font-size="14.0" xml:space="preserve">&quot;</text>
<text x="611.81" y="475" fill="#fff" font-size="14.0" xml:space="preserve">&quot;</text>
<text x="514.01" y="501" fill="#fff" font-size="14.0" textLength="92" lengthAdjust="spacing" xml:space="preserve">select list item</text>
<text x="614.36" y="501" fill="#fff" font-size="14.0" textLength="18" lengthAdjust="spacing" xml:space="preserve">list</text>
<text x="602.26" y="553" fill="#fff" font-size="14.0" textLength="34" lengthAdjust="spacing" xml:space="preserve">index</text>
<text x="666.61" y="501" fill="#fff" font-size="14.0" textLength="92" lengthAdjust="spacing" xml:space="preserve">select list item</text>
<text x="767.06" y="501" fill="#fff" font-size="14.0" textLength="18" lengthAdjust="spacing" xml:space="preserve">list</text>
<text x="753.66" y="527" fill="#fff" font-size="14.0" textLength="34" lengthAdjust="spacing" xml:space="preserve">index</text>
<text x="817.81" y="501" fill="#fff" font-size="14.0" textLength="20" lengthAdjust="spacing" xml:space="preserve">get</text>
<text x="513.41" y="579" fill="#fff" font-size="14.0" xml:space="preserve">&quot;</text>
<text x="543.21" y="579" fill="#fff" font-size="14.0" xml:space="preserve">&quot;</text>
<text x="514.01" y="605" fill="#fff" font-size="14.0" textLength="92" lengthAdjust="spacing" xml:space="preserve">select list item</text>
<text x="614.36" y="605" fill="#fff" font-size="14.0" textLength="18" lengthAdjust="spacing" xml:space="preserve">list</text>
<text x="602.26" y="657" fill="#fff" font-size="14.0" textLength="34" lengthAdjust="spacing" xml:space="preserve">index</text>
<text x="666.61" y="605" fill="#fff" font-size="14.0" textLength="92" lengthAdjust="spacing" xml:space="preserve">select list item</text>
<text x="767.06" y="605" fill="#fff" font-size="14.0" textLength="18" lengthAdjust="spacing" xml:space="preserve">list</text>
<text x="753.66" y="631" fill="#fff" font-size="14.0" textLength="34" lengthAdjust="spacing" xml:space="preserve">index</text>
<text x="817.81" y="605" fill="#fff" font-size="14.0" textLength="20" lengthAdjust="spacing" xml:space="preserve">get</text>
<text x="514.01" y="683" fill="#fff" font-size="14.0" textLength="92" lengthAdjust="spacing" xml:space="preserve">select list item</text>
<text x="614.36" y="683" fill="#fff" font-size="14.0" textLength="18" lengthAdjust="spacing" xml:space="preserve">list</text>
<text x="602.26" y="735" fill="#fff" font-size="14.0" textLength="34" lengthAdjust="spacing" xml:space="preserve">index</text>
<text x="666.61" y="683" fill="#fff" font-size="14.0" textLength="92" lengthAdjust="spacing" xml:space="preserve">select list item</text>
<text x="767.06" y="683" fill="#fff" font-size="14.0" textLength="18" lengthAdjust="spacing" xml:space="preserve">list</text>
<text x="753.66" y="709" fill="#fff" font-size="14.0" textLength="34" lengthAdjust="spacing" xml:space="preserve">index</text>
<text x="817.81" y="683" fill="#fff" font-size="14.0" textLength="20" lengthAdjust="spacing" xml:space="preserve">get</text>
<text x="513.41" y="761" fill="#fff" font-size="14.0" xml:space="preserve">&quot;</text>
<text x="571.21" y="761" fill="#fff" font-size="14.0" xml:space="preserve">&quot;</text>
<text x="106.41" y="787" fill="#fff" font-size="14.0" textLength="22" lengthAdjust="spacing" xml:space="preserve">call</text>
<text x="303.12" y="787" fill="#fff" font-size="14.0" textLength="79" lengthAdjust="spacing" xml:space="preserve">.StartActivity</text>
<text x="60.32" y="879" fill="#fff" font-size="14.0" textLength="34" lengthAdjust="spacing" xml:space="preserve">when</text>
<text x="213.92" y="879" fill="#fff" font-size="14.0" textLength="35" lengthAdjust="spacing" xml:space="preserve">.Click</text>
<text x="59.71" y="904.2" fill="#fff" font-size="14.0" textLength="16" lengthAdjust="spacing" xml:space="preserve">do</text>
<text x="97.21" y="905" fill="#fff" font-size="14.0" textLength="20" lengthAdjust="spacing" xml:space="preserve">set</text>
<text x="292.72" y="905" fill="#fff" font-size="14.0" xml:space="preserve">.</text>
<text x="384.89" y="905" fill="#fff" font-size="14.0" textLength="12" lengthAdjust="spacing" xml:space="preserve">to</text>
<text x="453.34" y="905" fill="#fff" font-size="14.0" textLength="22" lengthAdjust="spacing" xml:space="preserve">join</text>
<text x="504.41" y="905" fill="#fff" font-size="14.0" xml:space="preserve">&quot;</text>
<text x="602.81" y="905" fill="#fff" font-size="14.0" xml:space="preserve">&quot;</text>
<text x="505.01" y="931" fill="#fff" font-size="14.0" textLength="92" lengthAdjust="spacing" xml:space="preserve">select list item</text>
<text x="605.36" y="931" fill="#fff" font-size="14.0" textLength="18" lengthAdjust="spacing" xml:space="preserve">list</text>
<text x="593.26" y="983" fill="#fff" font-size="14.0" textLength="34" lengthAdjust="spacing" xml:space="preserve">index</text>
<text x="657.61" y="931" fill="#fff" font-size="14.0" textLength="92" lengthAdjust="spacing" xml:space="preserve">select list item</text>
<text x="758.06" y="931" fill="#fff" font-size="14.0" textLength="18" lengthAdjust="spacing" xml:space="preserve">list</text>
<text x="744.66" y="957" fill="#fff" font-size="14.0" textLength="34" lengthAdjust="spacing" xml:space="preserve">index</text>
<text x="808.81" y="931" fill="#fff" font-size="14.0" textLength="20" lengthAdjust="spacing" xml:space="preserve">get</text>
<text x="504.41" y="1009" fill="#fff" font-size="14.0" xml:space="preserve">&quot;</text>
<text x="534.21" y="1009" fill="#fff" font-size="14.0" xml:space="preserve">&quot;</text>
<text x="505.01" y="1035" fill="#fff" font-size="14.0" textLength="92" lengthAdjust="spacing" xml:space="preserve">select list item</text>
<text x="605.36" y="1035" fill="#fff" font-size="14.0" textLength="18" lengthAdjust="spacing" xml:space="preserve">list</text>
<text x="593.26" y="1087" fill="#fff" font-size="14.0" textLength="34" lengthAdjust="spacing" xml:space="preserve">index</text>
<text x="657.61" y="1035" fill="#fff" font-size="14.0" textLength="92" lengthAdjust="spacing" xml:space="preserve">select list item</text>
<text x="758.06" y="1035" fill="#fff" font-size="14.0" textLength="18" lengthAdjust="spacing" xml:space="preserve">list</text>
<text x="744.66" y="1061" fill="#fff" font-size="14.0" textLength="34" lengthAdjust="spacing" xml:space="preserve">index</text>
<text x="808.81" y="1035" fill="#fff" font-size="14.0" textLength="20" lengthAdjust="spacing" xml:space="preserve">get</text>
<text x="505.01" y="1113" fill="#fff" font-size="14.0" textLength="92" lengthAdjust="spacing" xml:space="preserve">select list item</text>
<text x="605.36" y="1113" fill="#fff" font-size="14.0" textLength="18" lengthAdjust="spacing" xml:space="preserve">list</text>
<text x="593.26" y="1165" fill="#fff" font-size="14.0" textLength="34" lengthAdjust="spacing" xml:space="preserve">index</text>
<text x="657.61" y="1113" fill="#fff" font-size="14.0" textLength="92" lengthAdjust="spacing" xml:space="preserve">select list item</text>
<text x="758.06" y="1113" fill="#fff" font-size="14.0" textLength="18" lengthAdjust="spacing" xml:space="preserve">list</text>
<text x="744.66" y="1139" fill="#fff" font-size="14.0" textLength="34" lengthAdjust="spacing" xml:space="preserve">index</text>
<text x="808.81" y="1113" fill="#fff" font-size="14.0" textLength="20" lengthAdjust="spacing" xml:space="preserve">get</text>
<text x="504.41" y="1191" fill="#fff" font-size="14.0" xml:space="preserve">&quot;</text>
<text x="562.21" y="1191" fill="#fff" font-size="14.0" xml:space="preserve">&quot;</text>
<text x="97.41" y="1217" fill="#fff" font-size="14.0" textLength="22" lengthAdjust="spacing" xml:space="preserve">call</text>
<text x="294.12" y="1217" fill="#fff" font-size="14.0" textLength="79" lengthAdjust="spacing" xml:space="preserve">.StartActivity</text>
<text x="58.32" y="1291" fill="#fff" font-size="14.0" textLength="34" lengthAdjust="spacing" xml:space="preserve">when</text>
<text x="158.42" y="1291" fill="#fff" font-size="14.0" textLength="35" lengthAdjust="spacing" xml:space="preserve">.Click</text>
<text x="57.71" y="1316.2" fill="#fff" font-size="14.0" textLength="16" lengthAdjust="spacing" xml:space="preserve">do</text>
<text x="95.41" y="1317.3" fill="#fff" font-size="14.0" textLength="20" lengthAdjust="spacing" xml:space="preserve">set</text>
<text x="230.89" y="1317.3" fill="#fff" font-size="14.0" textLength="12" lengthAdjust="spacing" xml:space="preserve">to</text>
<text x="271.01" y="1317.3" fill="#fff" font-size="14.0" xml:space="preserve">&quot;</text>
<text x="331.41" y="1317.3" fill="#fff" font-size="14.0" xml:space="preserve">&quot;</text>
<text x="95.21" y="1343.2" fill="#fff" font-size="14.0" textLength="22" lengthAdjust="spacing" xml:space="preserve">call</text>
<text x="51.32" y="1405" fill="#fff" font-size="14.0" textLength="34" lengthAdjust="spacing" xml:space="preserve">when</text>
<text x="166.82" y="1405" fill="#fff" font-size="14.0" textLength="35" lengthAdjust="spacing" xml:space="preserve">.Click</text>
<text x="50.71" y="1430.2" fill="#fff" font-size="14.0" textLength="16" lengthAdjust="spacing" xml:space="preserve">do</text>
<text x="114.66" y="1431" fill="#fff" font-size="14.0" textLength="7" lengthAdjust="spacing" xml:space="preserve">if</text>
<text x="87.79" y="1467.3" fill="#fff" font-size="14.0" textLength="28" lengthAdjust="spacing" xml:space="preserve">then</text>
<text x="87.81" y="1716" fill="#fff" font-size="14.0" textLength="27" lengthAdjust="spacing" xml:space="preserve">else</text>
<text x="334.72" y="1437.2" fill="#fff" font-size="14.0" xml:space="preserve">.</text>
<text x="464.91" y="1437.2" fill="#fff" font-size="14.0" textLength="20" lengthAdjust="spacing" xml:space="preserve">get</text>
<text x="137.31" y="1468.3" fill="#fff" font-size="14.0" textLength="20" lengthAdjust="spacing" xml:space="preserve">set</text>
<text x="322.32" y="1468.3" fill="#fff" font-size="14.0" xml:space="preserve">.</text>
<text x="410.29" y="1468.3" fill="#fff" font-size="14.0" textLength="12" lengthAdjust="spacing" xml:space="preserve">to</text>
<text x="137.31" y="1494.2" fill="#fff" font-size="14.0" textLength="20" lengthAdjust="spacing" xml:space="preserve">set</text>
<text x="240.22" y="1494.2" fill="#fff" font-size="14.0" xml:space="preserve">.</text>
<text x="328.19" y="1494.2" fill="#fff" font-size="14.0" textLength="12" lengthAdjust="spacing" xml:space="preserve">to</text>
<text x="137.31" y="1520.1" fill="#fff" font-size="14.0" textLength="20" lengthAdjust="spacing" xml:space="preserve">set</text>
<text x="236.72" y="1520.1" fill="#fff" font-size="14.0" xml:space="preserve">.</text>
<text x="324.69" y="1520.1" fill="#fff" font-size="14.0" textLength="12" lengthAdjust="spacing" xml:space="preserve">to</text>
<text x="137.31" y="1546" fill="#fff" font-size="14.0" textLength="20" lengthAdjust="spacing" xml:space="preserve">set</text>
<text x="230.22" y="1546" fill="#fff" font-size="14.0" xml:space="preserve">.</text>
<text x="318.19" y="1546" fill="#fff" font-size="14.0" textLength="12" lengthAdjust="spacing" xml:space="preserve">to</text>
<text x="137.31" y="1571.9" fill="#fff" font-size="14.0" textLength="20" lengthAdjust="spacing" xml:space="preserve">set</text>
<text x="224.62" y="1571.9" fill="#fff" font-size="14.0" xml:space="preserve">.</text>
<text x="312.59" y="1571.9" fill="#fff" font-size="14.0" textLength="12" lengthAdjust="spacing" xml:space="preserve">to</text>
<text x="137.31" y="1597.8" fill="#fff" font-size="14.0" textLength="20" lengthAdjust="spacing" xml:space="preserve">set</text>
<text x="267.02" y="1597.8" fill="#fff" font-size="14.0" xml:space="preserve">.</text>
<text x="354.99" y="1597.8" fill="#fff" font-size="14.0" textLength="12" lengthAdjust="spacing" xml:space="preserve">to</text>
<text x="137.31" y="1623.7" fill="#fff" font-size="14.0" textLength="20" lengthAdjust="spacing" xml:space="preserve">set</text>
<text x="353.82" y="1623.7" fill="#fff" font-size="14.0" xml:space="preserve">.</text>
<text x="441.79" y="1623.7" fill="#fff" font-size="14.0" textLength="12" lengthAdjust="spacing" xml:space="preserve">to</text>
<text x="137.31" y="1649.6" fill="#fff" font-size="14.0" textLength="20" lengthAdjust="spacing" xml:space="preserve">set</text>
<text x="337.72" y="1649.6" fill="#fff" font-size="14.0" xml:space="preserve">.</text>
<text x="425.69" y="1649.6" fill="#fff" font-size="14.0" textLength="12" lengthAdjust="spacing" xml:space="preserve">to</text>
<text x="137.31" y="1675.5" fill="#fff" font-size="14.0" textLength="20" lengthAdjust="spacing" xml:space="preserve">set</text>
<text x="353.82" y="1675.5" fill="#fff" font-size="14.0" xml:space="preserve">.</text>
<text x="441.79" y="1675.5" fill="#fff" font-size="14.0" textLength="12" lengthAdjust="spacing" xml:space="preserve">to</text>
<text x="137.01" y="1716" fill="#fff" font-size="14.0" textLength="20" lengthAdjust="spacing" xml:space="preserve">set</text>
<text x="251.12" y="1716" fill="#fff" font-size="14.0" xml:space="preserve">.</text>
<text x="339.09" y="1716" fill="#fff" font-size="14.0" textLength="12" lengthAdjust="spacing" xml:space="preserve">to</text>
<text x="48.32" y="1813" fill="#fff" font-size="14.0" textLength="34" lengthAdjust="spacing" xml:space="preserve">when</text>
<text x="146.32" y="1813" fill="#fff" font-size="14.0" textLength="35" lengthAdjust="spacing" xml:space="preserve">.Click</text>
<text x="47.71" y="1838.2" fill="#fff" font-size="14.0" textLength="16" lengthAdjust="spacing" xml:space="preserve">do</text>
<text x="85.11" y="1839.6" fill="#fff" font-size="14.0" textLength="20" lengthAdjust="spacing" xml:space="preserve">set</text>
<text x="178.22" y="1839.6" fill="#fff" font-size="14.0" xml:space="preserve">.</text>
<text x="266.19" y="1839.6" fill="#fff" font-size="14.0" textLength="12" lengthAdjust="spacing" xml:space="preserve">to</text>
<text x="85.11" y="1865.5" fill="#fff" font-size="14.0" textLength="20" lengthAdjust="spacing" xml:space="preserve">set</text>
<text x="285.52" y="1865.5" fill="#fff" font-size="14.0" xml:space="preserve">.</text>
<text x="373.49" y="1865.5" fill="#fff" font-size="14.0" textLength="12" lengthAdjust="spacing" xml:space="preserve">to</text>
<text x="85.11" y="1891.4" fill="#fff" font-size="14.0" textLength="20" lengthAdjust="spacing" xml:space="preserve">set</text>
<text x="194.72" y="1891.4" fill="#fff" font-size="14.0" xml:space="preserve">.</text>
<text x="282.69" y="1891.4" fill="#fff" font-size="14.0" textLength="12" lengthAdjust="spacing" xml:space="preserve">to</text>
<text x="85.11" y="1917.3" fill="#fff" font-size="14.0" textLength="20" lengthAdjust="spacing" xml:space="preserve">set</text>
<text x="172.62" y="1917.3" fill="#fff" font-size="14.0" xml:space="preserve">.</text>
<text x="260.59" y="1917.3" fill="#fff" font-size="14.0" textLength="12" lengthAdjust="spacing" xml:space="preserve">to</text>
<text x="85.11" y="1943.2" fill="#fff" font-size="14.0" textLength="20" lengthAdjust="spacing" xml:space="preserve">set</text>
<text x="214.82" y="1943.2" fill="#fff" font-size="14.0" xml:space="preserve">.</text>
<text x="302.79" y="1943.2" fill="#fff" font-size="14.0" textLength="12" lengthAdjust="spacing" xml:space="preserve">to</text>
<text x="85.11" y="1969.1" fill="#fff" font-size="14.0" textLength="20" lengthAdjust="spacing" xml:space="preserve">set</text>
<text x="301.62" y="1969.1" fill="#fff" font-size="14.0" xml:space="preserve">.</text>
<text x="389.59" y="1969.1" fill="#fff" font-size="14.0" textLength="12" lengthAdjust="spacing" xml:space="preserve">to</text>
<text x="85.11" y="1995" fill="#fff" font-size="14.0" textLength="20" lengthAdjust="spacing" xml:space="preserve">set</text>
<text x="301.62" y="1995" fill="#fff" font-size="14.0" xml:space="preserve">.</text>
<text x="389.59" y="1995" fill="#fff" font-size="14.0" textLength="12" lengthAdjust="spacing" xml:space="preserve">to</text>
<text x="85.11" y="2020.9" fill="#fff" font-size="14.0" textLength="20" lengthAdjust="spacing" xml:space="preserve">set</text>
<text x="166.92" y="2020.9" fill="#fff" font-size="14.0" xml:space="preserve">.</text>
<text x="299.49" y="2020.9" fill="#fff" font-size="14.0" textLength="12" lengthAdjust="spacing" xml:space="preserve">to</text>
<text x="85.11" y="2046.8" fill="#fff" font-size="14.0" textLength="20" lengthAdjust="spacing" xml:space="preserve">set</text>
<text x="199.72" y="2046.8" fill="#fff" font-size="14.0" xml:space="preserve">.</text>
<text x="287.69" y="2046.8" fill="#fff" font-size="14.0" textLength="12" lengthAdjust="spacing" xml:space="preserve">to</text>
<text x="45.32" y="2116" fill="#fff" font-size="14.0" textLength="34" lengthAdjust="spacing" xml:space="preserve">when</text>
<text x="187.02" y="2116" fill="#fff" font-size="14.0" textLength="35" lengthAdjust="spacing" xml:space="preserve">.Click</text>
<text x="44.71" y="2141.2" fill="#fff" font-size="14.0" textLength="16" lengthAdjust="spacing" xml:space="preserve">do</text>
<text x="82.21" y="2142.8" fill="#fff" font-size="14.0" textLength="20" lengthAdjust="spacing" xml:space="preserve">set</text>
<text x="226.82" y="2142.8" fill="#fff" font-size="14.0" xml:space="preserve">.</text>
<text x="314.79" y="2142.8" fill="#fff" font-size="14.0" textLength="12" lengthAdjust="spacing" xml:space="preserve">to</text>
<text x="82.21" y="2168.7" fill="#fff" font-size="14.0" textLength="20" lengthAdjust="spacing" xml:space="preserve">set</text>
<text x="225.52" y="2168.7" fill="#fff" font-size="14.0" xml:space="preserve">.</text>
<text x="313.49" y="2168.7" fill="#fff" font-size="14.0" textLength="12" lengthAdjust="spacing" xml:space="preserve">to</text>
<text x="82.21" y="2194.6" fill="#fff" font-size="14.0" textLength="20" lengthAdjust="spacing" xml:space="preserve">set</text>
<text x="223.02" y="2194.6" fill="#fff" font-size="14.0" xml:space="preserve">.</text>
<text x="310.99" y="2194.6" fill="#fff" font-size="14.0" textLength="12" lengthAdjust="spacing" xml:space="preserve">to</text>
<text x="82.01" y="2220.5" fill="#fff" font-size="14.0" textLength="20" lengthAdjust="spacing" xml:space="preserve">set</text>
<text x="217.79" y="2220.5" fill="#fff" font-size="14.0" textLength="12" lengthAdjust="spacing" xml:space="preserve">to</text>
<text x="258.71" y="2220.5" fill="#fff" font-size="14.0" xml:space="preserve">&quot;</text>
<text x="335.21" y="2220.5" fill="#fff" font-size="14.0" xml:space="preserve">&quot;</text>
<text x="82.01" y="2246.4" fill="#fff" font-size="14.0" textLength="20" lengthAdjust="spacing" xml:space="preserve">set</text>
<text x="255.59" y="2246.4" fill="#fff" font-size="14.0" textLength="12" lengthAdjust="spacing" xml:space="preserve">to</text>
<text x="325.11" y="2246.4" fill="#fff" font-size="14.0" textLength="106" lengthAdjust="spacing" xml:space="preserve">create empty list</text>
<text x="81.81" y="2272.3" fill="#fff" font-size="14.0" textLength="22" lengthAdjust="spacing" xml:space="preserve">call</text>
</g>
</svg>
</body></html>
